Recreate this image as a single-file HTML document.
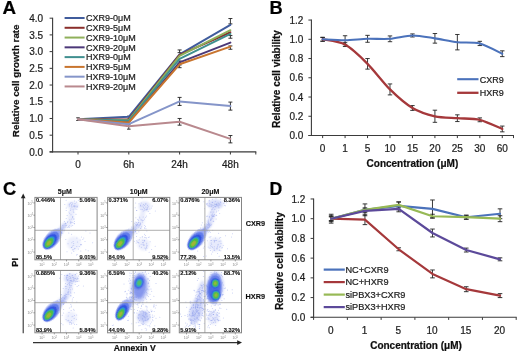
<!DOCTYPE html>
<html><head><meta charset="utf-8"><style>
html,body{margin:0;padding:0;background:#fff;}
svg{display:block;will-change:transform;font-family:"Liberation Sans", sans-serif;}
</style></head><body>
<svg width="520" height="354" viewBox="0 0 520 354">
<defs><filter id="gb" filterUnits="userSpaceOnUse" x="0" y="0" width="520" height="354"><feGaussianBlur stdDeviation="0.3"/></filter><filter id="bl" x="-50%" y="-50%" width="200%" height="200%"><feGaussianBlur stdDeviation="0.7"/></filter><filter id="bl2" x="-50%" y="-50%" width="200%" height="200%"><feGaussianBlur stdDeviation="1.3"/></filter><clipPath id="cp00"><rect x="34.9" y="197.4" width="62.2" height="62.4"/></clipPath><clipPath id="cp01"><rect x="107.6" y="197.4" width="62.2" height="62.4"/></clipPath><clipPath id="cp02"><rect x="179.3" y="197.4" width="62.2" height="62.4"/></clipPath><clipPath id="cp10"><rect x="34.9" y="270.4" width="62.2" height="62.4"/></clipPath><clipPath id="cp11"><rect x="107.6" y="270.4" width="62.2" height="62.4"/></clipPath><clipPath id="cp12"><rect x="179.3" y="270.4" width="62.2" height="62.4"/></clipPath></defs>
<rect width="520" height="354" fill="#fff"/>
<g filter="url(#gb)">
<text x="2.40" y="14.00" font-size="18.8" font-weight="bold" text-anchor="start" fill="#000" stroke="#000" stroke-width="0.22" >A</text>
<line x1="52.60" y1="17.68" x2="52.60" y2="152.40" stroke="#3a3a3a" stroke-width="1.1" />
<line x1="49.60" y1="151.90" x2="256.30" y2="151.90" stroke="#3a3a3a" stroke-width="1.1" />
<line x1="49.60" y1="151.90" x2="52.60" y2="151.90" stroke="#3a3a3a" stroke-width="1" />
<text x="43.20" y="155.50" font-size="10" font-weight="normal" text-anchor="end" fill="#1e1e1e" stroke="#1e1e1e" stroke-width="0.22" >0.0</text>
<line x1="49.60" y1="135.19" x2="52.60" y2="135.19" stroke="#3a3a3a" stroke-width="1" />
<text x="43.20" y="138.78" font-size="10" font-weight="normal" text-anchor="end" fill="#1e1e1e" stroke="#1e1e1e" stroke-width="0.22" >0.5</text>
<line x1="49.60" y1="118.47" x2="52.60" y2="118.47" stroke="#3a3a3a" stroke-width="1" />
<text x="43.20" y="122.07" font-size="10" font-weight="normal" text-anchor="end" fill="#1e1e1e" stroke="#1e1e1e" stroke-width="0.22" >1.0</text>
<line x1="49.60" y1="101.76" x2="52.60" y2="101.76" stroke="#3a3a3a" stroke-width="1" />
<text x="43.20" y="105.36" font-size="10" font-weight="normal" text-anchor="end" fill="#1e1e1e" stroke="#1e1e1e" stroke-width="0.22" >1.5</text>
<line x1="49.60" y1="85.04" x2="52.60" y2="85.04" stroke="#3a3a3a" stroke-width="1" />
<text x="43.20" y="88.64" font-size="10" font-weight="normal" text-anchor="end" fill="#1e1e1e" stroke="#1e1e1e" stroke-width="0.22" >2.0</text>
<line x1="49.60" y1="68.33" x2="52.60" y2="68.33" stroke="#3a3a3a" stroke-width="1" />
<text x="43.20" y="71.92" font-size="10" font-weight="normal" text-anchor="end" fill="#1e1e1e" stroke="#1e1e1e" stroke-width="0.22" >2.5</text>
<line x1="49.60" y1="51.61" x2="52.60" y2="51.61" stroke="#3a3a3a" stroke-width="1" />
<text x="43.20" y="55.21" font-size="10" font-weight="normal" text-anchor="end" fill="#1e1e1e" stroke="#1e1e1e" stroke-width="0.22" >3.0</text>
<line x1="49.60" y1="34.90" x2="52.60" y2="34.90" stroke="#3a3a3a" stroke-width="1" />
<text x="43.20" y="38.50" font-size="10" font-weight="normal" text-anchor="end" fill="#1e1e1e" stroke="#1e1e1e" stroke-width="0.22" >3.5</text>
<line x1="49.60" y1="18.18" x2="52.60" y2="18.18" stroke="#3a3a3a" stroke-width="1" />
<text x="43.20" y="21.78" font-size="10" font-weight="normal" text-anchor="end" fill="#1e1e1e" stroke="#1e1e1e" stroke-width="0.22" >4.0</text>
<line x1="78.00" y1="151.90" x2="78.00" y2="154.50" stroke="#3a3a3a" stroke-width="1" />
<line x1="128.80" y1="151.90" x2="128.80" y2="154.50" stroke="#3a3a3a" stroke-width="1" />
<line x1="179.60" y1="151.90" x2="179.60" y2="154.50" stroke="#3a3a3a" stroke-width="1" />
<line x1="230.40" y1="151.90" x2="230.40" y2="154.50" stroke="#3a3a3a" stroke-width="1" />
<line x1="255.80" y1="151.90" x2="255.80" y2="154.50" stroke="#3a3a3a" stroke-width="1" />
<text x="78.00" y="168.40" font-size="10" font-weight="normal" text-anchor="middle" fill="#1e1e1e" stroke="#1e1e1e" stroke-width="0.22" >0</text>
<text x="128.80" y="168.40" font-size="10" font-weight="normal" text-anchor="middle" fill="#1e1e1e" stroke="#1e1e1e" stroke-width="0.22" >6h</text>
<text x="179.60" y="168.40" font-size="10" font-weight="normal" text-anchor="middle" fill="#1e1e1e" stroke="#1e1e1e" stroke-width="0.22" >24h</text>
<text x="230.40" y="168.40" font-size="10" font-weight="normal" text-anchor="middle" fill="#1e1e1e" stroke="#1e1e1e" stroke-width="0.22" >48h</text>
<text x="19.30" y="80.80" font-size="9.8" font-weight="bold" text-anchor="middle" fill="#111" stroke="#111" stroke-width="0.22" transform="rotate(-90 19.3 80.8)">Relative cell growth rate</text>
<line x1="78.00" y1="117.80" x2="78.00" y2="120.48" stroke="#222" stroke-width="0.9" />
<line x1="76.20" y1="117.80" x2="79.80" y2="117.80" stroke="#222" stroke-width="0.9" />
<line x1="76.20" y1="120.48" x2="79.80" y2="120.48" stroke="#222" stroke-width="0.9" />
<line x1="128.80" y1="116.13" x2="128.80" y2="119.14" stroke="#222" stroke-width="0.9" />
<line x1="127.00" y1="116.13" x2="130.60" y2="116.13" stroke="#222" stroke-width="0.9" />
<line x1="127.00" y1="119.14" x2="130.60" y2="119.14" stroke="#222" stroke-width="0.9" />
<line x1="128.80" y1="124.15" x2="128.80" y2="129.17" stroke="#222" stroke-width="0.9" />
<line x1="127.00" y1="124.15" x2="130.60" y2="124.15" stroke="#222" stroke-width="0.9" />
<line x1="127.00" y1="129.17" x2="130.60" y2="129.17" stroke="#222" stroke-width="0.9" />
<line x1="179.60" y1="49.94" x2="179.60" y2="52.61" stroke="#222" stroke-width="0.9" />
<line x1="177.60" y1="49.94" x2="181.60" y2="49.94" stroke="#222" stroke-width="0.9" />
<line x1="177.60" y1="52.61" x2="181.60" y2="52.61" stroke="#222" stroke-width="0.9" />
<line x1="179.60" y1="60.97" x2="179.60" y2="63.31" stroke="#222" stroke-width="0.9" />
<line x1="177.60" y1="60.97" x2="181.60" y2="60.97" stroke="#222" stroke-width="0.9" />
<line x1="177.60" y1="63.31" x2="181.60" y2="63.31" stroke="#222" stroke-width="0.9" />
<line x1="179.60" y1="64.98" x2="179.60" y2="67.66" stroke="#222" stroke-width="0.9" />
<line x1="177.60" y1="64.98" x2="181.60" y2="64.98" stroke="#222" stroke-width="0.9" />
<line x1="177.60" y1="67.66" x2="181.60" y2="67.66" stroke="#222" stroke-width="0.9" />
<line x1="179.60" y1="97.41" x2="179.60" y2="105.43" stroke="#222" stroke-width="0.9" />
<line x1="177.60" y1="97.41" x2="181.60" y2="97.41" stroke="#222" stroke-width="0.9" />
<line x1="177.60" y1="105.43" x2="181.60" y2="105.43" stroke="#222" stroke-width="0.9" />
<line x1="179.60" y1="118.47" x2="179.60" y2="125.16" stroke="#222" stroke-width="0.9" />
<line x1="177.60" y1="118.47" x2="181.60" y2="118.47" stroke="#222" stroke-width="0.9" />
<line x1="177.60" y1="125.16" x2="181.60" y2="125.16" stroke="#222" stroke-width="0.9" />
<line x1="230.40" y1="18.51" x2="230.40" y2="23.86" stroke="#222" stroke-width="0.9" />
<line x1="228.40" y1="18.51" x2="232.40" y2="18.51" stroke="#222" stroke-width="0.9" />
<line x1="228.40" y1="23.86" x2="232.40" y2="23.86" stroke="#222" stroke-width="0.9" />
<line x1="230.40" y1="35.56" x2="230.40" y2="38.24" stroke="#222" stroke-width="0.9" />
<line x1="228.40" y1="35.56" x2="232.40" y2="35.56" stroke="#222" stroke-width="0.9" />
<line x1="228.40" y1="38.24" x2="232.40" y2="38.24" stroke="#222" stroke-width="0.9" />
<line x1="230.40" y1="45.93" x2="230.40" y2="49.27" stroke="#222" stroke-width="0.9" />
<line x1="228.40" y1="45.93" x2="232.40" y2="45.93" stroke="#222" stroke-width="0.9" />
<line x1="228.40" y1="49.27" x2="232.40" y2="49.27" stroke="#222" stroke-width="0.9" />
<line x1="230.40" y1="102.09" x2="230.40" y2="110.11" stroke="#222" stroke-width="0.9" />
<line x1="228.40" y1="102.09" x2="232.40" y2="102.09" stroke="#222" stroke-width="0.9" />
<line x1="228.40" y1="110.11" x2="232.40" y2="110.11" stroke="#222" stroke-width="0.9" />
<line x1="230.40" y1="135.52" x2="230.40" y2="142.87" stroke="#222" stroke-width="0.9" />
<line x1="228.40" y1="135.52" x2="232.40" y2="135.52" stroke="#222" stroke-width="0.9" />
<line x1="228.40" y1="142.87" x2="232.40" y2="142.87" stroke="#222" stroke-width="0.9" />
<polyline points="78.00,119.14 128.80,116.80 179.60,54.28 230.40,24.87" fill="none" stroke="#3f5b9c" stroke-width="2.0" stroke-linejoin="round" stroke-linecap="round"/>
<polyline points="78.00,119.14 128.80,119.47 179.60,54.95 230.40,32.22" fill="none" stroke="#8a2e2b" stroke-width="2.0" stroke-linejoin="round" stroke-linecap="round"/>
<polyline points="78.00,119.14 128.80,120.14 179.60,55.96 230.40,30.21" fill="none" stroke="#8fb05a" stroke-width="2.0" stroke-linejoin="round" stroke-linecap="round"/>
<polyline points="78.00,119.14 128.80,121.81 179.60,62.31 230.40,42.58" fill="none" stroke="#4b3878" stroke-width="2.0" stroke-linejoin="round" stroke-linecap="round"/>
<polyline points="78.00,119.14 128.80,120.81 179.60,58.96 230.40,33.89" fill="none" stroke="#3f8f8f" stroke-width="2.0" stroke-linejoin="round" stroke-linecap="round"/>
<polyline points="78.00,119.14 128.80,122.48 179.60,64.31 230.40,46.60" fill="none" stroke="#c8742f" stroke-width="2.0" stroke-linejoin="round" stroke-linecap="round"/>
<polyline points="78.00,119.14 128.80,124.15 179.60,101.42 230.40,106.10" fill="none" stroke="#8595c9" stroke-width="2.0" stroke-linejoin="round" stroke-linecap="round"/>
<polyline points="78.00,119.14 128.80,126.16 179.60,121.81 230.40,138.86" fill="none" stroke="#b9898e" stroke-width="2.0" stroke-linejoin="round" stroke-linecap="round"/>
<line x1="64.60" y1="18.00" x2="84.60" y2="18.00" stroke="#3f5b9c" stroke-width="2.0" />
<text x="86.00" y="21.30" font-size="9" font-weight="normal" text-anchor="start" fill="#1e1e1e" stroke="#1e1e1e" stroke-width="0.22" >CXR9-0μM</text>
<line x1="64.60" y1="27.78" x2="84.60" y2="27.78" stroke="#8a2e2b" stroke-width="2.0" />
<text x="86.00" y="31.08" font-size="9" font-weight="normal" text-anchor="start" fill="#1e1e1e" stroke="#1e1e1e" stroke-width="0.22" >CXR9-5μM</text>
<line x1="64.60" y1="37.56" x2="84.60" y2="37.56" stroke="#8fb05a" stroke-width="2.0" />
<text x="86.00" y="40.86" font-size="9" font-weight="normal" text-anchor="start" fill="#1e1e1e" stroke="#1e1e1e" stroke-width="0.22" >CXR9-10μM</text>
<line x1="64.60" y1="47.34" x2="84.60" y2="47.34" stroke="#4b3878" stroke-width="2.0" />
<text x="86.00" y="50.64" font-size="9" font-weight="normal" text-anchor="start" fill="#1e1e1e" stroke="#1e1e1e" stroke-width="0.22" >CXR9-20μM</text>
<line x1="64.60" y1="57.12" x2="84.60" y2="57.12" stroke="#3f8f8f" stroke-width="2.0" />
<text x="86.00" y="60.42" font-size="9" font-weight="normal" text-anchor="start" fill="#1e1e1e" stroke="#1e1e1e" stroke-width="0.22" >HXR9-0μM</text>
<line x1="64.60" y1="66.90" x2="84.60" y2="66.90" stroke="#c8742f" stroke-width="2.0" />
<text x="86.00" y="70.20" font-size="9" font-weight="normal" text-anchor="start" fill="#1e1e1e" stroke="#1e1e1e" stroke-width="0.22" >HXR9-5μM</text>
<line x1="64.60" y1="76.68" x2="84.60" y2="76.68" stroke="#8595c9" stroke-width="2.0" />
<text x="86.00" y="79.98" font-size="9" font-weight="normal" text-anchor="start" fill="#1e1e1e" stroke="#1e1e1e" stroke-width="0.22" >HXR9-10μM</text>
<line x1="64.60" y1="86.46" x2="84.60" y2="86.46" stroke="#b9898e" stroke-width="2.0" />
<text x="86.00" y="89.76" font-size="9" font-weight="normal" text-anchor="start" fill="#1e1e1e" stroke="#1e1e1e" stroke-width="0.22" >HXR9-20μM</text>
<text x="269.40" y="13.80" font-size="18.2" font-weight="bold" text-anchor="start" fill="#000" stroke="#000" stroke-width="0.22" >B</text>
<line x1="311.40" y1="19.56" x2="311.40" y2="136.00" stroke="#3a3a3a" stroke-width="1.1" />
<line x1="308.40" y1="135.50" x2="514.00" y2="135.50" stroke="#3a3a3a" stroke-width="1.1" />
<line x1="308.40" y1="135.50" x2="311.40" y2="135.50" stroke="#3a3a3a" stroke-width="1" />
<text x="303.40" y="139.10" font-size="10" font-weight="normal" text-anchor="end" fill="#1e1e1e" stroke="#1e1e1e" stroke-width="0.22" >0.0</text>
<line x1="308.40" y1="116.26" x2="311.40" y2="116.26" stroke="#3a3a3a" stroke-width="1" />
<text x="303.40" y="119.86" font-size="10" font-weight="normal" text-anchor="end" fill="#1e1e1e" stroke="#1e1e1e" stroke-width="0.22" >0.2</text>
<line x1="308.40" y1="97.02" x2="311.40" y2="97.02" stroke="#3a3a3a" stroke-width="1" />
<text x="303.40" y="100.62" font-size="10" font-weight="normal" text-anchor="end" fill="#1e1e1e" stroke="#1e1e1e" stroke-width="0.22" >0.4</text>
<line x1="308.40" y1="77.78" x2="311.40" y2="77.78" stroke="#3a3a3a" stroke-width="1" />
<text x="303.40" y="81.38" font-size="10" font-weight="normal" text-anchor="end" fill="#1e1e1e" stroke="#1e1e1e" stroke-width="0.22" >0.6</text>
<line x1="308.40" y1="58.54" x2="311.40" y2="58.54" stroke="#3a3a3a" stroke-width="1" />
<text x="303.40" y="62.14" font-size="10" font-weight="normal" text-anchor="end" fill="#1e1e1e" stroke="#1e1e1e" stroke-width="0.22" >0.8</text>
<line x1="308.40" y1="39.30" x2="311.40" y2="39.30" stroke="#3a3a3a" stroke-width="1" />
<text x="303.40" y="42.90" font-size="10" font-weight="normal" text-anchor="end" fill="#1e1e1e" stroke="#1e1e1e" stroke-width="0.22" >1.0</text>
<line x1="308.40" y1="20.06" x2="311.40" y2="20.06" stroke="#3a3a3a" stroke-width="1" />
<text x="303.40" y="23.66" font-size="10" font-weight="normal" text-anchor="end" fill="#1e1e1e" stroke="#1e1e1e" stroke-width="0.22" >1.2</text>
<line x1="322.63" y1="135.50" x2="322.63" y2="138.10" stroke="#3a3a3a" stroke-width="1" />
<line x1="345.08" y1="135.50" x2="345.08" y2="138.10" stroke="#3a3a3a" stroke-width="1" />
<line x1="367.54" y1="135.50" x2="367.54" y2="138.10" stroke="#3a3a3a" stroke-width="1" />
<line x1="389.99" y1="135.50" x2="389.99" y2="138.10" stroke="#3a3a3a" stroke-width="1" />
<line x1="412.45" y1="135.50" x2="412.45" y2="138.10" stroke="#3a3a3a" stroke-width="1" />
<line x1="434.91" y1="135.50" x2="434.91" y2="138.10" stroke="#3a3a3a" stroke-width="1" />
<line x1="457.36" y1="135.50" x2="457.36" y2="138.10" stroke="#3a3a3a" stroke-width="1" />
<line x1="479.82" y1="135.50" x2="479.82" y2="138.10" stroke="#3a3a3a" stroke-width="1" />
<line x1="502.27" y1="135.50" x2="502.27" y2="138.10" stroke="#3a3a3a" stroke-width="1" />
<line x1="513.50" y1="135.50" x2="513.50" y2="138.10" stroke="#3a3a3a" stroke-width="1" />
<text x="322.63" y="151.60" font-size="10" font-weight="normal" text-anchor="middle" fill="#1e1e1e" stroke="#1e1e1e" stroke-width="0.22" >0</text>
<text x="345.08" y="151.60" font-size="10" font-weight="normal" text-anchor="middle" fill="#1e1e1e" stroke="#1e1e1e" stroke-width="0.22" >1</text>
<text x="367.54" y="151.60" font-size="10" font-weight="normal" text-anchor="middle" fill="#1e1e1e" stroke="#1e1e1e" stroke-width="0.22" >5</text>
<text x="389.99" y="151.60" font-size="10" font-weight="normal" text-anchor="middle" fill="#1e1e1e" stroke="#1e1e1e" stroke-width="0.22" >10</text>
<text x="412.45" y="151.60" font-size="10" font-weight="normal" text-anchor="middle" fill="#1e1e1e" stroke="#1e1e1e" stroke-width="0.22" >15</text>
<text x="434.91" y="151.60" font-size="10" font-weight="normal" text-anchor="middle" fill="#1e1e1e" stroke="#1e1e1e" stroke-width="0.22" >20</text>
<text x="457.36" y="151.60" font-size="10" font-weight="normal" text-anchor="middle" fill="#1e1e1e" stroke="#1e1e1e" stroke-width="0.22" >25</text>
<text x="479.82" y="151.60" font-size="10" font-weight="normal" text-anchor="middle" fill="#1e1e1e" stroke="#1e1e1e" stroke-width="0.22" >30</text>
<text x="502.27" y="151.60" font-size="10" font-weight="normal" text-anchor="middle" fill="#1e1e1e" stroke="#1e1e1e" stroke-width="0.22" >60</text>
<text x="412.40" y="166.60" font-size="10" font-weight="bold" text-anchor="middle" fill="#111" stroke="#111" stroke-width="0.22" >Concentration (μM)</text>
<text x="279.60" y="79.00" font-size="10" font-weight="bold" text-anchor="middle" fill="#111" stroke="#111" stroke-width="0.22" transform="rotate(-90 279.6 79.0)">Relative cell viability</text>
<line x1="322.63" y1="37.38" x2="322.63" y2="41.22" stroke="#222" stroke-width="0.9" />
<line x1="320.43" y1="37.38" x2="324.83" y2="37.38" stroke="#222" stroke-width="0.9" />
<line x1="320.43" y1="41.22" x2="324.83" y2="41.22" stroke="#222" stroke-width="0.9" />
<line x1="345.08" y1="35.74" x2="345.08" y2="44.78" stroke="#222" stroke-width="0.9" />
<line x1="342.88" y1="35.74" x2="347.28" y2="35.74" stroke="#222" stroke-width="0.9" />
<line x1="342.88" y1="44.78" x2="347.28" y2="44.78" stroke="#222" stroke-width="0.9" />
<line x1="367.54" y1="35.36" x2="367.54" y2="42.28" stroke="#222" stroke-width="0.9" />
<line x1="365.34" y1="35.36" x2="369.74" y2="35.36" stroke="#222" stroke-width="0.9" />
<line x1="365.34" y1="42.28" x2="369.74" y2="42.28" stroke="#222" stroke-width="0.9" />
<line x1="389.99" y1="35.93" x2="389.99" y2="41.71" stroke="#222" stroke-width="0.9" />
<line x1="387.79" y1="35.93" x2="392.19" y2="35.93" stroke="#222" stroke-width="0.9" />
<line x1="387.79" y1="41.71" x2="392.19" y2="41.71" stroke="#222" stroke-width="0.9" />
<line x1="412.45" y1="33.91" x2="412.45" y2="36.99" stroke="#222" stroke-width="0.9" />
<line x1="410.25" y1="33.91" x2="414.65" y2="33.91" stroke="#222" stroke-width="0.9" />
<line x1="410.25" y1="36.99" x2="414.65" y2="36.99" stroke="#222" stroke-width="0.9" />
<line x1="434.91" y1="33.53" x2="434.91" y2="43.15" stroke="#222" stroke-width="0.9" />
<line x1="432.71" y1="33.53" x2="437.11" y2="33.53" stroke="#222" stroke-width="0.9" />
<line x1="432.71" y1="43.15" x2="437.11" y2="43.15" stroke="#222" stroke-width="0.9" />
<line x1="457.36" y1="34.49" x2="457.36" y2="49.88" stroke="#222" stroke-width="0.9" />
<line x1="455.16" y1="34.49" x2="459.56" y2="34.49" stroke="#222" stroke-width="0.9" />
<line x1="455.16" y1="49.88" x2="459.56" y2="49.88" stroke="#222" stroke-width="0.9" />
<line x1="479.82" y1="41.32" x2="479.82" y2="45.55" stroke="#222" stroke-width="0.9" />
<line x1="477.62" y1="41.32" x2="482.02" y2="41.32" stroke="#222" stroke-width="0.9" />
<line x1="477.62" y1="45.55" x2="482.02" y2="45.55" stroke="#222" stroke-width="0.9" />
<line x1="502.27" y1="50.84" x2="502.27" y2="56.62" stroke="#222" stroke-width="0.9" />
<line x1="500.07" y1="50.84" x2="504.47" y2="50.84" stroke="#222" stroke-width="0.9" />
<line x1="500.07" y1="56.62" x2="504.47" y2="56.62" stroke="#222" stroke-width="0.9" />
<line x1="322.63" y1="37.38" x2="322.63" y2="41.22" stroke="#222" stroke-width="0.9" />
<line x1="320.43" y1="37.38" x2="324.83" y2="37.38" stroke="#222" stroke-width="0.9" />
<line x1="320.43" y1="41.22" x2="324.83" y2="41.22" stroke="#222" stroke-width="0.9" />
<line x1="345.08" y1="42.67" x2="345.08" y2="46.52" stroke="#222" stroke-width="0.9" />
<line x1="342.88" y1="42.67" x2="347.28" y2="42.67" stroke="#222" stroke-width="0.9" />
<line x1="342.88" y1="46.52" x2="347.28" y2="46.52" stroke="#222" stroke-width="0.9" />
<line x1="367.54" y1="58.54" x2="367.54" y2="69.12" stroke="#222" stroke-width="0.9" />
<line x1="365.34" y1="58.54" x2="369.74" y2="58.54" stroke="#222" stroke-width="0.9" />
<line x1="365.34" y1="69.12" x2="369.74" y2="69.12" stroke="#222" stroke-width="0.9" />
<line x1="389.99" y1="83.94" x2="389.99" y2="94.90" stroke="#222" stroke-width="0.9" />
<line x1="387.79" y1="83.94" x2="392.19" y2="83.94" stroke="#222" stroke-width="0.9" />
<line x1="387.79" y1="94.90" x2="392.19" y2="94.90" stroke="#222" stroke-width="0.9" />
<line x1="412.45" y1="105.58" x2="412.45" y2="110.39" stroke="#222" stroke-width="0.9" />
<line x1="410.25" y1="105.58" x2="414.65" y2="105.58" stroke="#222" stroke-width="0.9" />
<line x1="410.25" y1="110.39" x2="414.65" y2="110.39" stroke="#222" stroke-width="0.9" />
<line x1="434.91" y1="110.20" x2="434.91" y2="122.32" stroke="#222" stroke-width="0.9" />
<line x1="432.71" y1="110.20" x2="437.11" y2="110.20" stroke="#222" stroke-width="0.9" />
<line x1="432.71" y1="122.32" x2="437.11" y2="122.32" stroke="#222" stroke-width="0.9" />
<line x1="457.36" y1="114.82" x2="457.36" y2="121.55" stroke="#222" stroke-width="0.9" />
<line x1="455.16" y1="114.82" x2="459.56" y2="114.82" stroke="#222" stroke-width="0.9" />
<line x1="455.16" y1="121.55" x2="459.56" y2="121.55" stroke="#222" stroke-width="0.9" />
<line x1="479.82" y1="117.90" x2="479.82" y2="121.74" stroke="#222" stroke-width="0.9" />
<line x1="477.62" y1="117.90" x2="482.02" y2="117.90" stroke="#222" stroke-width="0.9" />
<line x1="477.62" y1="121.74" x2="482.02" y2="121.74" stroke="#222" stroke-width="0.9" />
<line x1="502.27" y1="126.07" x2="502.27" y2="131.84" stroke="#222" stroke-width="0.9" />
<line x1="500.07" y1="126.07" x2="504.47" y2="126.07" stroke="#222" stroke-width="0.9" />
<line x1="500.07" y1="131.84" x2="504.47" y2="131.84" stroke="#222" stroke-width="0.9" />
<path d="M322.63,39.30 C325.62,40.01 339.10,41.32 345.08,44.59 C351.07,47.86 361.55,57.85 367.54,63.83 C373.53,69.81 384.01,83.53 389.99,89.42 C395.98,95.31 406.46,104.41 412.45,107.99 C418.44,111.57 428.92,114.90 434.91,116.26 C440.89,117.62 451.37,117.71 457.36,118.18 C463.35,118.66 473.83,118.38 479.82,119.82 C485.80,121.26 499.28,127.74 502.27,128.96" fill="none" stroke="#a5383a" stroke-width="2.3" stroke-linejoin="round" stroke-linecap="round"/>
<path d="M322.63,39.30 C325.62,39.43 339.10,40.33 345.08,40.26 C351.07,40.20 361.55,39.01 367.54,38.82 C373.53,38.63 384.01,39.27 389.99,38.82 C395.98,38.37 406.46,35.52 412.45,35.45 C418.44,35.39 428.92,37.44 434.91,38.34 C440.89,39.24 451.37,41.51 457.36,42.19 C463.35,42.87 473.83,41.90 479.82,43.44 C485.80,44.98 499.28,52.36 502.27,53.73" fill="none" stroke="#4b72bb" stroke-width="2.1" stroke-linejoin="round" stroke-linecap="round"/>
<line x1="457.20" y1="79.20" x2="478.50" y2="79.20" stroke="#4b72bb" stroke-width="2.1" />
<line x1="457.20" y1="92.80" x2="478.50" y2="92.80" stroke="#a5383a" stroke-width="2.3" />
<text x="479.80" y="82.50" font-size="9" font-weight="normal" text-anchor="start" fill="#1e1e1e" stroke="#1e1e1e" stroke-width="0.22" >CXR9</text>
<text x="479.80" y="96.10" font-size="9" font-weight="normal" text-anchor="start" fill="#1e1e1e" stroke="#1e1e1e" stroke-width="0.22" >HXR9</text>
<text x="269.60" y="194.60" font-size="17.6" font-weight="bold" text-anchor="start" fill="#000" stroke="#000" stroke-width="0.22" >D</text>
<line x1="313.60" y1="198.48" x2="313.60" y2="317.80" stroke="#3a3a3a" stroke-width="1.1" />
<line x1="310.60" y1="317.30" x2="516.70" y2="317.30" stroke="#3a3a3a" stroke-width="1.1" />
<line x1="310.60" y1="317.30" x2="313.60" y2="317.30" stroke="#3a3a3a" stroke-width="1" />
<text x="305.40" y="320.90" font-size="10" font-weight="normal" text-anchor="end" fill="#1e1e1e" stroke="#1e1e1e" stroke-width="0.22" >0.0</text>
<line x1="310.60" y1="297.58" x2="313.60" y2="297.58" stroke="#3a3a3a" stroke-width="1" />
<text x="305.40" y="301.18" font-size="10" font-weight="normal" text-anchor="end" fill="#1e1e1e" stroke="#1e1e1e" stroke-width="0.22" >0.2</text>
<line x1="310.60" y1="277.86" x2="313.60" y2="277.86" stroke="#3a3a3a" stroke-width="1" />
<text x="305.40" y="281.46" font-size="10" font-weight="normal" text-anchor="end" fill="#1e1e1e" stroke="#1e1e1e" stroke-width="0.22" >0.4</text>
<line x1="310.60" y1="258.14" x2="313.60" y2="258.14" stroke="#3a3a3a" stroke-width="1" />
<text x="305.40" y="261.74" font-size="10" font-weight="normal" text-anchor="end" fill="#1e1e1e" stroke="#1e1e1e" stroke-width="0.22" >0.6</text>
<line x1="310.60" y1="238.42" x2="313.60" y2="238.42" stroke="#3a3a3a" stroke-width="1" />
<text x="305.40" y="242.02" font-size="10" font-weight="normal" text-anchor="end" fill="#1e1e1e" stroke="#1e1e1e" stroke-width="0.22" >0.8</text>
<line x1="310.60" y1="218.70" x2="313.60" y2="218.70" stroke="#3a3a3a" stroke-width="1" />
<text x="305.40" y="222.30" font-size="10" font-weight="normal" text-anchor="end" fill="#1e1e1e" stroke="#1e1e1e" stroke-width="0.22" >1.0</text>
<line x1="310.60" y1="198.98" x2="313.60" y2="198.98" stroke="#3a3a3a" stroke-width="1" />
<text x="305.40" y="202.58" font-size="10" font-weight="normal" text-anchor="end" fill="#1e1e1e" stroke="#1e1e1e" stroke-width="0.22" >1.2</text>
<line x1="313.60" y1="317.30" x2="313.60" y2="319.90" stroke="#3a3a3a" stroke-width="1" />
<line x1="347.37" y1="317.30" x2="347.37" y2="319.90" stroke="#3a3a3a" stroke-width="1" />
<line x1="381.13" y1="317.30" x2="381.13" y2="319.90" stroke="#3a3a3a" stroke-width="1" />
<line x1="414.90" y1="317.30" x2="414.90" y2="319.90" stroke="#3a3a3a" stroke-width="1" />
<line x1="448.67" y1="317.30" x2="448.67" y2="319.90" stroke="#3a3a3a" stroke-width="1" />
<line x1="482.43" y1="317.30" x2="482.43" y2="319.90" stroke="#3a3a3a" stroke-width="1" />
<line x1="516.20" y1="317.30" x2="516.20" y2="319.90" stroke="#3a3a3a" stroke-width="1" />
<text x="330.68" y="334.00" font-size="10" font-weight="normal" text-anchor="middle" fill="#1e1e1e" stroke="#1e1e1e" stroke-width="0.22" >0</text>
<text x="364.45" y="334.00" font-size="10" font-weight="normal" text-anchor="middle" fill="#1e1e1e" stroke="#1e1e1e" stroke-width="0.22" >1</text>
<text x="398.22" y="334.00" font-size="10" font-weight="normal" text-anchor="middle" fill="#1e1e1e" stroke="#1e1e1e" stroke-width="0.22" >5</text>
<text x="431.98" y="334.00" font-size="10" font-weight="normal" text-anchor="middle" fill="#1e1e1e" stroke="#1e1e1e" stroke-width="0.22" >10</text>
<text x="465.75" y="334.00" font-size="10" font-weight="normal" text-anchor="middle" fill="#1e1e1e" stroke="#1e1e1e" stroke-width="0.22" >15</text>
<text x="499.52" y="334.00" font-size="10" font-weight="normal" text-anchor="middle" fill="#1e1e1e" stroke="#1e1e1e" stroke-width="0.22" >20</text>
<text x="416.00" y="349.00" font-size="10" font-weight="bold" text-anchor="middle" fill="#111" stroke="#111" stroke-width="0.22" >Concentration (μM)</text>
<text x="283.40" y="261.20" font-size="10" font-weight="bold" text-anchor="middle" fill="#111" stroke="#111" stroke-width="0.22" transform="rotate(-90 283.4 261.2)">Relative cell viability</text>
<line x1="331.18" y1="214.26" x2="331.18" y2="223.14" stroke="#222" stroke-width="0.9" />
<line x1="328.88" y1="214.26" x2="333.48" y2="214.26" stroke="#222" stroke-width="0.9" />
<line x1="328.88" y1="223.14" x2="333.48" y2="223.14" stroke="#222" stroke-width="0.9" />
<line x1="364.95" y1="203.91" x2="364.95" y2="215.74" stroke="#222" stroke-width="0.9" />
<line x1="362.65" y1="203.91" x2="367.25" y2="203.91" stroke="#222" stroke-width="0.9" />
<line x1="362.65" y1="215.74" x2="367.25" y2="215.74" stroke="#222" stroke-width="0.9" />
<line x1="398.72" y1="201.94" x2="398.72" y2="209.83" stroke="#222" stroke-width="0.9" />
<line x1="396.42" y1="201.94" x2="401.02" y2="201.94" stroke="#222" stroke-width="0.9" />
<line x1="396.42" y1="209.83" x2="401.02" y2="209.83" stroke="#222" stroke-width="0.9" />
<line x1="432.48" y1="199.97" x2="432.48" y2="217.71" stroke="#222" stroke-width="0.9" />
<line x1="430.18" y1="199.97" x2="434.78" y2="199.97" stroke="#222" stroke-width="0.9" />
<line x1="430.18" y1="217.71" x2="434.78" y2="217.71" stroke="#222" stroke-width="0.9" />
<line x1="466.25" y1="215.25" x2="466.25" y2="219.19" stroke="#222" stroke-width="0.9" />
<line x1="463.95" y1="215.25" x2="468.55" y2="215.25" stroke="#222" stroke-width="0.9" />
<line x1="463.95" y1="219.19" x2="468.55" y2="219.19" stroke="#222" stroke-width="0.9" />
<line x1="500.02" y1="208.84" x2="500.02" y2="218.70" stroke="#222" stroke-width="0.9" />
<line x1="497.72" y1="208.84" x2="502.32" y2="208.84" stroke="#222" stroke-width="0.9" />
<line x1="497.72" y1="218.70" x2="502.32" y2="218.70" stroke="#222" stroke-width="0.9" />
<line x1="331.18" y1="215.74" x2="331.18" y2="221.66" stroke="#222" stroke-width="0.9" />
<line x1="328.88" y1="215.74" x2="333.48" y2="215.74" stroke="#222" stroke-width="0.9" />
<line x1="328.88" y1="221.66" x2="333.48" y2="221.66" stroke="#222" stroke-width="0.9" />
<line x1="364.95" y1="214.76" x2="364.95" y2="224.62" stroke="#222" stroke-width="0.9" />
<line x1="362.65" y1="214.76" x2="367.25" y2="214.76" stroke="#222" stroke-width="0.9" />
<line x1="362.65" y1="224.62" x2="367.25" y2="224.62" stroke="#222" stroke-width="0.9" />
<line x1="398.72" y1="247.79" x2="398.72" y2="250.75" stroke="#222" stroke-width="0.9" />
<line x1="396.42" y1="247.79" x2="401.02" y2="247.79" stroke="#222" stroke-width="0.9" />
<line x1="396.42" y1="250.75" x2="401.02" y2="250.75" stroke="#222" stroke-width="0.9" />
<line x1="432.48" y1="269.97" x2="432.48" y2="277.86" stroke="#222" stroke-width="0.9" />
<line x1="430.18" y1="269.97" x2="434.78" y2="269.97" stroke="#222" stroke-width="0.9" />
<line x1="430.18" y1="277.86" x2="434.78" y2="277.86" stroke="#222" stroke-width="0.9" />
<line x1="466.25" y1="286.73" x2="466.25" y2="291.66" stroke="#222" stroke-width="0.9" />
<line x1="463.95" y1="286.73" x2="468.55" y2="286.73" stroke="#222" stroke-width="0.9" />
<line x1="463.95" y1="291.66" x2="468.55" y2="291.66" stroke="#222" stroke-width="0.9" />
<line x1="500.02" y1="293.64" x2="500.02" y2="297.58" stroke="#222" stroke-width="0.9" />
<line x1="497.72" y1="293.64" x2="502.32" y2="293.64" stroke="#222" stroke-width="0.9" />
<line x1="497.72" y1="297.58" x2="502.32" y2="297.58" stroke="#222" stroke-width="0.9" />
<line x1="331.18" y1="216.73" x2="331.18" y2="220.67" stroke="#222" stroke-width="0.9" />
<line x1="328.88" y1="216.73" x2="333.48" y2="216.73" stroke="#222" stroke-width="0.9" />
<line x1="328.88" y1="220.67" x2="333.48" y2="220.67" stroke="#222" stroke-width="0.9" />
<line x1="364.95" y1="207.85" x2="364.95" y2="211.80" stroke="#222" stroke-width="0.9" />
<line x1="362.65" y1="207.85" x2="367.25" y2="207.85" stroke="#222" stroke-width="0.9" />
<line x1="362.65" y1="211.80" x2="367.25" y2="211.80" stroke="#222" stroke-width="0.9" />
<line x1="398.72" y1="201.94" x2="398.72" y2="207.85" stroke="#222" stroke-width="0.9" />
<line x1="396.42" y1="201.94" x2="401.02" y2="201.94" stroke="#222" stroke-width="0.9" />
<line x1="396.42" y1="207.85" x2="401.02" y2="207.85" stroke="#222" stroke-width="0.9" />
<line x1="432.48" y1="214.26" x2="432.48" y2="218.21" stroke="#222" stroke-width="0.9" />
<line x1="430.18" y1="214.26" x2="434.78" y2="214.26" stroke="#222" stroke-width="0.9" />
<line x1="430.18" y1="218.21" x2="434.78" y2="218.21" stroke="#222" stroke-width="0.9" />
<line x1="466.25" y1="215.25" x2="466.25" y2="219.19" stroke="#222" stroke-width="0.9" />
<line x1="463.95" y1="215.25" x2="468.55" y2="215.25" stroke="#222" stroke-width="0.9" />
<line x1="463.95" y1="219.19" x2="468.55" y2="219.19" stroke="#222" stroke-width="0.9" />
<line x1="500.02" y1="215.74" x2="500.02" y2="221.66" stroke="#222" stroke-width="0.9" />
<line x1="497.72" y1="215.74" x2="502.32" y2="215.74" stroke="#222" stroke-width="0.9" />
<line x1="497.72" y1="221.66" x2="502.32" y2="221.66" stroke="#222" stroke-width="0.9" />
<line x1="331.18" y1="216.73" x2="331.18" y2="220.67" stroke="#222" stroke-width="0.9" />
<line x1="328.88" y1="216.73" x2="333.48" y2="216.73" stroke="#222" stroke-width="0.9" />
<line x1="328.88" y1="220.67" x2="333.48" y2="220.67" stroke="#222" stroke-width="0.9" />
<line x1="364.95" y1="208.84" x2="364.95" y2="212.78" stroke="#222" stroke-width="0.9" />
<line x1="362.65" y1="208.84" x2="367.25" y2="208.84" stroke="#222" stroke-width="0.9" />
<line x1="362.65" y1="212.78" x2="367.25" y2="212.78" stroke="#222" stroke-width="0.9" />
<line x1="398.72" y1="205.88" x2="398.72" y2="211.80" stroke="#222" stroke-width="0.9" />
<line x1="396.42" y1="205.88" x2="401.02" y2="205.88" stroke="#222" stroke-width="0.9" />
<line x1="396.42" y1="211.80" x2="401.02" y2="211.80" stroke="#222" stroke-width="0.9" />
<line x1="432.48" y1="229.05" x2="432.48" y2="236.94" stroke="#222" stroke-width="0.9" />
<line x1="430.18" y1="229.05" x2="434.78" y2="229.05" stroke="#222" stroke-width="0.9" />
<line x1="430.18" y1="236.94" x2="434.78" y2="236.94" stroke="#222" stroke-width="0.9" />
<line x1="466.25" y1="248.08" x2="466.25" y2="252.03" stroke="#222" stroke-width="0.9" />
<line x1="463.95" y1="248.08" x2="468.55" y2="248.08" stroke="#222" stroke-width="0.9" />
<line x1="463.95" y1="252.03" x2="468.55" y2="252.03" stroke="#222" stroke-width="0.9" />
<line x1="500.02" y1="257.84" x2="500.02" y2="260.80" stroke="#222" stroke-width="0.9" />
<line x1="497.72" y1="257.84" x2="502.32" y2="257.84" stroke="#222" stroke-width="0.9" />
<line x1="497.72" y1="260.80" x2="502.32" y2="260.80" stroke="#222" stroke-width="0.9" />
<polyline points="331.18,218.70 364.95,209.83 398.72,205.88 432.48,208.84 466.25,217.22 500.02,213.77" fill="none" stroke="#4b72bb" stroke-width="2.2" stroke-linejoin="round" stroke-linecap="round"/>
<polyline points="331.18,218.70 364.95,219.69 398.72,249.27 432.48,273.92 466.25,289.20 500.02,295.61" fill="none" stroke="#a5383a" stroke-width="2.2" stroke-linejoin="round" stroke-linecap="round"/>
<polyline points="331.18,218.70 364.95,209.83 398.72,204.90 432.48,216.24 466.25,217.22 500.02,218.70" fill="none" stroke="#97b955" stroke-width="2.2" stroke-linejoin="round" stroke-linecap="round"/>
<polyline points="331.18,218.70 364.95,210.81 398.72,208.84 432.48,233.00 466.25,250.05 500.02,259.32" fill="none" stroke="#5b4a9a" stroke-width="2.2" stroke-linejoin="round" stroke-linecap="round"/>
<line x1="323.70" y1="269.60" x2="344.80" y2="269.60" stroke="#4b72bb" stroke-width="2.2" />
<text x="345.40" y="272.90" font-size="9.2" font-weight="normal" text-anchor="start" fill="#1e1e1e" stroke="#1e1e1e" stroke-width="0.22" >NC+CXR9</text>
<line x1="323.70" y1="282.10" x2="344.80" y2="282.10" stroke="#a5383a" stroke-width="2.2" />
<text x="345.40" y="285.40" font-size="9.2" font-weight="normal" text-anchor="start" fill="#1e1e1e" stroke="#1e1e1e" stroke-width="0.22" >NC+HXR9</text>
<line x1="323.70" y1="294.60" x2="344.80" y2="294.60" stroke="#97b955" stroke-width="2.2" />
<text x="345.40" y="297.90" font-size="9.2" font-weight="normal" text-anchor="start" fill="#1e1e1e" stroke="#1e1e1e" stroke-width="0.22" >siPBX3+CXR9</text>
<line x1="323.70" y1="307.10" x2="344.80" y2="307.10" stroke="#5b4a9a" stroke-width="2.2" />
<text x="345.40" y="310.40" font-size="9.2" font-weight="normal" text-anchor="start" fill="#1e1e1e" stroke="#1e1e1e" stroke-width="0.22" >siPBX3+HXR9</text>
<text x="2.90" y="194.80" font-size="18.2" font-weight="bold" text-anchor="start" fill="#000" stroke="#000" stroke-width="0.22" >C</text>
<line x1="23.20" y1="333.20" x2="23.20" y2="196.50" stroke="#333" stroke-width="1.1" />
<path d="M23.2,193.6 L25.5,198.2 L20.9,198.2 Z" fill="#222"/>
<line x1="33.00" y1="342.60" x2="238.50" y2="342.60" stroke="#333" stroke-width="1.1" />
<path d="M242.0,342.6 L237.2,340.3 L237.2,344.9 Z" fill="#222"/>
<text x="17.80" y="262.40" font-size="9.2" font-weight="bold" text-anchor="middle" fill="#111" stroke="#111" stroke-width="0.22" transform="rotate(-90 17.8 262.4)">PI</text>
<text x="134.70" y="350.80" font-size="8.6" font-weight="bold" text-anchor="middle" fill="#111" stroke="#111" stroke-width="0.22" >Annexin V</text>
<text x="64.80" y="193.60" font-size="7" font-weight="bold" text-anchor="middle" fill="#111" stroke="#111" stroke-width="0.12" >5μM</text>
<text x="138.70" y="193.60" font-size="7" font-weight="bold" text-anchor="middle" fill="#111" stroke="#111" stroke-width="0.12" >10μM</text>
<text x="210.40" y="193.60" font-size="7" font-weight="bold" text-anchor="middle" fill="#111" stroke="#111" stroke-width="0.12" >20μM</text>
<text x="245.70" y="226.40" font-size="7.3" font-weight="bold" text-anchor="start" fill="#111" stroke="#111" stroke-width="0.12" >CXR9</text>
<text x="245.60" y="298.60" font-size="7.3" font-weight="bold" text-anchor="start" fill="#111" stroke="#111" stroke-width="0.12" >HXR9</text>
<g clip-path="url(#cp00)">
<ellipse cx="72.9" cy="205.4" rx="6.00" ry="4.00" fill="#b9c3f5" opacity="0.35" filter="url(#bl2)" transform="rotate(0.0 72.9 205.4)"/>
<ellipse cx="70.9" cy="217.4" rx="3.00" ry="10.00" fill="#b9c3f5" opacity="0.3" filter="url(#bl2)" transform="rotate(10.0 70.9 217.4)"/>
<ellipse cx="73.9" cy="243.4" rx="7.00" ry="7.00" fill="#b9c3f5" opacity="0.25" filter="url(#bl2)" transform="rotate(0.0 73.9 243.4)"/>
<circle cx="71.9" cy="206.9" r="0.5" fill="#8797ea" opacity="0.5"/>
<circle cx="72.0" cy="204.5" r="0.5" fill="#8797ea" opacity="0.5"/>
<circle cx="69.2" cy="204.8" r="0.5" fill="#8797ea" opacity="0.5"/>
<circle cx="77.3" cy="206.7" r="0.5" fill="#8797ea" opacity="0.5"/>
<circle cx="77.0" cy="206.1" r="0.5" fill="#8797ea" opacity="0.5"/>
<circle cx="74.5" cy="206.0" r="0.5" fill="#8797ea" opacity="0.5"/>
<circle cx="66.2" cy="208.0" r="0.5" fill="#8797ea" opacity="0.5"/>
<circle cx="74.9" cy="206.9" r="0.5" fill="#8797ea" opacity="0.5"/>
<circle cx="66.1" cy="200.2" r="0.5" fill="#8797ea" opacity="0.5"/>
<circle cx="69.3" cy="204.0" r="0.5" fill="#8797ea" opacity="0.5"/>
<circle cx="74.1" cy="205.3" r="0.5" fill="#8797ea" opacity="0.5"/>
<circle cx="75.0" cy="203.5" r="0.5" fill="#8797ea" opacity="0.5"/>
<circle cx="74.1" cy="206.6" r="0.5" fill="#8797ea" opacity="0.5"/>
<circle cx="70.3" cy="210.6" r="0.5" fill="#8797ea" opacity="0.5"/>
<circle cx="75.1" cy="209.0" r="0.5" fill="#8797ea" opacity="0.5"/>
<circle cx="70.4" cy="203.2" r="0.5" fill="#8797ea" opacity="0.5"/>
<circle cx="71.5" cy="205.1" r="0.5" fill="#8797ea" opacity="0.5"/>
<circle cx="75.4" cy="206.1" r="0.5" fill="#8797ea" opacity="0.5"/>
<circle cx="71.1" cy="202.5" r="0.5" fill="#8797ea" opacity="0.5"/>
<circle cx="70.8" cy="209.1" r="0.5" fill="#8797ea" opacity="0.5"/>
<circle cx="69.7" cy="206.1" r="0.5" fill="#8797ea" opacity="0.5"/>
<circle cx="74.6" cy="200.9" r="0.5" fill="#8797ea" opacity="0.5"/>
<circle cx="73.1" cy="209.3" r="0.5" fill="#8797ea" opacity="0.5"/>
<circle cx="64.8" cy="204.4" r="0.5" fill="#8797ea" opacity="0.5"/>
<circle cx="72.5" cy="202.9" r="0.5" fill="#8797ea" opacity="0.5"/>
<circle cx="72.5" cy="217.1" r="0.5" fill="#8797ea" opacity="0.5"/>
<circle cx="65.1" cy="223.8" r="0.5" fill="#8797ea" opacity="0.5"/>
<circle cx="71.2" cy="226.1" r="0.5" fill="#8797ea" opacity="0.5"/>
<circle cx="74.5" cy="221.5" r="0.5" fill="#8797ea" opacity="0.5"/>
<circle cx="73.6" cy="206.0" r="0.5" fill="#8797ea" opacity="0.5"/>
<circle cx="73.8" cy="212.4" r="0.5" fill="#8797ea" opacity="0.5"/>
<circle cx="71.8" cy="206.0" r="0.5" fill="#8797ea" opacity="0.5"/>
<circle cx="69.0" cy="212.1" r="0.5" fill="#8797ea" opacity="0.5"/>
<circle cx="78.3" cy="200.2" r="0.5" fill="#8797ea" opacity="0.5"/>
<circle cx="66.2" cy="218.6" r="0.5" fill="#8797ea" opacity="0.5"/>
<circle cx="74.1" cy="223.4" r="0.5" fill="#8797ea" opacity="0.5"/>
<circle cx="73.3" cy="211.1" r="0.5" fill="#8797ea" opacity="0.5"/>
<circle cx="65.9" cy="225.4" r="0.5" fill="#8797ea" opacity="0.5"/>
<circle cx="73.9" cy="219.4" r="0.5" fill="#8797ea" opacity="0.5"/>
<circle cx="70.8" cy="221.4" r="0.5" fill="#8797ea" opacity="0.5"/>
<circle cx="74.5" cy="223.8" r="0.5" fill="#8797ea" opacity="0.5"/>
<circle cx="71.4" cy="222.5" r="0.5" fill="#8797ea" opacity="0.5"/>
<circle cx="64.0" cy="227.8" r="0.5" fill="#8797ea" opacity="0.5"/>
<circle cx="72.8" cy="222.6" r="0.5" fill="#8797ea" opacity="0.5"/>
<circle cx="66.2" cy="210.6" r="0.5" fill="#8797ea" opacity="0.5"/>
<circle cx="76.6" cy="201.9" r="0.5" fill="#8797ea" opacity="0.5"/>
<circle cx="68.5" cy="226.3" r="0.5" fill="#8797ea" opacity="0.5"/>
<circle cx="64.2" cy="230.8" r="0.5" fill="#8797ea" opacity="0.5"/>
<circle cx="72.8" cy="216.4" r="0.5" fill="#8797ea" opacity="0.5"/>
<circle cx="70.7" cy="223.3" r="0.5" fill="#8797ea" opacity="0.5"/>
<circle cx="69.2" cy="227.6" r="0.5" fill="#8797ea" opacity="0.5"/>
<circle cx="69.7" cy="213.3" r="0.5" fill="#8797ea" opacity="0.5"/>
<circle cx="73.9" cy="218.3" r="0.5" fill="#8797ea" opacity="0.5"/>
<circle cx="66.6" cy="225.2" r="0.5" fill="#8797ea" opacity="0.5"/>
<circle cx="76.0" cy="214.3" r="0.5" fill="#8797ea" opacity="0.5"/>
<circle cx="67.1" cy="215.4" r="0.5" fill="#8797ea" opacity="0.5"/>
<circle cx="71.0" cy="214.7" r="0.5" fill="#8797ea" opacity="0.5"/>
<circle cx="76.9" cy="209.2" r="0.5" fill="#8797ea" opacity="0.5"/>
<circle cx="76.9" cy="207.0" r="0.5" fill="#8797ea" opacity="0.5"/>
<circle cx="67.5" cy="222.5" r="0.5" fill="#8797ea" opacity="0.5"/>
<circle cx="72.7" cy="225.6" r="0.5" fill="#8797ea" opacity="0.5"/>
<circle cx="71.7" cy="218.9" r="0.5" fill="#8797ea" opacity="0.5"/>
<circle cx="70.3" cy="222.6" r="0.5" fill="#8797ea" opacity="0.5"/>
<circle cx="69.9" cy="219.7" r="0.5" fill="#8797ea" opacity="0.5"/>
<circle cx="72.6" cy="217.7" r="0.5" fill="#8797ea" opacity="0.5"/>
<circle cx="78.3" cy="249.0" r="0.5" fill="#8797ea" opacity="0.5"/>
<circle cx="85.8" cy="249.8" r="0.5" fill="#8797ea" opacity="0.5"/>
<circle cx="73.1" cy="241.5" r="0.5" fill="#8797ea" opacity="0.5"/>
<circle cx="73.2" cy="249.7" r="0.5" fill="#8797ea" opacity="0.5"/>
<circle cx="72.3" cy="246.0" r="0.5" fill="#8797ea" opacity="0.5"/>
<circle cx="90.0" cy="233.0" r="0.5" fill="#8797ea" opacity="0.5"/>
<circle cx="68.0" cy="243.8" r="0.5" fill="#8797ea" opacity="0.5"/>
<circle cx="76.8" cy="246.5" r="0.5" fill="#8797ea" opacity="0.5"/>
<circle cx="71.3" cy="247.4" r="0.5" fill="#8797ea" opacity="0.5"/>
<circle cx="77.4" cy="241.9" r="0.5" fill="#8797ea" opacity="0.5"/>
<circle cx="88.2" cy="250.7" r="0.5" fill="#8797ea" opacity="0.5"/>
<circle cx="71.9" cy="242.8" r="0.5" fill="#8797ea" opacity="0.5"/>
<circle cx="73.7" cy="243.6" r="0.5" fill="#8797ea" opacity="0.5"/>
<circle cx="60.1" cy="236.8" r="0.5" fill="#8797ea" opacity="0.5"/>
<circle cx="82.8" cy="239.5" r="0.5" fill="#8797ea" opacity="0.5"/>
<circle cx="72.8" cy="249.7" r="0.5" fill="#8797ea" opacity="0.5"/>
<circle cx="77.2" cy="254.5" r="0.5" fill="#8797ea" opacity="0.5"/>
<circle cx="65.8" cy="239.4" r="0.5" fill="#8797ea" opacity="0.5"/>
<circle cx="71.8" cy="247.4" r="0.5" fill="#8797ea" opacity="0.5"/>
<circle cx="85.9" cy="231.0" r="0.5" fill="#8797ea" opacity="0.5"/>
<circle cx="83.7" cy="238.0" r="0.5" fill="#8797ea" opacity="0.5"/>
<circle cx="81.5" cy="237.1" r="0.5" fill="#8797ea" opacity="0.5"/>
<circle cx="73.8" cy="251.6" r="0.5" fill="#8797ea" opacity="0.5"/>
<circle cx="73.7" cy="245.2" r="0.5" fill="#8797ea" opacity="0.5"/>
<circle cx="79.2" cy="246.6" r="0.5" fill="#8797ea" opacity="0.5"/>
<circle cx="71.7" cy="253.0" r="0.5" fill="#8797ea" opacity="0.5"/>
<circle cx="81.4" cy="244.6" r="0.5" fill="#8797ea" opacity="0.5"/>
<circle cx="92.7" cy="242.7" r="0.5" fill="#8797ea" opacity="0.5"/>
<circle cx="80.6" cy="244.5" r="0.5" fill="#8797ea" opacity="0.5"/>
<circle cx="74.4" cy="248.7" r="0.5" fill="#8797ea" opacity="0.5"/>
<circle cx="75.0" cy="248.5" r="0.5" fill="#8797ea" opacity="0.5"/>
<circle cx="68.8" cy="233.0" r="0.5" fill="#8797ea" opacity="0.5"/>
<circle cx="80.1" cy="240.0" r="0.5" fill="#8797ea" opacity="0.5"/>
<circle cx="71.6" cy="234.2" r="0.5" fill="#8797ea" opacity="0.5"/>
<circle cx="80.8" cy="250.9" r="0.5" fill="#8797ea" opacity="0.5"/>
<circle cx="85.0" cy="241.6" r="0.5" fill="#8797ea" opacity="0.5"/>
<circle cx="76.9" cy="237.9" r="0.5" fill="#8797ea" opacity="0.5"/>
<circle cx="76.5" cy="254.9" r="0.5" fill="#8797ea" opacity="0.5"/>
<circle cx="67.0" cy="251.8" r="0.5" fill="#8797ea" opacity="0.5"/>
<circle cx="80.9" cy="245.1" r="0.5" fill="#8797ea" opacity="0.5"/>
<circle cx="54.1" cy="244.4" r="0.5" fill="#8797ea" opacity="0.5"/>
<circle cx="58.3" cy="231.0" r="0.5" fill="#8797ea" opacity="0.5"/>
<circle cx="62.4" cy="229.8" r="0.5" fill="#8797ea" opacity="0.5"/>
<circle cx="64.4" cy="221.6" r="0.5" fill="#8797ea" opacity="0.5"/>
<circle cx="67.8" cy="227.5" r="0.5" fill="#8797ea" opacity="0.5"/>
<circle cx="65.9" cy="223.2" r="0.5" fill="#8797ea" opacity="0.5"/>
<circle cx="58.7" cy="237.1" r="0.5" fill="#8797ea" opacity="0.5"/>
<circle cx="60.6" cy="231.0" r="0.5" fill="#8797ea" opacity="0.5"/>
<circle cx="65.6" cy="223.2" r="0.5" fill="#8797ea" opacity="0.5"/>
<circle cx="49.1" cy="243.4" r="0.5" fill="#8797ea" opacity="0.5"/>
<circle cx="53.4" cy="242.8" r="0.5" fill="#8797ea" opacity="0.5"/>
<circle cx="60.1" cy="228.7" r="0.5" fill="#8797ea" opacity="0.5"/>
<circle cx="61.5" cy="232.7" r="0.5" fill="#8797ea" opacity="0.5"/>
<circle cx="62.8" cy="233.0" r="0.5" fill="#8797ea" opacity="0.5"/>
<circle cx="61.7" cy="233.4" r="0.5" fill="#8797ea" opacity="0.5"/>
<circle cx="69.5" cy="225.7" r="0.5" fill="#8797ea" opacity="0.5"/>
<circle cx="58.7" cy="236.5" r="0.5" fill="#8797ea" opacity="0.5"/>
<circle cx="49.6" cy="240.0" r="0.5" fill="#8797ea" opacity="0.5"/>
<circle cx="53.5" cy="243.8" r="0.5" fill="#8797ea" opacity="0.5"/>
<circle cx="54.5" cy="238.1" r="0.5" fill="#8797ea" opacity="0.5"/>
<circle cx="59.0" cy="232.4" r="0.5" fill="#8797ea" opacity="0.5"/>
<circle cx="57.8" cy="235.0" r="0.5" fill="#8797ea" opacity="0.5"/>
<circle cx="67.8" cy="221.6" r="0.5" fill="#8797ea" opacity="0.5"/>
<circle cx="64.2" cy="230.0" r="0.5" fill="#8797ea" opacity="0.5"/>
<circle cx="56.6" cy="230.5" r="0.5" fill="#8797ea" opacity="0.5"/>
<circle cx="59.6" cy="236.1" r="0.5" fill="#8797ea" opacity="0.5"/>
<circle cx="51.6" cy="239.5" r="0.5" fill="#8797ea" opacity="0.5"/>
<circle cx="65.8" cy="227.1" r="0.5" fill="#8797ea" opacity="0.5"/>
<circle cx="61.5" cy="232.6" r="0.5" fill="#8797ea" opacity="0.5"/>
<circle cx="58.3" cy="228.7" r="0.5" fill="#8797ea" opacity="0.5"/>
<circle cx="51.8" cy="239.0" r="0.5" fill="#8797ea" opacity="0.5"/>
<circle cx="62.8" cy="225.5" r="0.5" fill="#8797ea" opacity="0.5"/>
<circle cx="54.5" cy="235.1" r="0.5" fill="#8797ea" opacity="0.5"/>
<circle cx="53.0" cy="239.6" r="0.5" fill="#8797ea" opacity="0.5"/>
<circle cx="55.5" cy="238.4" r="0.5" fill="#8797ea" opacity="0.5"/>
<ellipse cx="56.1" cy="235.2" rx="9.50" ry="3.20" fill="#7d90ee" opacity="0.65" filter="url(#bl2)" transform="rotate(-47.3 56.1 235.2)"/>
<ellipse cx="63.5" cy="226.3" rx="4.00" ry="2.20" fill="#9aa8f0" opacity="0.55" filter="url(#bl2)" transform="rotate(-47.3 63.5 226.3)"/>
<g filter="url(#bl)" transform="rotate(-50.0 49.7 242.0)">
<ellipse cx="53.2" cy="242.0" rx="12.20" ry="7.00" fill="#9aa8f0" opacity="0.8"/>
<ellipse cx="51.7" cy="242.0" rx="10.49" ry="6.02" fill="#5c78ea" opacity="0.9"/>
<ellipse cx="50.5" cy="242.0" rx="8.54" ry="4.90" fill="#2f50e0" opacity="0.95"/>
<ellipse cx="49.4" cy="242.0" rx="6.83" ry="3.92" fill="#2a98d2" opacity="1"/>
<ellipse cx="48.8" cy="242.0" rx="5.61" ry="3.22" fill="#4cbd46" opacity="1"/>
<ellipse cx="48.4" cy="242.0" rx="3.05" ry="1.75" fill="#a0b634" opacity="1"/>
</g>
</g>
<line x1="60.50" y1="197.40" x2="60.50" y2="259.80" stroke="#9a9a9a" stroke-width="0.8" />
<line x1="34.90" y1="230.30" x2="97.10" y2="230.30" stroke="#9a9a9a" stroke-width="0.8" />
<rect x="34.9" y="197.4" width="62.2" height="62.4" fill="none" stroke="#858585" stroke-width="1"/>
<line x1="33.30" y1="202.90" x2="34.90" y2="202.90" stroke="#666" stroke-width="0.6" />
<text x="27.5" y="204.5" font-size="3.6" fill="#888">10<tspan dy="-1.4" font-size="2.6">5</tspan></text>
<line x1="42.10" y1="259.80" x2="42.10" y2="261.40" stroke="#666" stroke-width="0.6" />
<text x="39.3" y="266.2" font-size="3.6" fill="#888">10<tspan dy="-1.4" font-size="2.6">1</tspan></text>
<line x1="33.30" y1="215.20" x2="34.90" y2="215.20" stroke="#666" stroke-width="0.6" />
<text x="27.5" y="216.8" font-size="3.6" fill="#888">10<tspan dy="-1.4" font-size="2.6">4</tspan></text>
<line x1="54.30" y1="259.80" x2="54.30" y2="261.40" stroke="#666" stroke-width="0.6" />
<text x="51.5" y="266.2" font-size="3.6" fill="#888">10<tspan dy="-1.4" font-size="2.6">2</tspan></text>
<line x1="33.30" y1="227.50" x2="34.90" y2="227.50" stroke="#666" stroke-width="0.6" />
<text x="27.5" y="229.1" font-size="3.6" fill="#888">10<tspan dy="-1.4" font-size="2.6">3</tspan></text>
<line x1="66.50" y1="259.80" x2="66.50" y2="261.40" stroke="#666" stroke-width="0.6" />
<text x="63.7" y="266.2" font-size="3.6" fill="#888">10<tspan dy="-1.4" font-size="2.6">3</tspan></text>
<line x1="33.30" y1="239.80" x2="34.90" y2="239.80" stroke="#666" stroke-width="0.6" />
<text x="27.5" y="241.4" font-size="3.6" fill="#888">10<tspan dy="-1.4" font-size="2.6">2</tspan></text>
<line x1="78.70" y1="259.80" x2="78.70" y2="261.40" stroke="#666" stroke-width="0.6" />
<text x="75.9" y="266.2" font-size="3.6" fill="#888">10<tspan dy="-1.4" font-size="2.6">4</tspan></text>
<line x1="33.30" y1="252.10" x2="34.90" y2="252.10" stroke="#666" stroke-width="0.6" />
<text x="27.5" y="253.7" font-size="3.6" fill="#888">10<tspan dy="-1.4" font-size="2.6">1</tspan></text>
<line x1="90.90" y1="259.80" x2="90.90" y2="261.40" stroke="#666" stroke-width="0.6" />
<text x="88.1" y="266.2" font-size="3.6" fill="#888">10<tspan dy="-1.4" font-size="2.6">5</tspan></text>
<text x="35.90" y="202.00" font-size="5.7" font-weight="bold" text-anchor="start" fill="#111" stroke="#111" stroke-width="0.12" >0.446%</text>
<text x="95.60" y="202.00" font-size="5.7" font-weight="bold" text-anchor="end" fill="#111" stroke="#111" stroke-width="0.12" >5.06%</text>
<text x="35.90" y="258.60" font-size="5.7" font-weight="bold" text-anchor="start" fill="#111" stroke="#111" stroke-width="0.12" >85.5%</text>
<text x="95.60" y="258.60" font-size="5.7" font-weight="bold" text-anchor="end" fill="#111" stroke="#111" stroke-width="0.12" >9.01%</text>
<g clip-path="url(#cp01)">
<ellipse cx="144.6" cy="206.4" rx="6.00" ry="5.00" fill="#b9c3f5" opacity="0.4" filter="url(#bl2)" transform="rotate(0.0 144.6 206.4)"/>
<ellipse cx="141.6" cy="219.4" rx="3.00" ry="10.00" fill="#b9c3f5" opacity="0.3" filter="url(#bl2)" transform="rotate(10.0 141.6 219.4)"/>
<ellipse cx="143.6" cy="244.4" rx="6.00" ry="6.00" fill="#b9c3f5" opacity="0.3" filter="url(#bl2)" transform="rotate(0.0 143.6 244.4)"/>
<circle cx="135.2" cy="207.7" r="0.5" fill="#8797ea" opacity="0.5"/>
<circle cx="142.0" cy="198.6" r="0.5" fill="#8797ea" opacity="0.5"/>
<circle cx="147.5" cy="205.3" r="0.5" fill="#8797ea" opacity="0.5"/>
<circle cx="135.7" cy="202.9" r="0.5" fill="#8797ea" opacity="0.5"/>
<circle cx="145.8" cy="204.6" r="0.5" fill="#8797ea" opacity="0.5"/>
<circle cx="147.7" cy="209.4" r="0.5" fill="#8797ea" opacity="0.5"/>
<circle cx="147.3" cy="207.7" r="0.5" fill="#8797ea" opacity="0.5"/>
<circle cx="149.9" cy="209.0" r="0.5" fill="#8797ea" opacity="0.5"/>
<circle cx="148.2" cy="211.6" r="0.5" fill="#8797ea" opacity="0.5"/>
<circle cx="143.4" cy="204.5" r="0.5" fill="#8797ea" opacity="0.5"/>
<circle cx="152.4" cy="199.4" r="0.5" fill="#8797ea" opacity="0.5"/>
<circle cx="146.5" cy="216.1" r="0.5" fill="#8797ea" opacity="0.5"/>
<circle cx="140.9" cy="209.2" r="0.5" fill="#8797ea" opacity="0.5"/>
<circle cx="152.1" cy="205.9" r="0.5" fill="#8797ea" opacity="0.5"/>
<circle cx="146.8" cy="210.0" r="0.5" fill="#8797ea" opacity="0.5"/>
<circle cx="141.0" cy="206.0" r="0.5" fill="#8797ea" opacity="0.5"/>
<circle cx="145.8" cy="209.7" r="0.5" fill="#8797ea" opacity="0.5"/>
<circle cx="144.5" cy="205.6" r="0.5" fill="#8797ea" opacity="0.5"/>
<circle cx="140.5" cy="205.0" r="0.5" fill="#8797ea" opacity="0.5"/>
<circle cx="148.2" cy="206.8" r="0.5" fill="#8797ea" opacity="0.5"/>
<circle cx="141.2" cy="203.0" r="0.5" fill="#8797ea" opacity="0.5"/>
<circle cx="155.3" cy="211.0" r="0.5" fill="#8797ea" opacity="0.5"/>
<circle cx="147.1" cy="208.3" r="0.5" fill="#8797ea" opacity="0.5"/>
<circle cx="151.3" cy="208.1" r="0.5" fill="#8797ea" opacity="0.5"/>
<circle cx="144.3" cy="208.5" r="0.5" fill="#8797ea" opacity="0.5"/>
<circle cx="136.8" cy="210.5" r="0.5" fill="#8797ea" opacity="0.5"/>
<circle cx="145.9" cy="203.6" r="0.5" fill="#8797ea" opacity="0.5"/>
<circle cx="149.9" cy="213.6" r="0.5" fill="#8797ea" opacity="0.5"/>
<circle cx="139.0" cy="203.7" r="0.5" fill="#8797ea" opacity="0.5"/>
<circle cx="145.8" cy="207.1" r="0.5" fill="#8797ea" opacity="0.5"/>
<circle cx="142.2" cy="209.6" r="0.5" fill="#8797ea" opacity="0.5"/>
<circle cx="146.0" cy="228.8" r="0.5" fill="#8797ea" opacity="0.5"/>
<circle cx="140.5" cy="205.8" r="0.5" fill="#8797ea" opacity="0.5"/>
<circle cx="144.8" cy="228.1" r="0.5" fill="#8797ea" opacity="0.5"/>
<circle cx="145.5" cy="226.6" r="0.5" fill="#8797ea" opacity="0.5"/>
<circle cx="138.6" cy="220.2" r="0.5" fill="#8797ea" opacity="0.5"/>
<circle cx="136.6" cy="210.5" r="0.5" fill="#8797ea" opacity="0.5"/>
<circle cx="140.5" cy="223.0" r="0.5" fill="#8797ea" opacity="0.5"/>
<circle cx="139.7" cy="216.9" r="0.5" fill="#8797ea" opacity="0.5"/>
<circle cx="142.3" cy="222.0" r="0.5" fill="#8797ea" opacity="0.5"/>
<circle cx="143.1" cy="220.6" r="0.5" fill="#8797ea" opacity="0.5"/>
<circle cx="139.2" cy="225.2" r="0.5" fill="#8797ea" opacity="0.5"/>
<circle cx="143.2" cy="211.1" r="0.5" fill="#8797ea" opacity="0.5"/>
<circle cx="139.8" cy="218.0" r="0.5" fill="#8797ea" opacity="0.5"/>
<circle cx="141.0" cy="219.7" r="0.5" fill="#8797ea" opacity="0.5"/>
<circle cx="141.3" cy="220.0" r="0.5" fill="#8797ea" opacity="0.5"/>
<circle cx="143.5" cy="207.2" r="0.5" fill="#8797ea" opacity="0.5"/>
<circle cx="141.0" cy="227.9" r="0.5" fill="#8797ea" opacity="0.5"/>
<circle cx="143.2" cy="217.0" r="0.5" fill="#8797ea" opacity="0.5"/>
<circle cx="144.6" cy="210.1" r="0.5" fill="#8797ea" opacity="0.5"/>
<circle cx="135.9" cy="217.8" r="0.5" fill="#8797ea" opacity="0.5"/>
<circle cx="137.5" cy="224.4" r="0.5" fill="#8797ea" opacity="0.5"/>
<circle cx="135.7" cy="231.7" r="0.5" fill="#8797ea" opacity="0.5"/>
<circle cx="142.9" cy="206.1" r="0.5" fill="#8797ea" opacity="0.5"/>
<circle cx="138.4" cy="222.5" r="0.5" fill="#8797ea" opacity="0.5"/>
<circle cx="142.7" cy="220.3" r="0.5" fill="#8797ea" opacity="0.5"/>
<circle cx="144.7" cy="225.5" r="0.5" fill="#8797ea" opacity="0.5"/>
<circle cx="140.5" cy="223.7" r="0.5" fill="#8797ea" opacity="0.5"/>
<circle cx="144.7" cy="228.0" r="0.5" fill="#8797ea" opacity="0.5"/>
<circle cx="146.5" cy="209.5" r="0.5" fill="#8797ea" opacity="0.5"/>
<circle cx="139.9" cy="224.7" r="0.5" fill="#8797ea" opacity="0.5"/>
<circle cx="138.8" cy="227.7" r="0.5" fill="#8797ea" opacity="0.5"/>
<circle cx="141.7" cy="226.8" r="0.5" fill="#8797ea" opacity="0.5"/>
<circle cx="136.4" cy="240.7" r="0.5" fill="#8797ea" opacity="0.5"/>
<circle cx="145.6" cy="217.2" r="0.5" fill="#8797ea" opacity="0.5"/>
<circle cx="137.2" cy="241.3" r="0.5" fill="#8797ea" opacity="0.5"/>
<circle cx="139.0" cy="225.9" r="0.5" fill="#8797ea" opacity="0.5"/>
<circle cx="144.5" cy="219.0" r="0.5" fill="#8797ea" opacity="0.5"/>
<circle cx="137.8" cy="219.4" r="0.5" fill="#8797ea" opacity="0.5"/>
<circle cx="140.6" cy="228.6" r="0.5" fill="#8797ea" opacity="0.5"/>
<circle cx="147.3" cy="245.7" r="0.5" fill="#8797ea" opacity="0.5"/>
<circle cx="146.9" cy="248.2" r="0.5" fill="#8797ea" opacity="0.5"/>
<circle cx="144.5" cy="245.0" r="0.5" fill="#8797ea" opacity="0.5"/>
<circle cx="141.4" cy="247.3" r="0.5" fill="#8797ea" opacity="0.5"/>
<circle cx="139.5" cy="239.8" r="0.5" fill="#8797ea" opacity="0.5"/>
<circle cx="145.8" cy="237.4" r="0.5" fill="#8797ea" opacity="0.5"/>
<circle cx="144.5" cy="234.2" r="0.5" fill="#8797ea" opacity="0.5"/>
<circle cx="139.5" cy="246.1" r="0.5" fill="#8797ea" opacity="0.5"/>
<circle cx="146.4" cy="245.0" r="0.5" fill="#8797ea" opacity="0.5"/>
<circle cx="144.6" cy="237.3" r="0.5" fill="#8797ea" opacity="0.5"/>
<circle cx="151.6" cy="249.6" r="0.5" fill="#8797ea" opacity="0.5"/>
<circle cx="150.1" cy="241.8" r="0.5" fill="#8797ea" opacity="0.5"/>
<circle cx="145.4" cy="235.4" r="0.5" fill="#8797ea" opacity="0.5"/>
<circle cx="145.9" cy="250.0" r="0.5" fill="#8797ea" opacity="0.5"/>
<circle cx="134.6" cy="241.3" r="0.5" fill="#8797ea" opacity="0.5"/>
<circle cx="149.2" cy="236.9" r="0.5" fill="#8797ea" opacity="0.5"/>
<circle cx="136.5" cy="236.6" r="0.5" fill="#8797ea" opacity="0.5"/>
<circle cx="142.7" cy="236.8" r="0.5" fill="#8797ea" opacity="0.5"/>
<circle cx="143.4" cy="245.6" r="0.5" fill="#8797ea" opacity="0.5"/>
<circle cx="145.6" cy="248.7" r="0.5" fill="#8797ea" opacity="0.5"/>
<circle cx="149.1" cy="252.2" r="0.5" fill="#8797ea" opacity="0.5"/>
<circle cx="138.1" cy="240.0" r="0.5" fill="#8797ea" opacity="0.5"/>
<circle cx="140.1" cy="237.7" r="0.5" fill="#8797ea" opacity="0.5"/>
<circle cx="143.2" cy="244.3" r="0.5" fill="#8797ea" opacity="0.5"/>
<circle cx="148.3" cy="237.5" r="0.5" fill="#8797ea" opacity="0.5"/>
<circle cx="137.7" cy="242.5" r="0.5" fill="#8797ea" opacity="0.5"/>
<circle cx="143.1" cy="242.6" r="0.5" fill="#8797ea" opacity="0.5"/>
<circle cx="144.4" cy="240.7" r="0.5" fill="#8797ea" opacity="0.5"/>
<circle cx="146.4" cy="247.1" r="0.5" fill="#8797ea" opacity="0.5"/>
<circle cx="144.2" cy="241.1" r="0.5" fill="#8797ea" opacity="0.5"/>
<circle cx="146.8" cy="231.1" r="0.5" fill="#8797ea" opacity="0.5"/>
<circle cx="138.9" cy="243.1" r="0.5" fill="#8797ea" opacity="0.5"/>
<circle cx="136.1" cy="243.1" r="0.5" fill="#8797ea" opacity="0.5"/>
<circle cx="146.3" cy="238.0" r="0.5" fill="#8797ea" opacity="0.5"/>
<circle cx="142.9" cy="242.5" r="0.5" fill="#8797ea" opacity="0.5"/>
<circle cx="144.9" cy="248.0" r="0.5" fill="#8797ea" opacity="0.5"/>
<circle cx="144.7" cy="240.3" r="0.5" fill="#8797ea" opacity="0.5"/>
<circle cx="143.0" cy="243.9" r="0.5" fill="#8797ea" opacity="0.5"/>
<circle cx="146.7" cy="246.9" r="0.5" fill="#8797ea" opacity="0.5"/>
<circle cx="142.1" cy="236.9" r="0.5" fill="#8797ea" opacity="0.5"/>
<circle cx="142.9" cy="240.3" r="0.5" fill="#8797ea" opacity="0.5"/>
<circle cx="138.5" cy="242.2" r="0.5" fill="#8797ea" opacity="0.5"/>
<circle cx="141.1" cy="244.2" r="0.5" fill="#8797ea" opacity="0.5"/>
<circle cx="146.7" cy="243.2" r="0.5" fill="#8797ea" opacity="0.5"/>
<circle cx="155.2" cy="246.3" r="0.5" fill="#8797ea" opacity="0.5"/>
<circle cx="136.6" cy="225.5" r="0.5" fill="#8797ea" opacity="0.5"/>
<circle cx="131.8" cy="221.6" r="0.5" fill="#8797ea" opacity="0.5"/>
<circle cx="128.8" cy="235.9" r="0.5" fill="#8797ea" opacity="0.5"/>
<circle cx="138.8" cy="231.7" r="0.5" fill="#8797ea" opacity="0.5"/>
<circle cx="135.5" cy="231.6" r="0.5" fill="#8797ea" opacity="0.5"/>
<circle cx="136.8" cy="228.7" r="0.5" fill="#8797ea" opacity="0.5"/>
<circle cx="133.5" cy="228.4" r="0.5" fill="#8797ea" opacity="0.5"/>
<circle cx="131.7" cy="226.9" r="0.5" fill="#8797ea" opacity="0.5"/>
<circle cx="134.7" cy="223.3" r="0.5" fill="#8797ea" opacity="0.5"/>
<circle cx="136.8" cy="233.3" r="0.5" fill="#8797ea" opacity="0.5"/>
<circle cx="130.7" cy="232.7" r="0.5" fill="#8797ea" opacity="0.5"/>
<circle cx="136.7" cy="225.1" r="0.5" fill="#8797ea" opacity="0.5"/>
<circle cx="128.6" cy="236.2" r="0.5" fill="#8797ea" opacity="0.5"/>
<circle cx="135.5" cy="229.3" r="0.5" fill="#8797ea" opacity="0.5"/>
<circle cx="131.7" cy="238.4" r="0.5" fill="#8797ea" opacity="0.5"/>
<circle cx="138.9" cy="222.3" r="0.5" fill="#8797ea" opacity="0.5"/>
<circle cx="131.9" cy="229.3" r="0.5" fill="#8797ea" opacity="0.5"/>
<circle cx="136.4" cy="222.6" r="0.5" fill="#8797ea" opacity="0.5"/>
<circle cx="133.6" cy="227.0" r="0.5" fill="#8797ea" opacity="0.5"/>
<circle cx="130.0" cy="236.3" r="0.5" fill="#8797ea" opacity="0.5"/>
<circle cx="137.4" cy="224.1" r="0.5" fill="#8797ea" opacity="0.5"/>
<circle cx="130.2" cy="236.4" r="0.5" fill="#8797ea" opacity="0.5"/>
<circle cx="132.0" cy="232.2" r="0.5" fill="#8797ea" opacity="0.5"/>
<circle cx="140.4" cy="224.8" r="0.5" fill="#8797ea" opacity="0.5"/>
<circle cx="133.8" cy="237.8" r="0.5" fill="#8797ea" opacity="0.5"/>
<circle cx="133.2" cy="232.6" r="0.5" fill="#8797ea" opacity="0.5"/>
<circle cx="128.7" cy="234.9" r="0.5" fill="#8797ea" opacity="0.5"/>
<circle cx="127.5" cy="243.8" r="0.5" fill="#8797ea" opacity="0.5"/>
<circle cx="135.2" cy="222.0" r="0.5" fill="#8797ea" opacity="0.5"/>
<circle cx="121.9" cy="237.1" r="0.5" fill="#8797ea" opacity="0.5"/>
<circle cx="135.8" cy="224.2" r="0.5" fill="#8797ea" opacity="0.5"/>
<circle cx="130.7" cy="231.2" r="0.5" fill="#8797ea" opacity="0.5"/>
<circle cx="128.9" cy="230.4" r="0.5" fill="#8797ea" opacity="0.5"/>
<circle cx="128.9" cy="229.0" r="0.5" fill="#8797ea" opacity="0.5"/>
<circle cx="131.9" cy="232.3" r="0.5" fill="#8797ea" opacity="0.5"/>
<ellipse cx="128.1" cy="235.4" rx="9.50" ry="3.20" fill="#7d90ee" opacity="0.65" filter="url(#bl2)" transform="rotate(-45.0 128.1 235.4)"/>
<ellipse cx="136.2" cy="226.3" rx="4.00" ry="2.20" fill="#9aa8f0" opacity="0.55" filter="url(#bl2)" transform="rotate(-45.0 136.2 226.3)"/>
<g filter="url(#bl)" transform="rotate(-50.0 120.9 242.6)">
<ellipse cx="124.4" cy="242.6" rx="12.20" ry="7.00" fill="#9aa8f0" opacity="0.8"/>
<ellipse cx="122.9" cy="242.6" rx="10.49" ry="6.02" fill="#5c78ea" opacity="0.9"/>
<ellipse cx="121.7" cy="242.6" rx="8.54" ry="4.90" fill="#2f50e0" opacity="0.95"/>
<ellipse cx="120.6" cy="242.6" rx="6.83" ry="3.92" fill="#2a98d2" opacity="1"/>
<ellipse cx="120.0" cy="242.6" rx="5.61" ry="3.22" fill="#4cbd46" opacity="1"/>
<ellipse cx="119.6" cy="242.6" rx="3.05" ry="1.75" fill="#a0b634" opacity="1"/>
</g>
</g>
<line x1="133.20" y1="197.40" x2="133.20" y2="259.80" stroke="#9a9a9a" stroke-width="0.8" />
<line x1="107.60" y1="230.30" x2="169.80" y2="230.30" stroke="#9a9a9a" stroke-width="0.8" />
<rect x="107.6" y="197.4" width="62.2" height="62.4" fill="none" stroke="#858585" stroke-width="1"/>
<line x1="106.00" y1="202.90" x2="107.60" y2="202.90" stroke="#666" stroke-width="0.6" />
<text x="100.2" y="204.5" font-size="3.6" fill="#888">10<tspan dy="-1.4" font-size="2.6">5</tspan></text>
<line x1="114.80" y1="259.80" x2="114.80" y2="261.40" stroke="#666" stroke-width="0.6" />
<text x="112.0" y="266.2" font-size="3.6" fill="#888">10<tspan dy="-1.4" font-size="2.6">1</tspan></text>
<line x1="106.00" y1="215.20" x2="107.60" y2="215.20" stroke="#666" stroke-width="0.6" />
<text x="100.2" y="216.8" font-size="3.6" fill="#888">10<tspan dy="-1.4" font-size="2.6">4</tspan></text>
<line x1="127.00" y1="259.80" x2="127.00" y2="261.40" stroke="#666" stroke-width="0.6" />
<text x="124.2" y="266.2" font-size="3.6" fill="#888">10<tspan dy="-1.4" font-size="2.6">2</tspan></text>
<line x1="106.00" y1="227.50" x2="107.60" y2="227.50" stroke="#666" stroke-width="0.6" />
<text x="100.2" y="229.1" font-size="3.6" fill="#888">10<tspan dy="-1.4" font-size="2.6">3</tspan></text>
<line x1="139.20" y1="259.80" x2="139.20" y2="261.40" stroke="#666" stroke-width="0.6" />
<text x="136.4" y="266.2" font-size="3.6" fill="#888">10<tspan dy="-1.4" font-size="2.6">3</tspan></text>
<line x1="106.00" y1="239.80" x2="107.60" y2="239.80" stroke="#666" stroke-width="0.6" />
<text x="100.2" y="241.4" font-size="3.6" fill="#888">10<tspan dy="-1.4" font-size="2.6">2</tspan></text>
<line x1="151.40" y1="259.80" x2="151.40" y2="261.40" stroke="#666" stroke-width="0.6" />
<text x="148.6" y="266.2" font-size="3.6" fill="#888">10<tspan dy="-1.4" font-size="2.6">4</tspan></text>
<line x1="106.00" y1="252.10" x2="107.60" y2="252.10" stroke="#666" stroke-width="0.6" />
<text x="100.2" y="253.7" font-size="3.6" fill="#888">10<tspan dy="-1.4" font-size="2.6">1</tspan></text>
<line x1="163.60" y1="259.80" x2="163.60" y2="261.40" stroke="#666" stroke-width="0.6" />
<text x="160.8" y="266.2" font-size="3.6" fill="#888">10<tspan dy="-1.4" font-size="2.6">5</tspan></text>
<text x="108.60" y="202.00" font-size="5.7" font-weight="bold" text-anchor="start" fill="#111" stroke="#111" stroke-width="0.12" >0.371%</text>
<text x="168.30" y="202.00" font-size="5.7" font-weight="bold" text-anchor="end" fill="#111" stroke="#111" stroke-width="0.12" >6.07%</text>
<text x="108.60" y="258.60" font-size="5.7" font-weight="bold" text-anchor="start" fill="#111" stroke="#111" stroke-width="0.12" >84.0%</text>
<text x="168.30" y="258.60" font-size="5.7" font-weight="bold" text-anchor="end" fill="#111" stroke="#111" stroke-width="0.12" >9.52%</text>
<g clip-path="url(#cp02)">
<ellipse cx="215.3" cy="204.4" rx="8.00" ry="5.00" fill="#b9c3f5" opacity="0.55" filter="url(#bl2)" transform="rotate(0.0 215.3 204.4)"/>
<ellipse cx="211.3" cy="217.4" rx="3.50" ry="10.00" fill="#b9c3f5" opacity="0.45" filter="url(#bl2)" transform="rotate(15.0 211.3 217.4)"/>
<ellipse cx="215.3" cy="244.4" rx="7.00" ry="7.00" fill="#b9c3f5" opacity="0.35" filter="url(#bl2)" transform="rotate(0.0 215.3 244.4)"/>
<ellipse cx="203.3" cy="230.4" rx="6.00" ry="3.00" fill="#b9c3f5" opacity="0.4" filter="url(#bl2)" transform="rotate(-40.0 203.3 230.4)"/>
<circle cx="218.1" cy="203.7" r="0.5" fill="#8797ea" opacity="0.5"/>
<circle cx="209.9" cy="204.9" r="0.5" fill="#8797ea" opacity="0.5"/>
<circle cx="212.4" cy="209.1" r="0.5" fill="#8797ea" opacity="0.5"/>
<circle cx="219.9" cy="204.1" r="0.5" fill="#8797ea" opacity="0.5"/>
<circle cx="212.5" cy="202.3" r="0.5" fill="#8797ea" opacity="0.5"/>
<circle cx="209.7" cy="203.3" r="0.5" fill="#8797ea" opacity="0.5"/>
<circle cx="217.1" cy="205.9" r="0.5" fill="#8797ea" opacity="0.5"/>
<circle cx="218.7" cy="210.7" r="0.5" fill="#8797ea" opacity="0.5"/>
<circle cx="211.1" cy="204.4" r="0.5" fill="#8797ea" opacity="0.5"/>
<circle cx="232.1" cy="198.8" r="0.5" fill="#8797ea" opacity="0.5"/>
<circle cx="212.2" cy="204.9" r="0.5" fill="#8797ea" opacity="0.5"/>
<circle cx="216.2" cy="205.6" r="0.5" fill="#8797ea" opacity="0.5"/>
<circle cx="213.9" cy="205.5" r="0.5" fill="#8797ea" opacity="0.5"/>
<circle cx="215.6" cy="206.7" r="0.5" fill="#8797ea" opacity="0.5"/>
<circle cx="203.9" cy="201.7" r="0.5" fill="#8797ea" opacity="0.5"/>
<circle cx="215.3" cy="201.3" r="0.5" fill="#8797ea" opacity="0.5"/>
<circle cx="209.0" cy="206.3" r="0.5" fill="#8797ea" opacity="0.5"/>
<circle cx="211.4" cy="206.3" r="0.5" fill="#8797ea" opacity="0.5"/>
<circle cx="219.8" cy="205.3" r="0.5" fill="#8797ea" opacity="0.5"/>
<circle cx="218.3" cy="204.1" r="0.5" fill="#8797ea" opacity="0.5"/>
<circle cx="206.8" cy="204.3" r="0.5" fill="#8797ea" opacity="0.5"/>
<circle cx="218.0" cy="202.8" r="0.5" fill="#8797ea" opacity="0.5"/>
<circle cx="214.7" cy="206.6" r="0.5" fill="#8797ea" opacity="0.5"/>
<circle cx="210.0" cy="206.3" r="0.5" fill="#8797ea" opacity="0.5"/>
<circle cx="226.5" cy="202.7" r="0.5" fill="#8797ea" opacity="0.5"/>
<circle cx="216.2" cy="203.9" r="0.5" fill="#8797ea" opacity="0.5"/>
<circle cx="224.5" cy="205.3" r="0.5" fill="#8797ea" opacity="0.5"/>
<circle cx="220.7" cy="202.3" r="0.5" fill="#8797ea" opacity="0.5"/>
<circle cx="215.2" cy="204.4" r="0.5" fill="#8797ea" opacity="0.5"/>
<circle cx="204.6" cy="208.7" r="0.5" fill="#8797ea" opacity="0.5"/>
<circle cx="220.7" cy="199.2" r="0.5" fill="#8797ea" opacity="0.5"/>
<circle cx="219.8" cy="204.0" r="0.5" fill="#8797ea" opacity="0.5"/>
<circle cx="218.0" cy="205.5" r="0.5" fill="#8797ea" opacity="0.5"/>
<circle cx="206.3" cy="203.8" r="0.5" fill="#8797ea" opacity="0.5"/>
<circle cx="224.3" cy="202.7" r="0.5" fill="#8797ea" opacity="0.5"/>
<circle cx="209.2" cy="200.3" r="0.5" fill="#8797ea" opacity="0.5"/>
<circle cx="208.0" cy="205.4" r="0.5" fill="#8797ea" opacity="0.5"/>
<circle cx="225.5" cy="205.7" r="0.5" fill="#8797ea" opacity="0.5"/>
<circle cx="216.8" cy="211.1" r="0.5" fill="#8797ea" opacity="0.5"/>
<circle cx="212.2" cy="202.4" r="0.5" fill="#8797ea" opacity="0.5"/>
<circle cx="218.5" cy="206.0" r="0.5" fill="#8797ea" opacity="0.5"/>
<circle cx="209.2" cy="200.9" r="0.5" fill="#8797ea" opacity="0.5"/>
<circle cx="217.0" cy="205.1" r="0.5" fill="#8797ea" opacity="0.5"/>
<circle cx="207.5" cy="203.8" r="0.5" fill="#8797ea" opacity="0.5"/>
<circle cx="212.0" cy="205.8" r="0.5" fill="#8797ea" opacity="0.5"/>
<circle cx="214.6" cy="204.1" r="0.5" fill="#8797ea" opacity="0.5"/>
<circle cx="213.2" cy="207.6" r="0.5" fill="#8797ea" opacity="0.5"/>
<circle cx="223.6" cy="203.3" r="0.5" fill="#8797ea" opacity="0.5"/>
<circle cx="220.4" cy="202.1" r="0.5" fill="#8797ea" opacity="0.5"/>
<circle cx="215.7" cy="206.6" r="0.5" fill="#8797ea" opacity="0.5"/>
<circle cx="216.6" cy="215.2" r="0.5" fill="#8797ea" opacity="0.5"/>
<circle cx="210.6" cy="219.1" r="0.5" fill="#8797ea" opacity="0.5"/>
<circle cx="206.9" cy="216.4" r="0.5" fill="#8797ea" opacity="0.5"/>
<circle cx="208.5" cy="220.1" r="0.5" fill="#8797ea" opacity="0.5"/>
<circle cx="212.4" cy="199.3" r="0.5" fill="#8797ea" opacity="0.5"/>
<circle cx="210.8" cy="219.7" r="0.5" fill="#8797ea" opacity="0.5"/>
<circle cx="207.7" cy="224.7" r="0.5" fill="#8797ea" opacity="0.5"/>
<circle cx="211.9" cy="211.9" r="0.5" fill="#8797ea" opacity="0.5"/>
<circle cx="216.2" cy="204.1" r="0.5" fill="#8797ea" opacity="0.5"/>
<circle cx="209.4" cy="216.7" r="0.5" fill="#8797ea" opacity="0.5"/>
<circle cx="214.1" cy="216.6" r="0.5" fill="#8797ea" opacity="0.5"/>
<circle cx="213.7" cy="211.9" r="0.5" fill="#8797ea" opacity="0.5"/>
<circle cx="208.5" cy="232.1" r="0.5" fill="#8797ea" opacity="0.5"/>
<circle cx="204.0" cy="237.5" r="0.5" fill="#8797ea" opacity="0.5"/>
<circle cx="209.4" cy="217.1" r="0.5" fill="#8797ea" opacity="0.5"/>
<circle cx="209.5" cy="226.5" r="0.5" fill="#8797ea" opacity="0.5"/>
<circle cx="211.3" cy="224.8" r="0.5" fill="#8797ea" opacity="0.5"/>
<circle cx="207.3" cy="240.8" r="0.5" fill="#8797ea" opacity="0.5"/>
<circle cx="211.3" cy="219.8" r="0.5" fill="#8797ea" opacity="0.5"/>
<circle cx="213.2" cy="221.3" r="0.5" fill="#8797ea" opacity="0.5"/>
<circle cx="218.9" cy="207.8" r="0.5" fill="#8797ea" opacity="0.5"/>
<circle cx="214.5" cy="214.8" r="0.5" fill="#8797ea" opacity="0.5"/>
<circle cx="209.2" cy="236.9" r="0.5" fill="#8797ea" opacity="0.5"/>
<circle cx="211.8" cy="215.2" r="0.5" fill="#8797ea" opacity="0.5"/>
<circle cx="211.7" cy="209.7" r="0.5" fill="#8797ea" opacity="0.5"/>
<circle cx="208.0" cy="222.5" r="0.5" fill="#8797ea" opacity="0.5"/>
<circle cx="211.3" cy="218.0" r="0.5" fill="#8797ea" opacity="0.5"/>
<circle cx="208.8" cy="225.2" r="0.5" fill="#8797ea" opacity="0.5"/>
<circle cx="213.1" cy="216.5" r="0.5" fill="#8797ea" opacity="0.5"/>
<circle cx="213.6" cy="216.6" r="0.5" fill="#8797ea" opacity="0.5"/>
<circle cx="204.7" cy="229.2" r="0.5" fill="#8797ea" opacity="0.5"/>
<circle cx="214.8" cy="209.4" r="0.5" fill="#8797ea" opacity="0.5"/>
<circle cx="213.7" cy="221.2" r="0.5" fill="#8797ea" opacity="0.5"/>
<circle cx="203.2" cy="230.3" r="0.5" fill="#8797ea" opacity="0.5"/>
<circle cx="210.3" cy="225.4" r="0.5" fill="#8797ea" opacity="0.5"/>
<circle cx="212.2" cy="216.2" r="0.5" fill="#8797ea" opacity="0.5"/>
<circle cx="204.6" cy="224.7" r="0.5" fill="#8797ea" opacity="0.5"/>
<circle cx="212.0" cy="214.9" r="0.5" fill="#8797ea" opacity="0.5"/>
<circle cx="212.1" cy="218.3" r="0.5" fill="#8797ea" opacity="0.5"/>
<circle cx="214.1" cy="214.7" r="0.5" fill="#8797ea" opacity="0.5"/>
<circle cx="216.0" cy="198.7" r="0.5" fill="#8797ea" opacity="0.5"/>
<circle cx="208.6" cy="223.0" r="0.5" fill="#8797ea" opacity="0.5"/>
<circle cx="216.0" cy="215.2" r="0.5" fill="#8797ea" opacity="0.5"/>
<circle cx="207.4" cy="231.1" r="0.5" fill="#8797ea" opacity="0.5"/>
<circle cx="208.7" cy="223.6" r="0.5" fill="#8797ea" opacity="0.5"/>
<circle cx="216.1" cy="219.0" r="0.5" fill="#8797ea" opacity="0.5"/>
<circle cx="216.4" cy="212.1" r="0.5" fill="#8797ea" opacity="0.5"/>
<circle cx="212.1" cy="216.9" r="0.5" fill="#8797ea" opacity="0.5"/>
<circle cx="209.1" cy="227.3" r="0.5" fill="#8797ea" opacity="0.5"/>
<circle cx="219.7" cy="213.4" r="0.5" fill="#8797ea" opacity="0.5"/>
<circle cx="208.5" cy="221.3" r="0.5" fill="#8797ea" opacity="0.5"/>
<circle cx="207.1" cy="221.0" r="0.5" fill="#8797ea" opacity="0.5"/>
<circle cx="213.6" cy="215.4" r="0.5" fill="#8797ea" opacity="0.5"/>
<circle cx="216.3" cy="204.3" r="0.5" fill="#8797ea" opacity="0.5"/>
<circle cx="216.9" cy="204.5" r="0.5" fill="#8797ea" opacity="0.5"/>
<circle cx="210.5" cy="212.0" r="0.5" fill="#8797ea" opacity="0.5"/>
<circle cx="208.2" cy="224.6" r="0.5" fill="#8797ea" opacity="0.5"/>
<circle cx="212.4" cy="214.0" r="0.5" fill="#8797ea" opacity="0.5"/>
<circle cx="209.4" cy="231.6" r="0.5" fill="#8797ea" opacity="0.5"/>
<circle cx="210.5" cy="220.6" r="0.5" fill="#8797ea" opacity="0.5"/>
<circle cx="221.9" cy="248.1" r="0.5" fill="#8797ea" opacity="0.5"/>
<circle cx="203.5" cy="256.4" r="0.5" fill="#8797ea" opacity="0.5"/>
<circle cx="231.5" cy="236.9" r="0.5" fill="#8797ea" opacity="0.5"/>
<circle cx="214.3" cy="246.7" r="0.5" fill="#8797ea" opacity="0.5"/>
<circle cx="219.6" cy="249.9" r="0.5" fill="#8797ea" opacity="0.5"/>
<circle cx="215.6" cy="237.9" r="0.5" fill="#8797ea" opacity="0.5"/>
<circle cx="214.1" cy="250.5" r="0.5" fill="#8797ea" opacity="0.5"/>
<circle cx="210.9" cy="236.6" r="0.5" fill="#8797ea" opacity="0.5"/>
<circle cx="218.6" cy="233.3" r="0.5" fill="#8797ea" opacity="0.5"/>
<circle cx="214.6" cy="241.4" r="0.5" fill="#8797ea" opacity="0.5"/>
<circle cx="219.1" cy="241.2" r="0.5" fill="#8797ea" opacity="0.5"/>
<circle cx="210.9" cy="240.6" r="0.5" fill="#8797ea" opacity="0.5"/>
<circle cx="216.2" cy="240.5" r="0.5" fill="#8797ea" opacity="0.5"/>
<circle cx="214.0" cy="248.7" r="0.5" fill="#8797ea" opacity="0.5"/>
<circle cx="219.1" cy="256.3" r="0.5" fill="#8797ea" opacity="0.5"/>
<circle cx="211.6" cy="240.6" r="0.5" fill="#8797ea" opacity="0.5"/>
<circle cx="197.7" cy="250.9" r="0.5" fill="#8797ea" opacity="0.5"/>
<circle cx="211.2" cy="242.9" r="0.5" fill="#8797ea" opacity="0.5"/>
<circle cx="220.7" cy="237.5" r="0.5" fill="#8797ea" opacity="0.5"/>
<circle cx="218.0" cy="245.1" r="0.5" fill="#8797ea" opacity="0.5"/>
<circle cx="204.3" cy="242.8" r="0.5" fill="#8797ea" opacity="0.5"/>
<circle cx="225.5" cy="235.8" r="0.5" fill="#8797ea" opacity="0.5"/>
<circle cx="219.6" cy="247.0" r="0.5" fill="#8797ea" opacity="0.5"/>
<circle cx="217.2" cy="247.8" r="0.5" fill="#8797ea" opacity="0.5"/>
<circle cx="223.2" cy="245.4" r="0.5" fill="#8797ea" opacity="0.5"/>
<circle cx="221.0" cy="243.6" r="0.5" fill="#8797ea" opacity="0.5"/>
<circle cx="220.9" cy="241.0" r="0.5" fill="#8797ea" opacity="0.5"/>
<circle cx="211.6" cy="254.1" r="0.5" fill="#8797ea" opacity="0.5"/>
<circle cx="218.1" cy="244.3" r="0.5" fill="#8797ea" opacity="0.5"/>
<circle cx="210.1" cy="237.8" r="0.5" fill="#8797ea" opacity="0.5"/>
<circle cx="214.7" cy="250.1" r="0.5" fill="#8797ea" opacity="0.5"/>
<circle cx="216.8" cy="248.2" r="0.5" fill="#8797ea" opacity="0.5"/>
<circle cx="212.7" cy="252.1" r="0.5" fill="#8797ea" opacity="0.5"/>
<circle cx="214.0" cy="240.6" r="0.5" fill="#8797ea" opacity="0.5"/>
<circle cx="220.3" cy="246.3" r="0.5" fill="#8797ea" opacity="0.5"/>
<circle cx="214.7" cy="240.6" r="0.5" fill="#8797ea" opacity="0.5"/>
<circle cx="212.7" cy="247.5" r="0.5" fill="#8797ea" opacity="0.5"/>
<circle cx="219.5" cy="238.1" r="0.5" fill="#8797ea" opacity="0.5"/>
<circle cx="217.4" cy="246.2" r="0.5" fill="#8797ea" opacity="0.5"/>
<circle cx="208.2" cy="247.1" r="0.5" fill="#8797ea" opacity="0.5"/>
<circle cx="214.3" cy="242.0" r="0.5" fill="#8797ea" opacity="0.5"/>
<circle cx="217.5" cy="253.4" r="0.5" fill="#8797ea" opacity="0.5"/>
<circle cx="210.6" cy="245.7" r="0.5" fill="#8797ea" opacity="0.5"/>
<circle cx="206.2" cy="256.1" r="0.5" fill="#8797ea" opacity="0.5"/>
<circle cx="210.4" cy="250.4" r="0.5" fill="#8797ea" opacity="0.5"/>
<circle cx="210.2" cy="247.9" r="0.5" fill="#8797ea" opacity="0.5"/>
<circle cx="232.5" cy="233.8" r="0.5" fill="#8797ea" opacity="0.5"/>
<circle cx="211.9" cy="246.5" r="0.5" fill="#8797ea" opacity="0.5"/>
<circle cx="216.0" cy="240.4" r="0.5" fill="#8797ea" opacity="0.5"/>
<circle cx="227.5" cy="248.7" r="0.5" fill="#8797ea" opacity="0.5"/>
<circle cx="204.4" cy="246.4" r="0.5" fill="#8797ea" opacity="0.5"/>
<circle cx="203.4" cy="247.9" r="0.5" fill="#8797ea" opacity="0.5"/>
<circle cx="211.7" cy="244.2" r="0.5" fill="#8797ea" opacity="0.5"/>
<circle cx="222.3" cy="247.3" r="0.5" fill="#8797ea" opacity="0.5"/>
<circle cx="210.3" cy="232.2" r="0.5" fill="#8797ea" opacity="0.5"/>
<circle cx="220.8" cy="250.7" r="0.5" fill="#8797ea" opacity="0.5"/>
<circle cx="209.1" cy="247.9" r="0.5" fill="#8797ea" opacity="0.5"/>
<circle cx="217.0" cy="249.0" r="0.5" fill="#8797ea" opacity="0.5"/>
<circle cx="202.9" cy="238.7" r="0.5" fill="#8797ea" opacity="0.5"/>
<circle cx="219.2" cy="250.2" r="0.5" fill="#8797ea" opacity="0.5"/>
<circle cx="202.3" cy="222.7" r="0.5" fill="#8797ea" opacity="0.5"/>
<circle cx="205.0" cy="231.2" r="0.5" fill="#8797ea" opacity="0.5"/>
<circle cx="212.5" cy="215.9" r="0.5" fill="#8797ea" opacity="0.5"/>
<circle cx="201.9" cy="233.3" r="0.5" fill="#8797ea" opacity="0.5"/>
<circle cx="206.3" cy="225.9" r="0.5" fill="#8797ea" opacity="0.5"/>
<circle cx="206.7" cy="223.9" r="0.5" fill="#8797ea" opacity="0.5"/>
<circle cx="203.4" cy="229.1" r="0.5" fill="#8797ea" opacity="0.5"/>
<circle cx="202.6" cy="229.5" r="0.5" fill="#8797ea" opacity="0.5"/>
<circle cx="198.5" cy="241.9" r="0.5" fill="#8797ea" opacity="0.5"/>
<circle cx="203.5" cy="228.9" r="0.5" fill="#8797ea" opacity="0.5"/>
<circle cx="206.1" cy="231.8" r="0.5" fill="#8797ea" opacity="0.5"/>
<circle cx="198.8" cy="236.6" r="0.5" fill="#8797ea" opacity="0.5"/>
<circle cx="206.7" cy="229.3" r="0.5" fill="#8797ea" opacity="0.5"/>
<circle cx="197.7" cy="230.0" r="0.5" fill="#8797ea" opacity="0.5"/>
<circle cx="209.4" cy="225.1" r="0.5" fill="#8797ea" opacity="0.5"/>
<circle cx="202.8" cy="230.9" r="0.5" fill="#8797ea" opacity="0.5"/>
<circle cx="203.6" cy="229.3" r="0.5" fill="#8797ea" opacity="0.5"/>
<circle cx="197.4" cy="235.9" r="0.5" fill="#8797ea" opacity="0.5"/>
<circle cx="199.5" cy="233.7" r="0.5" fill="#8797ea" opacity="0.5"/>
<circle cx="199.5" cy="238.7" r="0.5" fill="#8797ea" opacity="0.5"/>
<circle cx="198.9" cy="239.6" r="0.5" fill="#8797ea" opacity="0.5"/>
<circle cx="199.6" cy="237.5" r="0.5" fill="#8797ea" opacity="0.5"/>
<circle cx="209.7" cy="224.2" r="0.5" fill="#8797ea" opacity="0.5"/>
<circle cx="200.2" cy="235.5" r="0.5" fill="#8797ea" opacity="0.5"/>
<circle cx="200.5" cy="227.9" r="0.5" fill="#8797ea" opacity="0.5"/>
<circle cx="201.0" cy="235.0" r="0.5" fill="#8797ea" opacity="0.5"/>
<circle cx="201.4" cy="234.1" r="0.5" fill="#8797ea" opacity="0.5"/>
<circle cx="208.0" cy="228.6" r="0.5" fill="#8797ea" opacity="0.5"/>
<circle cx="208.4" cy="227.3" r="0.5" fill="#8797ea" opacity="0.5"/>
<circle cx="202.0" cy="233.0" r="0.5" fill="#8797ea" opacity="0.5"/>
<circle cx="201.5" cy="232.4" r="0.5" fill="#8797ea" opacity="0.5"/>
<circle cx="199.1" cy="229.7" r="0.5" fill="#8797ea" opacity="0.5"/>
<circle cx="201.8" cy="233.2" r="0.5" fill="#8797ea" opacity="0.5"/>
<circle cx="199.0" cy="236.7" r="0.5" fill="#8797ea" opacity="0.5"/>
<circle cx="205.2" cy="228.3" r="0.5" fill="#8797ea" opacity="0.5"/>
<circle cx="207.2" cy="216.0" r="0.5" fill="#8797ea" opacity="0.5"/>
<circle cx="198.8" cy="229.7" r="0.5" fill="#8797ea" opacity="0.5"/>
<circle cx="212.8" cy="230.2" r="0.5" fill="#8797ea" opacity="0.5"/>
<circle cx="192.7" cy="245.3" r="0.5" fill="#8797ea" opacity="0.5"/>
<circle cx="205.0" cy="228.1" r="0.5" fill="#8797ea" opacity="0.5"/>
<circle cx="201.3" cy="224.9" r="0.5" fill="#8797ea" opacity="0.5"/>
<circle cx="207.7" cy="227.3" r="0.5" fill="#8797ea" opacity="0.5"/>
<circle cx="202.2" cy="230.4" r="0.5" fill="#8797ea" opacity="0.5"/>
<circle cx="205.1" cy="227.1" r="0.5" fill="#8797ea" opacity="0.5"/>
<circle cx="203.3" cy="229.4" r="0.5" fill="#8797ea" opacity="0.5"/>
<ellipse cx="200.6" cy="235.4" rx="9.50" ry="3.20" fill="#7d90ee" opacity="0.65" filter="url(#bl2)" transform="rotate(-48.8 200.6 235.4)"/>
<ellipse cx="207.9" cy="226.3" rx="4.00" ry="2.20" fill="#9aa8f0" opacity="0.55" filter="url(#bl2)" transform="rotate(-48.8 207.9 226.3)"/>
<g filter="url(#bl)" transform="rotate(-50.0 194.3 242.4)">
<ellipse cx="197.8" cy="242.4" rx="12.20" ry="7.00" fill="#9aa8f0" opacity="0.8"/>
<ellipse cx="196.3" cy="242.4" rx="10.49" ry="6.02" fill="#5c78ea" opacity="0.9"/>
<ellipse cx="195.1" cy="242.4" rx="8.54" ry="4.90" fill="#2f50e0" opacity="0.95"/>
<ellipse cx="194.0" cy="242.4" rx="6.83" ry="3.92" fill="#2a98d2" opacity="1"/>
<ellipse cx="193.4" cy="242.4" rx="5.61" ry="3.22" fill="#4cbd46" opacity="1"/>
<ellipse cx="193.0" cy="242.4" rx="3.05" ry="1.75" fill="#a0b634" opacity="1"/>
</g>
</g>
<line x1="204.90" y1="197.40" x2="204.90" y2="259.80" stroke="#9a9a9a" stroke-width="0.8" />
<line x1="179.30" y1="230.30" x2="241.50" y2="230.30" stroke="#9a9a9a" stroke-width="0.8" />
<rect x="179.3" y="197.4" width="62.2" height="62.4" fill="none" stroke="#858585" stroke-width="1"/>
<line x1="177.70" y1="202.90" x2="179.30" y2="202.90" stroke="#666" stroke-width="0.6" />
<text x="171.9" y="204.5" font-size="3.6" fill="#888">10<tspan dy="-1.4" font-size="2.6">5</tspan></text>
<line x1="186.50" y1="259.80" x2="186.50" y2="261.40" stroke="#666" stroke-width="0.6" />
<text x="183.7" y="266.2" font-size="3.6" fill="#888">10<tspan dy="-1.4" font-size="2.6">1</tspan></text>
<line x1="177.70" y1="215.20" x2="179.30" y2="215.20" stroke="#666" stroke-width="0.6" />
<text x="171.9" y="216.8" font-size="3.6" fill="#888">10<tspan dy="-1.4" font-size="2.6">4</tspan></text>
<line x1="198.70" y1="259.80" x2="198.70" y2="261.40" stroke="#666" stroke-width="0.6" />
<text x="195.9" y="266.2" font-size="3.6" fill="#888">10<tspan dy="-1.4" font-size="2.6">2</tspan></text>
<line x1="177.70" y1="227.50" x2="179.30" y2="227.50" stroke="#666" stroke-width="0.6" />
<text x="171.9" y="229.1" font-size="3.6" fill="#888">10<tspan dy="-1.4" font-size="2.6">3</tspan></text>
<line x1="210.90" y1="259.80" x2="210.90" y2="261.40" stroke="#666" stroke-width="0.6" />
<text x="208.1" y="266.2" font-size="3.6" fill="#888">10<tspan dy="-1.4" font-size="2.6">3</tspan></text>
<line x1="177.70" y1="239.80" x2="179.30" y2="239.80" stroke="#666" stroke-width="0.6" />
<text x="171.9" y="241.4" font-size="3.6" fill="#888">10<tspan dy="-1.4" font-size="2.6">2</tspan></text>
<line x1="223.10" y1="259.80" x2="223.10" y2="261.40" stroke="#666" stroke-width="0.6" />
<text x="220.3" y="266.2" font-size="3.6" fill="#888">10<tspan dy="-1.4" font-size="2.6">4</tspan></text>
<line x1="177.70" y1="252.10" x2="179.30" y2="252.10" stroke="#666" stroke-width="0.6" />
<text x="171.9" y="253.7" font-size="3.6" fill="#888">10<tspan dy="-1.4" font-size="2.6">1</tspan></text>
<line x1="235.30" y1="259.80" x2="235.30" y2="261.40" stroke="#666" stroke-width="0.6" />
<text x="232.5" y="266.2" font-size="3.6" fill="#888">10<tspan dy="-1.4" font-size="2.6">5</tspan></text>
<text x="180.30" y="202.00" font-size="5.7" font-weight="bold" text-anchor="start" fill="#111" stroke="#111" stroke-width="0.12" >0.876%</text>
<text x="240.00" y="202.00" font-size="5.7" font-weight="bold" text-anchor="end" fill="#111" stroke="#111" stroke-width="0.12" >8.36%</text>
<text x="180.30" y="258.60" font-size="5.7" font-weight="bold" text-anchor="start" fill="#111" stroke="#111" stroke-width="0.12" >77.2%</text>
<text x="240.00" y="258.60" font-size="5.7" font-weight="bold" text-anchor="end" fill="#111" stroke="#111" stroke-width="0.12" >13.5%</text>
<g clip-path="url(#cp10)">
<ellipse cx="70.9" cy="278.4" rx="7.00" ry="5.00" fill="#b9c3f5" opacity="0.5" filter="url(#bl2)" transform="rotate(0.0 70.9 278.4)"/>
<ellipse cx="67.9" cy="290.4" rx="4.00" ry="11.00" fill="#b9c3f5" opacity="0.45" filter="url(#bl2)" transform="rotate(15.0 67.9 290.4)"/>
<ellipse cx="70.9" cy="317.4" rx="6.00" ry="6.00" fill="#b9c3f5" opacity="0.25" filter="url(#bl2)" transform="rotate(0.0 70.9 317.4)"/>
<ellipse cx="60.9" cy="301.4" rx="4.00" ry="3.00" fill="#b9c3f5" opacity="0.4" filter="url(#bl2)" transform="rotate(-40.0 60.9 301.4)"/>
<circle cx="59.7" cy="278.3" r="0.5" fill="#8797ea" opacity="0.5"/>
<circle cx="71.9" cy="281.4" r="0.5" fill="#8797ea" opacity="0.5"/>
<circle cx="66.5" cy="278.3" r="0.5" fill="#8797ea" opacity="0.5"/>
<circle cx="74.0" cy="279.0" r="0.5" fill="#8797ea" opacity="0.5"/>
<circle cx="77.1" cy="286.4" r="0.5" fill="#8797ea" opacity="0.5"/>
<circle cx="75.2" cy="284.5" r="0.5" fill="#8797ea" opacity="0.5"/>
<circle cx="75.5" cy="281.7" r="0.5" fill="#8797ea" opacity="0.5"/>
<circle cx="67.8" cy="275.5" r="0.5" fill="#8797ea" opacity="0.5"/>
<circle cx="75.3" cy="274.8" r="0.5" fill="#8797ea" opacity="0.5"/>
<circle cx="61.8" cy="274.4" r="0.5" fill="#8797ea" opacity="0.5"/>
<circle cx="83.4" cy="286.1" r="0.5" fill="#8797ea" opacity="0.5"/>
<circle cx="67.5" cy="275.5" r="0.5" fill="#8797ea" opacity="0.5"/>
<circle cx="72.1" cy="275.4" r="0.5" fill="#8797ea" opacity="0.5"/>
<circle cx="77.5" cy="278.1" r="0.5" fill="#8797ea" opacity="0.5"/>
<circle cx="65.5" cy="283.6" r="0.5" fill="#8797ea" opacity="0.5"/>
<circle cx="68.0" cy="279.3" r="0.5" fill="#8797ea" opacity="0.5"/>
<circle cx="70.8" cy="277.1" r="0.5" fill="#8797ea" opacity="0.5"/>
<circle cx="72.5" cy="275.6" r="0.5" fill="#8797ea" opacity="0.5"/>
<circle cx="64.6" cy="275.4" r="0.5" fill="#8797ea" opacity="0.5"/>
<circle cx="70.8" cy="278.6" r="0.5" fill="#8797ea" opacity="0.5"/>
<circle cx="73.7" cy="278.9" r="0.5" fill="#8797ea" opacity="0.5"/>
<circle cx="66.9" cy="275.6" r="0.5" fill="#8797ea" opacity="0.5"/>
<circle cx="60.3" cy="277.7" r="0.5" fill="#8797ea" opacity="0.5"/>
<circle cx="73.3" cy="280.5" r="0.5" fill="#8797ea" opacity="0.5"/>
<circle cx="70.3" cy="277.7" r="0.5" fill="#8797ea" opacity="0.5"/>
<circle cx="75.6" cy="278.5" r="0.5" fill="#8797ea" opacity="0.5"/>
<circle cx="74.6" cy="280.7" r="0.5" fill="#8797ea" opacity="0.5"/>
<circle cx="72.0" cy="283.6" r="0.5" fill="#8797ea" opacity="0.5"/>
<circle cx="68.0" cy="277.0" r="0.5" fill="#8797ea" opacity="0.5"/>
<circle cx="66.9" cy="275.2" r="0.5" fill="#8797ea" opacity="0.5"/>
<circle cx="78.7" cy="285.4" r="0.5" fill="#8797ea" opacity="0.5"/>
<circle cx="71.0" cy="280.7" r="0.5" fill="#8797ea" opacity="0.5"/>
<circle cx="76.8" cy="281.6" r="0.5" fill="#8797ea" opacity="0.5"/>
<circle cx="76.9" cy="273.3" r="0.5" fill="#8797ea" opacity="0.5"/>
<circle cx="67.7" cy="280.2" r="0.5" fill="#8797ea" opacity="0.5"/>
<circle cx="78.1" cy="278.8" r="0.5" fill="#8797ea" opacity="0.5"/>
<circle cx="66.6" cy="277.0" r="0.5" fill="#8797ea" opacity="0.5"/>
<circle cx="67.6" cy="275.0" r="0.5" fill="#8797ea" opacity="0.5"/>
<circle cx="78.4" cy="275.9" r="0.5" fill="#8797ea" opacity="0.5"/>
<circle cx="71.0" cy="287.0" r="0.5" fill="#8797ea" opacity="0.5"/>
<circle cx="76.8" cy="279.7" r="0.5" fill="#8797ea" opacity="0.5"/>
<circle cx="67.8" cy="280.0" r="0.5" fill="#8797ea" opacity="0.5"/>
<circle cx="79.0" cy="280.9" r="0.5" fill="#8797ea" opacity="0.5"/>
<circle cx="77.2" cy="278.8" r="0.5" fill="#8797ea" opacity="0.5"/>
<circle cx="73.5" cy="277.6" r="0.5" fill="#8797ea" opacity="0.5"/>
<circle cx="66.5" cy="302.1" r="0.5" fill="#8797ea" opacity="0.5"/>
<circle cx="63.2" cy="288.6" r="0.5" fill="#8797ea" opacity="0.5"/>
<circle cx="70.0" cy="285.6" r="0.5" fill="#8797ea" opacity="0.5"/>
<circle cx="65.1" cy="297.0" r="0.5" fill="#8797ea" opacity="0.5"/>
<circle cx="73.3" cy="297.6" r="0.5" fill="#8797ea" opacity="0.5"/>
<circle cx="72.5" cy="277.2" r="0.5" fill="#8797ea" opacity="0.5"/>
<circle cx="74.3" cy="292.7" r="0.5" fill="#8797ea" opacity="0.5"/>
<circle cx="70.3" cy="280.6" r="0.5" fill="#8797ea" opacity="0.5"/>
<circle cx="70.1" cy="280.8" r="0.5" fill="#8797ea" opacity="0.5"/>
<circle cx="67.1" cy="294.5" r="0.5" fill="#8797ea" opacity="0.5"/>
<circle cx="67.4" cy="292.9" r="0.5" fill="#8797ea" opacity="0.5"/>
<circle cx="61.8" cy="302.1" r="0.5" fill="#8797ea" opacity="0.5"/>
<circle cx="69.7" cy="274.0" r="0.5" fill="#8797ea" opacity="0.5"/>
<circle cx="69.0" cy="283.6" r="0.5" fill="#8797ea" opacity="0.5"/>
<circle cx="65.3" cy="286.4" r="0.5" fill="#8797ea" opacity="0.5"/>
<circle cx="71.5" cy="280.3" r="0.5" fill="#8797ea" opacity="0.5"/>
<circle cx="64.3" cy="302.7" r="0.5" fill="#8797ea" opacity="0.5"/>
<circle cx="70.6" cy="289.7" r="0.5" fill="#8797ea" opacity="0.5"/>
<circle cx="68.6" cy="289.5" r="0.5" fill="#8797ea" opacity="0.5"/>
<circle cx="66.1" cy="296.7" r="0.5" fill="#8797ea" opacity="0.5"/>
<circle cx="69.8" cy="282.6" r="0.5" fill="#8797ea" opacity="0.5"/>
<circle cx="71.5" cy="285.6" r="0.5" fill="#8797ea" opacity="0.5"/>
<circle cx="63.6" cy="309.5" r="0.5" fill="#8797ea" opacity="0.5"/>
<circle cx="66.9" cy="279.7" r="0.5" fill="#8797ea" opacity="0.5"/>
<circle cx="60.7" cy="292.0" r="0.5" fill="#8797ea" opacity="0.5"/>
<circle cx="69.9" cy="273.6" r="0.5" fill="#8797ea" opacity="0.5"/>
<circle cx="61.5" cy="294.5" r="0.5" fill="#8797ea" opacity="0.5"/>
<circle cx="66.1" cy="286.5" r="0.5" fill="#8797ea" opacity="0.5"/>
<circle cx="66.0" cy="302.5" r="0.5" fill="#8797ea" opacity="0.5"/>
<circle cx="72.2" cy="301.1" r="0.5" fill="#8797ea" opacity="0.5"/>
<circle cx="68.0" cy="292.1" r="0.5" fill="#8797ea" opacity="0.5"/>
<circle cx="70.8" cy="304.4" r="0.5" fill="#8797ea" opacity="0.5"/>
<circle cx="65.8" cy="294.1" r="0.5" fill="#8797ea" opacity="0.5"/>
<circle cx="68.8" cy="291.1" r="0.5" fill="#8797ea" opacity="0.5"/>
<circle cx="69.2" cy="278.4" r="0.5" fill="#8797ea" opacity="0.5"/>
<circle cx="69.5" cy="276.5" r="0.5" fill="#8797ea" opacity="0.5"/>
<circle cx="70.9" cy="296.1" r="0.5" fill="#8797ea" opacity="0.5"/>
<circle cx="60.7" cy="301.5" r="0.5" fill="#8797ea" opacity="0.5"/>
<circle cx="75.2" cy="274.5" r="0.5" fill="#8797ea" opacity="0.5"/>
<circle cx="72.3" cy="299.1" r="0.5" fill="#8797ea" opacity="0.5"/>
<circle cx="77.6" cy="281.5" r="0.5" fill="#8797ea" opacity="0.5"/>
<circle cx="68.8" cy="294.5" r="0.5" fill="#8797ea" opacity="0.5"/>
<circle cx="68.2" cy="292.1" r="0.5" fill="#8797ea" opacity="0.5"/>
<circle cx="74.8" cy="278.3" r="0.5" fill="#8797ea" opacity="0.5"/>
<circle cx="66.8" cy="277.2" r="0.5" fill="#8797ea" opacity="0.5"/>
<circle cx="67.4" cy="284.6" r="0.5" fill="#8797ea" opacity="0.5"/>
<circle cx="68.6" cy="293.0" r="0.5" fill="#8797ea" opacity="0.5"/>
<circle cx="69.5" cy="284.5" r="0.5" fill="#8797ea" opacity="0.5"/>
<circle cx="64.3" cy="298.3" r="0.5" fill="#8797ea" opacity="0.5"/>
<circle cx="70.3" cy="291.9" r="0.5" fill="#8797ea" opacity="0.5"/>
<circle cx="63.3" cy="303.7" r="0.5" fill="#8797ea" opacity="0.5"/>
<circle cx="64.4" cy="295.5" r="0.5" fill="#8797ea" opacity="0.5"/>
<circle cx="72.4" cy="289.1" r="0.5" fill="#8797ea" opacity="0.5"/>
<circle cx="73.2" cy="281.4" r="0.5" fill="#8797ea" opacity="0.5"/>
<circle cx="70.9" cy="293.0" r="0.5" fill="#8797ea" opacity="0.5"/>
<circle cx="61.0" cy="294.9" r="0.5" fill="#8797ea" opacity="0.5"/>
<circle cx="62.0" cy="300.8" r="0.5" fill="#8797ea" opacity="0.5"/>
<circle cx="66.0" cy="288.4" r="0.5" fill="#8797ea" opacity="0.5"/>
<circle cx="69.6" cy="287.7" r="0.5" fill="#8797ea" opacity="0.5"/>
<circle cx="70.0" cy="285.8" r="0.5" fill="#8797ea" opacity="0.5"/>
<circle cx="74.1" cy="318.4" r="0.5" fill="#8797ea" opacity="0.5"/>
<circle cx="76.8" cy="301.9" r="0.5" fill="#8797ea" opacity="0.5"/>
<circle cx="76.4" cy="319.3" r="0.5" fill="#8797ea" opacity="0.5"/>
<circle cx="62.2" cy="315.3" r="0.5" fill="#8797ea" opacity="0.5"/>
<circle cx="71.2" cy="324.2" r="0.5" fill="#8797ea" opacity="0.5"/>
<circle cx="63.0" cy="324.7" r="0.5" fill="#8797ea" opacity="0.5"/>
<circle cx="65.9" cy="330.9" r="0.5" fill="#8797ea" opacity="0.5"/>
<circle cx="69.0" cy="321.1" r="0.5" fill="#8797ea" opacity="0.5"/>
<circle cx="71.1" cy="310.5" r="0.5" fill="#8797ea" opacity="0.5"/>
<circle cx="74.5" cy="324.2" r="0.5" fill="#8797ea" opacity="0.5"/>
<circle cx="76.7" cy="324.6" r="0.5" fill="#8797ea" opacity="0.5"/>
<circle cx="71.1" cy="307.0" r="0.5" fill="#8797ea" opacity="0.5"/>
<circle cx="69.0" cy="312.6" r="0.5" fill="#8797ea" opacity="0.5"/>
<circle cx="66.0" cy="319.5" r="0.5" fill="#8797ea" opacity="0.5"/>
<circle cx="72.9" cy="316.3" r="0.5" fill="#8797ea" opacity="0.5"/>
<circle cx="72.0" cy="316.8" r="0.5" fill="#8797ea" opacity="0.5"/>
<circle cx="70.6" cy="322.0" r="0.5" fill="#8797ea" opacity="0.5"/>
<circle cx="76.7" cy="314.9" r="0.5" fill="#8797ea" opacity="0.5"/>
<circle cx="61.2" cy="323.4" r="0.5" fill="#8797ea" opacity="0.5"/>
<circle cx="69.5" cy="323.9" r="0.5" fill="#8797ea" opacity="0.5"/>
<circle cx="63.6" cy="313.1" r="0.5" fill="#8797ea" opacity="0.5"/>
<circle cx="73.6" cy="309.2" r="0.5" fill="#8797ea" opacity="0.5"/>
<circle cx="67.2" cy="320.8" r="0.5" fill="#8797ea" opacity="0.5"/>
<circle cx="73.2" cy="328.1" r="0.5" fill="#8797ea" opacity="0.5"/>
<circle cx="69.3" cy="308.1" r="0.5" fill="#8797ea" opacity="0.5"/>
<circle cx="71.7" cy="323.6" r="0.5" fill="#8797ea" opacity="0.5"/>
<circle cx="74.1" cy="310.2" r="0.5" fill="#8797ea" opacity="0.5"/>
<circle cx="73.2" cy="323.1" r="0.5" fill="#8797ea" opacity="0.5"/>
<circle cx="74.4" cy="315.4" r="0.5" fill="#8797ea" opacity="0.5"/>
<circle cx="71.0" cy="322.4" r="0.5" fill="#8797ea" opacity="0.5"/>
<circle cx="71.5" cy="306.0" r="0.5" fill="#8797ea" opacity="0.5"/>
<circle cx="71.6" cy="320.6" r="0.5" fill="#8797ea" opacity="0.5"/>
<circle cx="69.4" cy="322.5" r="0.5" fill="#8797ea" opacity="0.5"/>
<circle cx="68.2" cy="316.1" r="0.5" fill="#8797ea" opacity="0.5"/>
<circle cx="68.4" cy="320.2" r="0.5" fill="#8797ea" opacity="0.5"/>
<circle cx="65.4" cy="295.3" r="0.5" fill="#8797ea" opacity="0.5"/>
<circle cx="70.8" cy="295.5" r="0.5" fill="#8797ea" opacity="0.5"/>
<circle cx="63.5" cy="301.0" r="0.5" fill="#8797ea" opacity="0.5"/>
<circle cx="66.3" cy="294.4" r="0.5" fill="#8797ea" opacity="0.5"/>
<circle cx="56.3" cy="303.4" r="0.5" fill="#8797ea" opacity="0.5"/>
<circle cx="63.6" cy="303.9" r="0.5" fill="#8797ea" opacity="0.5"/>
<circle cx="62.0" cy="302.1" r="0.5" fill="#8797ea" opacity="0.5"/>
<circle cx="58.4" cy="305.8" r="0.5" fill="#8797ea" opacity="0.5"/>
<circle cx="54.8" cy="313.8" r="0.5" fill="#8797ea" opacity="0.5"/>
<circle cx="55.0" cy="304.9" r="0.5" fill="#8797ea" opacity="0.5"/>
<circle cx="54.0" cy="307.2" r="0.5" fill="#8797ea" opacity="0.5"/>
<circle cx="64.7" cy="301.4" r="0.5" fill="#8797ea" opacity="0.5"/>
<circle cx="54.8" cy="313.3" r="0.5" fill="#8797ea" opacity="0.5"/>
<circle cx="61.6" cy="298.6" r="0.5" fill="#8797ea" opacity="0.5"/>
<circle cx="51.0" cy="311.4" r="0.5" fill="#8797ea" opacity="0.5"/>
<circle cx="56.8" cy="308.4" r="0.5" fill="#8797ea" opacity="0.5"/>
<circle cx="53.4" cy="303.2" r="0.5" fill="#8797ea" opacity="0.5"/>
<circle cx="56.9" cy="300.7" r="0.5" fill="#8797ea" opacity="0.5"/>
<circle cx="60.5" cy="297.6" r="0.5" fill="#8797ea" opacity="0.5"/>
<circle cx="54.2" cy="306.9" r="0.5" fill="#8797ea" opacity="0.5"/>
<circle cx="59.1" cy="309.4" r="0.5" fill="#8797ea" opacity="0.5"/>
<circle cx="63.8" cy="300.7" r="0.5" fill="#8797ea" opacity="0.5"/>
<circle cx="57.3" cy="300.2" r="0.5" fill="#8797ea" opacity="0.5"/>
<circle cx="55.6" cy="306.4" r="0.5" fill="#8797ea" opacity="0.5"/>
<circle cx="55.6" cy="310.6" r="0.5" fill="#8797ea" opacity="0.5"/>
<circle cx="54.3" cy="307.4" r="0.5" fill="#8797ea" opacity="0.5"/>
<circle cx="50.3" cy="306.9" r="0.5" fill="#8797ea" opacity="0.5"/>
<circle cx="64.1" cy="303.2" r="0.5" fill="#8797ea" opacity="0.5"/>
<circle cx="57.7" cy="301.9" r="0.5" fill="#8797ea" opacity="0.5"/>
<circle cx="47.5" cy="319.5" r="0.5" fill="#8797ea" opacity="0.5"/>
<circle cx="64.8" cy="298.2" r="0.5" fill="#8797ea" opacity="0.5"/>
<circle cx="65.8" cy="301.6" r="0.5" fill="#8797ea" opacity="0.5"/>
<circle cx="62.9" cy="297.5" r="0.5" fill="#8797ea" opacity="0.5"/>
<circle cx="65.0" cy="299.8" r="0.5" fill="#8797ea" opacity="0.5"/>
<circle cx="51.4" cy="312.2" r="0.5" fill="#8797ea" opacity="0.5"/>
<circle cx="52.5" cy="312.0" r="0.5" fill="#8797ea" opacity="0.5"/>
<circle cx="59.3" cy="299.6" r="0.5" fill="#8797ea" opacity="0.5"/>
<circle cx="52.5" cy="317.7" r="0.5" fill="#8797ea" opacity="0.5"/>
<circle cx="63.4" cy="304.6" r="0.5" fill="#8797ea" opacity="0.5"/>
<circle cx="55.2" cy="313.3" r="0.5" fill="#8797ea" opacity="0.5"/>
<ellipse cx="56.0" cy="307.4" rx="9.50" ry="3.20" fill="#7d90ee" opacity="0.65" filter="url(#bl2)" transform="rotate(-46.3 56.0 307.4)"/>
<ellipse cx="63.5" cy="298.7" rx="4.00" ry="2.20" fill="#9aa8f0" opacity="0.55" filter="url(#bl2)" transform="rotate(-46.3 63.5 298.7)"/>
<g filter="url(#bl)" transform="rotate(-50.0 49.5 314.2)">
<ellipse cx="53.0" cy="314.2" rx="12.20" ry="7.00" fill="#9aa8f0" opacity="0.8"/>
<ellipse cx="51.5" cy="314.2" rx="10.49" ry="6.02" fill="#5c78ea" opacity="0.9"/>
<ellipse cx="50.3" cy="314.2" rx="8.54" ry="4.90" fill="#2f50e0" opacity="0.95"/>
<ellipse cx="49.2" cy="314.2" rx="6.83" ry="3.92" fill="#2a98d2" opacity="1"/>
<ellipse cx="48.6" cy="314.2" rx="5.61" ry="3.22" fill="#4cbd46" opacity="1"/>
<ellipse cx="48.2" cy="314.2" rx="3.05" ry="1.75" fill="#a0b634" opacity="1"/>
</g>
</g>
<line x1="60.50" y1="270.40" x2="60.50" y2="332.80" stroke="#9a9a9a" stroke-width="0.8" />
<line x1="34.90" y1="302.70" x2="97.10" y2="302.70" stroke="#9a9a9a" stroke-width="0.8" />
<rect x="34.9" y="270.4" width="62.2" height="62.4" fill="none" stroke="#858585" stroke-width="1"/>
<line x1="33.30" y1="275.90" x2="34.90" y2="275.90" stroke="#666" stroke-width="0.6" />
<text x="27.5" y="277.5" font-size="3.6" fill="#888">10<tspan dy="-1.4" font-size="2.6">5</tspan></text>
<line x1="42.10" y1="332.80" x2="42.10" y2="334.40" stroke="#666" stroke-width="0.6" />
<text x="39.3" y="339.2" font-size="3.6" fill="#888">10<tspan dy="-1.4" font-size="2.6">1</tspan></text>
<line x1="33.30" y1="288.20" x2="34.90" y2="288.20" stroke="#666" stroke-width="0.6" />
<text x="27.5" y="289.8" font-size="3.6" fill="#888">10<tspan dy="-1.4" font-size="2.6">4</tspan></text>
<line x1="54.30" y1="332.80" x2="54.30" y2="334.40" stroke="#666" stroke-width="0.6" />
<text x="51.5" y="339.2" font-size="3.6" fill="#888">10<tspan dy="-1.4" font-size="2.6">2</tspan></text>
<line x1="33.30" y1="300.50" x2="34.90" y2="300.50" stroke="#666" stroke-width="0.6" />
<text x="27.5" y="302.1" font-size="3.6" fill="#888">10<tspan dy="-1.4" font-size="2.6">3</tspan></text>
<line x1="66.50" y1="332.80" x2="66.50" y2="334.40" stroke="#666" stroke-width="0.6" />
<text x="63.7" y="339.2" font-size="3.6" fill="#888">10<tspan dy="-1.4" font-size="2.6">3</tspan></text>
<line x1="33.30" y1="312.80" x2="34.90" y2="312.80" stroke="#666" stroke-width="0.6" />
<text x="27.5" y="314.4" font-size="3.6" fill="#888">10<tspan dy="-1.4" font-size="2.6">2</tspan></text>
<line x1="78.70" y1="332.80" x2="78.70" y2="334.40" stroke="#666" stroke-width="0.6" />
<text x="75.9" y="339.2" font-size="3.6" fill="#888">10<tspan dy="-1.4" font-size="2.6">4</tspan></text>
<line x1="33.30" y1="325.10" x2="34.90" y2="325.10" stroke="#666" stroke-width="0.6" />
<text x="27.5" y="326.7" font-size="3.6" fill="#888">10<tspan dy="-1.4" font-size="2.6">1</tspan></text>
<line x1="90.90" y1="332.80" x2="90.90" y2="334.40" stroke="#666" stroke-width="0.6" />
<text x="88.1" y="339.2" font-size="3.6" fill="#888">10<tspan dy="-1.4" font-size="2.6">5</tspan></text>
<text x="35.90" y="275.00" font-size="5.7" font-weight="bold" text-anchor="start" fill="#111" stroke="#111" stroke-width="0.12" >0.885%</text>
<text x="95.60" y="275.00" font-size="5.7" font-weight="bold" text-anchor="end" fill="#111" stroke="#111" stroke-width="0.12" >9.36%</text>
<text x="35.90" y="331.60" font-size="5.7" font-weight="bold" text-anchor="start" fill="#111" stroke="#111" stroke-width="0.12" >83.9%</text>
<text x="95.60" y="331.60" font-size="5.7" font-weight="bold" text-anchor="end" fill="#111" stroke="#111" stroke-width="0.12" >5.84%</text>
<g clip-path="url(#cp11)">
<ellipse cx="139.6" cy="287.4" rx="9.00" ry="15.00" fill="#b9c3f5" opacity="0.8" filter="url(#bl2)" transform="rotate(5.0 139.6 287.4)"/>
<ellipse cx="139.6" cy="286.4" rx="6.50" ry="12.00" fill="#6f84ea" opacity="0.75" filter="url(#bl2)" transform="rotate(5.0 139.6 286.4)"/>
<ellipse cx="128.6" cy="304.4" rx="7.00" ry="3.20" fill="#7d90ee" opacity="0.65" filter="url(#bl2)" transform="rotate(-50.0 128.6 304.4)"/>
<ellipse cx="143.6" cy="316.4" rx="5.00" ry="5.00" fill="#8c9cee" opacity="0.5" filter="url(#bl2)" transform="rotate(0.0 143.6 316.4)"/>
<ellipse cx="143.6" cy="317.4" rx="7.00" ry="7.00" fill="#b9c3f5" opacity="0.4" filter="url(#bl2)" transform="rotate(0.0 143.6 317.4)"/>
<ellipse cx="129.6" cy="303.4" rx="7.00" ry="3.50" fill="#b9c3f5" opacity="0.5" filter="url(#bl2)" transform="rotate(-50.0 129.6 303.4)"/>
<circle cx="146.9" cy="309.0" r="0.5" fill="#8797ea" opacity="0.55"/>
<circle cx="137.1" cy="289.9" r="0.5" fill="#8797ea" opacity="0.55"/>
<circle cx="136.3" cy="297.1" r="0.5" fill="#8797ea" opacity="0.55"/>
<circle cx="144.1" cy="289.1" r="0.5" fill="#8797ea" opacity="0.55"/>
<circle cx="130.1" cy="293.6" r="0.5" fill="#8797ea" opacity="0.55"/>
<circle cx="135.1" cy="293.2" r="0.5" fill="#8797ea" opacity="0.55"/>
<circle cx="137.6" cy="303.7" r="0.5" fill="#8797ea" opacity="0.55"/>
<circle cx="145.5" cy="283.9" r="0.5" fill="#8797ea" opacity="0.55"/>
<circle cx="137.9" cy="305.1" r="0.5" fill="#8797ea" opacity="0.55"/>
<circle cx="135.0" cy="291.2" r="0.5" fill="#8797ea" opacity="0.55"/>
<circle cx="143.2" cy="300.8" r="0.5" fill="#8797ea" opacity="0.55"/>
<circle cx="143.4" cy="274.8" r="0.5" fill="#8797ea" opacity="0.55"/>
<circle cx="131.4" cy="288.8" r="0.5" fill="#8797ea" opacity="0.55"/>
<circle cx="136.9" cy="312.9" r="0.5" fill="#8797ea" opacity="0.55"/>
<circle cx="132.2" cy="297.9" r="0.5" fill="#8797ea" opacity="0.55"/>
<circle cx="145.3" cy="271.5" r="0.5" fill="#8797ea" opacity="0.55"/>
<circle cx="133.9" cy="288.4" r="0.5" fill="#8797ea" opacity="0.55"/>
<circle cx="136.1" cy="285.5" r="0.5" fill="#8797ea" opacity="0.55"/>
<circle cx="142.4" cy="279.8" r="0.5" fill="#8797ea" opacity="0.55"/>
<circle cx="142.1" cy="281.5" r="0.5" fill="#8797ea" opacity="0.55"/>
<circle cx="134.8" cy="292.3" r="0.5" fill="#8797ea" opacity="0.55"/>
<circle cx="135.1" cy="289.8" r="0.5" fill="#8797ea" opacity="0.55"/>
<circle cx="147.3" cy="289.0" r="0.5" fill="#8797ea" opacity="0.55"/>
<circle cx="136.7" cy="294.6" r="0.5" fill="#8797ea" opacity="0.55"/>
<circle cx="135.0" cy="297.8" r="0.5" fill="#8797ea" opacity="0.55"/>
<circle cx="130.7" cy="292.5" r="0.5" fill="#8797ea" opacity="0.55"/>
<circle cx="137.0" cy="279.1" r="0.5" fill="#8797ea" opacity="0.55"/>
<circle cx="149.5" cy="280.4" r="0.5" fill="#8797ea" opacity="0.55"/>
<circle cx="147.2" cy="295.4" r="0.5" fill="#8797ea" opacity="0.55"/>
<circle cx="148.0" cy="278.9" r="0.5" fill="#8797ea" opacity="0.55"/>
<circle cx="142.9" cy="302.8" r="0.5" fill="#8797ea" opacity="0.55"/>
<circle cx="138.2" cy="286.0" r="0.5" fill="#8797ea" opacity="0.55"/>
<circle cx="151.7" cy="291.2" r="0.5" fill="#8797ea" opacity="0.55"/>
<circle cx="137.2" cy="280.8" r="0.5" fill="#8797ea" opacity="0.55"/>
<circle cx="140.5" cy="291.0" r="0.5" fill="#8797ea" opacity="0.55"/>
<circle cx="137.0" cy="304.6" r="0.5" fill="#8797ea" opacity="0.55"/>
<circle cx="136.1" cy="291.8" r="0.5" fill="#8797ea" opacity="0.55"/>
<circle cx="148.0" cy="278.7" r="0.5" fill="#8797ea" opacity="0.55"/>
<circle cx="141.5" cy="306.4" r="0.5" fill="#8797ea" opacity="0.55"/>
<circle cx="132.9" cy="275.4" r="0.5" fill="#8797ea" opacity="0.55"/>
<circle cx="139.1" cy="302.2" r="0.5" fill="#8797ea" opacity="0.55"/>
<circle cx="130.3" cy="282.9" r="0.5" fill="#8797ea" opacity="0.55"/>
<circle cx="127.0" cy="293.5" r="0.5" fill="#8797ea" opacity="0.55"/>
<circle cx="135.0" cy="284.2" r="0.5" fill="#8797ea" opacity="0.55"/>
<circle cx="138.1" cy="292.8" r="0.5" fill="#8797ea" opacity="0.55"/>
<circle cx="136.7" cy="287.3" r="0.5" fill="#8797ea" opacity="0.55"/>
<circle cx="135.5" cy="288.1" r="0.5" fill="#8797ea" opacity="0.55"/>
<circle cx="132.1" cy="287.1" r="0.5" fill="#8797ea" opacity="0.55"/>
<circle cx="128.8" cy="281.0" r="0.5" fill="#8797ea" opacity="0.55"/>
<circle cx="148.9" cy="289.8" r="0.5" fill="#8797ea" opacity="0.55"/>
<circle cx="131.4" cy="288.9" r="0.5" fill="#8797ea" opacity="0.55"/>
<circle cx="133.5" cy="294.1" r="0.5" fill="#8797ea" opacity="0.55"/>
<circle cx="140.8" cy="286.8" r="0.5" fill="#8797ea" opacity="0.55"/>
<circle cx="135.2" cy="276.0" r="0.5" fill="#8797ea" opacity="0.55"/>
<circle cx="145.6" cy="290.9" r="0.5" fill="#8797ea" opacity="0.55"/>
<circle cx="127.5" cy="310.7" r="0.5" fill="#8797ea" opacity="0.55"/>
<circle cx="132.5" cy="285.7" r="0.5" fill="#8797ea" opacity="0.55"/>
<circle cx="140.0" cy="286.0" r="0.5" fill="#8797ea" opacity="0.55"/>
<circle cx="139.1" cy="273.6" r="0.5" fill="#8797ea" opacity="0.55"/>
<circle cx="130.4" cy="303.2" r="0.5" fill="#8797ea" opacity="0.55"/>
<circle cx="133.2" cy="295.1" r="0.5" fill="#8797ea" opacity="0.55"/>
<circle cx="129.8" cy="283.3" r="0.5" fill="#8797ea" opacity="0.55"/>
<circle cx="138.5" cy="297.9" r="0.5" fill="#8797ea" opacity="0.55"/>
<circle cx="131.6" cy="292.4" r="0.5" fill="#8797ea" opacity="0.55"/>
<circle cx="141.8" cy="280.4" r="0.5" fill="#8797ea" opacity="0.55"/>
<circle cx="142.5" cy="278.9" r="0.5" fill="#8797ea" opacity="0.55"/>
<circle cx="134.3" cy="286.6" r="0.5" fill="#8797ea" opacity="0.55"/>
<circle cx="124.0" cy="284.1" r="0.5" fill="#8797ea" opacity="0.55"/>
<circle cx="135.3" cy="272.1" r="0.5" fill="#8797ea" opacity="0.55"/>
<circle cx="135.1" cy="294.6" r="0.5" fill="#8797ea" opacity="0.55"/>
<circle cx="134.5" cy="299.6" r="0.5" fill="#8797ea" opacity="0.55"/>
<circle cx="134.3" cy="273.5" r="0.5" fill="#8797ea" opacity="0.55"/>
<circle cx="146.4" cy="292.6" r="0.5" fill="#8797ea" opacity="0.55"/>
<circle cx="145.0" cy="280.0" r="0.5" fill="#8797ea" opacity="0.55"/>
<circle cx="142.6" cy="290.6" r="0.5" fill="#8797ea" opacity="0.55"/>
<circle cx="142.1" cy="288.2" r="0.5" fill="#8797ea" opacity="0.55"/>
<circle cx="146.1" cy="282.0" r="0.5" fill="#8797ea" opacity="0.55"/>
<circle cx="135.6" cy="272.0" r="0.5" fill="#8797ea" opacity="0.55"/>
<circle cx="146.0" cy="281.1" r="0.5" fill="#8797ea" opacity="0.55"/>
<circle cx="134.3" cy="277.3" r="0.5" fill="#8797ea" opacity="0.55"/>
<circle cx="138.1" cy="274.5" r="0.5" fill="#8797ea" opacity="0.55"/>
<circle cx="138.0" cy="281.0" r="0.5" fill="#8797ea" opacity="0.55"/>
<circle cx="137.0" cy="277.5" r="0.5" fill="#8797ea" opacity="0.55"/>
<circle cx="139.5" cy="282.9" r="0.5" fill="#8797ea" opacity="0.55"/>
<circle cx="138.9" cy="290.0" r="0.5" fill="#8797ea" opacity="0.55"/>
<circle cx="136.9" cy="279.1" r="0.5" fill="#8797ea" opacity="0.55"/>
<circle cx="145.2" cy="272.4" r="0.5" fill="#8797ea" opacity="0.55"/>
<circle cx="135.2" cy="283.9" r="0.5" fill="#8797ea" opacity="0.55"/>
<circle cx="135.3" cy="296.9" r="0.5" fill="#8797ea" opacity="0.55"/>
<circle cx="134.8" cy="296.6" r="0.5" fill="#8797ea" opacity="0.55"/>
<circle cx="144.6" cy="292.7" r="0.5" fill="#8797ea" opacity="0.55"/>
<circle cx="141.1" cy="289.0" r="0.5" fill="#8797ea" opacity="0.55"/>
<circle cx="143.1" cy="275.8" r="0.5" fill="#8797ea" opacity="0.55"/>
<circle cx="144.6" cy="282.9" r="0.5" fill="#8797ea" opacity="0.55"/>
<circle cx="143.8" cy="289.1" r="0.5" fill="#8797ea" opacity="0.55"/>
<circle cx="129.8" cy="273.1" r="0.5" fill="#8797ea" opacity="0.55"/>
<circle cx="144.9" cy="287.0" r="0.5" fill="#8797ea" opacity="0.55"/>
<circle cx="136.1" cy="289.5" r="0.5" fill="#8797ea" opacity="0.55"/>
<circle cx="137.1" cy="281.7" r="0.5" fill="#8797ea" opacity="0.55"/>
<circle cx="138.9" cy="288.9" r="0.5" fill="#8797ea" opacity="0.55"/>
<circle cx="146.8" cy="289.1" r="0.5" fill="#8797ea" opacity="0.55"/>
<circle cx="146.1" cy="306.8" r="0.5" fill="#8797ea" opacity="0.55"/>
<circle cx="146.3" cy="299.3" r="0.5" fill="#8797ea" opacity="0.55"/>
<circle cx="139.1" cy="288.9" r="0.5" fill="#8797ea" opacity="0.55"/>
<circle cx="138.9" cy="280.1" r="0.5" fill="#8797ea" opacity="0.55"/>
<circle cx="139.2" cy="281.0" r="0.5" fill="#8797ea" opacity="0.55"/>
<circle cx="146.7" cy="294.0" r="0.5" fill="#8797ea" opacity="0.55"/>
<circle cx="138.9" cy="283.2" r="0.5" fill="#8797ea" opacity="0.55"/>
<circle cx="134.4" cy="275.3" r="0.5" fill="#8797ea" opacity="0.55"/>
<circle cx="125.5" cy="291.2" r="0.5" fill="#8797ea" opacity="0.55"/>
<circle cx="134.4" cy="312.9" r="0.5" fill="#8797ea" opacity="0.55"/>
<circle cx="138.7" cy="285.9" r="0.5" fill="#8797ea" opacity="0.55"/>
<circle cx="146.3" cy="289.9" r="0.5" fill="#8797ea" opacity="0.55"/>
<circle cx="140.1" cy="283.9" r="0.5" fill="#8797ea" opacity="0.55"/>
<circle cx="133.1" cy="301.7" r="0.5" fill="#8797ea" opacity="0.55"/>
<circle cx="141.5" cy="305.2" r="0.5" fill="#8797ea" opacity="0.55"/>
<circle cx="136.7" cy="287.4" r="0.5" fill="#8797ea" opacity="0.55"/>
<circle cx="132.4" cy="296.2" r="0.5" fill="#8797ea" opacity="0.55"/>
<circle cx="130.2" cy="291.8" r="0.5" fill="#8797ea" opacity="0.55"/>
<circle cx="142.5" cy="302.3" r="0.5" fill="#8797ea" opacity="0.55"/>
<circle cx="131.9" cy="297.4" r="0.5" fill="#8797ea" opacity="0.55"/>
<circle cx="135.9" cy="279.3" r="0.5" fill="#8797ea" opacity="0.55"/>
<circle cx="129.7" cy="297.7" r="0.5" fill="#8797ea" opacity="0.55"/>
<circle cx="148.5" cy="282.9" r="0.5" fill="#8797ea" opacity="0.55"/>
<circle cx="135.0" cy="283.4" r="0.5" fill="#8797ea" opacity="0.55"/>
<circle cx="150.7" cy="299.4" r="0.5" fill="#8797ea" opacity="0.55"/>
<circle cx="133.2" cy="298.6" r="0.5" fill="#8797ea" opacity="0.55"/>
<circle cx="149.2" cy="286.3" r="0.5" fill="#8797ea" opacity="0.55"/>
<circle cx="135.6" cy="281.8" r="0.5" fill="#8797ea" opacity="0.55"/>
<circle cx="127.0" cy="294.8" r="0.5" fill="#8797ea" opacity="0.55"/>
<circle cx="131.1" cy="297.0" r="0.5" fill="#8797ea" opacity="0.55"/>
<circle cx="131.2" cy="273.4" r="0.5" fill="#8797ea" opacity="0.55"/>
<circle cx="141.3" cy="280.1" r="0.5" fill="#8797ea" opacity="0.55"/>
<circle cx="142.8" cy="288.1" r="0.5" fill="#8797ea" opacity="0.55"/>
<circle cx="131.3" cy="292.6" r="0.5" fill="#8797ea" opacity="0.55"/>
<circle cx="147.8" cy="293.8" r="0.5" fill="#8797ea" opacity="0.55"/>
<circle cx="135.2" cy="283.4" r="0.5" fill="#8797ea" opacity="0.55"/>
<circle cx="146.6" cy="273.9" r="0.5" fill="#8797ea" opacity="0.55"/>
<circle cx="136.8" cy="290.6" r="0.5" fill="#8797ea" opacity="0.55"/>
<circle cx="130.3" cy="280.2" r="0.5" fill="#8797ea" opacity="0.55"/>
<circle cx="139.0" cy="303.5" r="0.5" fill="#8797ea" opacity="0.55"/>
<circle cx="142.7" cy="284.9" r="0.5" fill="#8797ea" opacity="0.55"/>
<circle cx="133.6" cy="277.2" r="0.5" fill="#8797ea" opacity="0.55"/>
<circle cx="134.8" cy="288.3" r="0.5" fill="#8797ea" opacity="0.55"/>
<circle cx="135.8" cy="303.8" r="0.5" fill="#8797ea" opacity="0.55"/>
<circle cx="141.8" cy="277.0" r="0.5" fill="#8797ea" opacity="0.55"/>
<circle cx="145.6" cy="298.1" r="0.5" fill="#8797ea" opacity="0.55"/>
<circle cx="140.2" cy="280.4" r="0.5" fill="#8797ea" opacity="0.55"/>
<circle cx="130.0" cy="275.8" r="0.5" fill="#8797ea" opacity="0.55"/>
<circle cx="144.8" cy="280.2" r="0.5" fill="#8797ea" opacity="0.55"/>
<circle cx="131.1" cy="288.2" r="0.5" fill="#8797ea" opacity="0.55"/>
<circle cx="139.0" cy="293.6" r="0.5" fill="#8797ea" opacity="0.55"/>
<circle cx="140.1" cy="301.9" r="0.5" fill="#8797ea" opacity="0.55"/>
<circle cx="132.6" cy="296.4" r="0.5" fill="#8797ea" opacity="0.55"/>
<circle cx="132.2" cy="293.5" r="0.5" fill="#8797ea" opacity="0.55"/>
<circle cx="139.2" cy="290.0" r="0.5" fill="#8797ea" opacity="0.55"/>
<circle cx="143.9" cy="288.0" r="0.5" fill="#8797ea" opacity="0.55"/>
<circle cx="143.3" cy="297.0" r="0.5" fill="#8797ea" opacity="0.55"/>
<circle cx="140.2" cy="281.9" r="0.5" fill="#8797ea" opacity="0.55"/>
<circle cx="135.3" cy="281.6" r="0.5" fill="#8797ea" opacity="0.55"/>
<circle cx="137.5" cy="287.0" r="0.5" fill="#8797ea" opacity="0.55"/>
<circle cx="153.9" cy="296.2" r="0.5" fill="#8797ea" opacity="0.55"/>
<circle cx="144.1" cy="279.5" r="0.5" fill="#8797ea" opacity="0.55"/>
<circle cx="135.2" cy="283.7" r="0.5" fill="#8797ea" opacity="0.55"/>
<circle cx="141.2" cy="277.3" r="0.5" fill="#8797ea" opacity="0.55"/>
<circle cx="148.2" cy="283.2" r="0.5" fill="#8797ea" opacity="0.55"/>
<circle cx="138.1" cy="290.1" r="0.5" fill="#8797ea" opacity="0.55"/>
<circle cx="138.7" cy="293.5" r="0.5" fill="#8797ea" opacity="0.55"/>
<circle cx="139.9" cy="289.2" r="0.5" fill="#8797ea" opacity="0.55"/>
<circle cx="129.4" cy="278.8" r="0.5" fill="#8797ea" opacity="0.55"/>
<circle cx="124.9" cy="291.7" r="0.5" fill="#8797ea" opacity="0.55"/>
<circle cx="140.6" cy="285.7" r="0.5" fill="#8797ea" opacity="0.55"/>
<circle cx="135.0" cy="281.0" r="0.5" fill="#8797ea" opacity="0.55"/>
<circle cx="146.0" cy="306.0" r="0.5" fill="#8797ea" opacity="0.55"/>
<circle cx="136.4" cy="300.1" r="0.5" fill="#8797ea" opacity="0.55"/>
<circle cx="137.3" cy="278.4" r="0.5" fill="#8797ea" opacity="0.55"/>
<circle cx="135.3" cy="288.8" r="0.5" fill="#8797ea" opacity="0.55"/>
<circle cx="156.0" cy="283.4" r="0.5" fill="#8797ea" opacity="0.55"/>
<circle cx="138.5" cy="290.2" r="0.5" fill="#8797ea" opacity="0.55"/>
<circle cx="137.0" cy="296.6" r="0.5" fill="#8797ea" opacity="0.55"/>
<circle cx="150.1" cy="276.6" r="0.5" fill="#8797ea" opacity="0.55"/>
<circle cx="139.9" cy="284.9" r="0.5" fill="#8797ea" opacity="0.55"/>
<circle cx="142.8" cy="272.5" r="0.5" fill="#8797ea" opacity="0.55"/>
<circle cx="141.2" cy="289.7" r="0.5" fill="#8797ea" opacity="0.55"/>
<circle cx="137.7" cy="279.6" r="0.5" fill="#8797ea" opacity="0.55"/>
<circle cx="132.3" cy="277.2" r="0.5" fill="#8797ea" opacity="0.55"/>
<circle cx="141.6" cy="293.4" r="0.5" fill="#8797ea" opacity="0.55"/>
<circle cx="137.7" cy="292.5" r="0.5" fill="#8797ea" opacity="0.55"/>
<circle cx="135.2" cy="287.6" r="0.5" fill="#8797ea" opacity="0.55"/>
<circle cx="138.0" cy="292.9" r="0.5" fill="#8797ea" opacity="0.55"/>
<circle cx="138.4" cy="285.9" r="0.5" fill="#8797ea" opacity="0.55"/>
<circle cx="138.8" cy="280.9" r="0.5" fill="#8797ea" opacity="0.55"/>
<circle cx="150.0" cy="294.3" r="0.5" fill="#8797ea" opacity="0.55"/>
<circle cx="137.5" cy="310.4" r="0.5" fill="#8797ea" opacity="0.55"/>
<circle cx="148.6" cy="273.2" r="0.5" fill="#8797ea" opacity="0.55"/>
<circle cx="141.1" cy="296.3" r="0.5" fill="#8797ea" opacity="0.55"/>
<circle cx="146.9" cy="302.0" r="0.5" fill="#8797ea" opacity="0.55"/>
<circle cx="144.6" cy="276.4" r="0.5" fill="#8797ea" opacity="0.55"/>
<circle cx="133.5" cy="289.3" r="0.5" fill="#8797ea" opacity="0.55"/>
<circle cx="142.9" cy="277.7" r="0.5" fill="#8797ea" opacity="0.55"/>
<circle cx="137.1" cy="283.1" r="0.5" fill="#8797ea" opacity="0.55"/>
<circle cx="138.4" cy="290.8" r="0.5" fill="#8797ea" opacity="0.55"/>
<circle cx="138.9" cy="274.9" r="0.5" fill="#8797ea" opacity="0.55"/>
<circle cx="143.0" cy="304.2" r="0.5" fill="#8797ea" opacity="0.55"/>
<circle cx="136.5" cy="297.4" r="0.5" fill="#8797ea" opacity="0.55"/>
<circle cx="140.0" cy="294.3" r="0.5" fill="#8797ea" opacity="0.55"/>
<circle cx="142.4" cy="280.2" r="0.5" fill="#8797ea" opacity="0.55"/>
<circle cx="140.2" cy="297.9" r="0.5" fill="#8797ea" opacity="0.55"/>
<circle cx="130.8" cy="306.1" r="0.5" fill="#8797ea" opacity="0.55"/>
<circle cx="147.2" cy="307.1" r="0.5" fill="#8797ea" opacity="0.55"/>
<circle cx="148.3" cy="296.4" r="0.5" fill="#8797ea" opacity="0.55"/>
<circle cx="137.7" cy="281.2" r="0.5" fill="#8797ea" opacity="0.55"/>
<circle cx="134.0" cy="287.9" r="0.5" fill="#8797ea" opacity="0.55"/>
<circle cx="137.4" cy="294.0" r="0.5" fill="#8797ea" opacity="0.55"/>
<circle cx="124.2" cy="308.6" r="0.5" fill="#8797ea" opacity="0.55"/>
<circle cx="151.0" cy="289.0" r="0.5" fill="#8797ea" opacity="0.55"/>
<circle cx="141.6" cy="292.7" r="0.5" fill="#8797ea" opacity="0.55"/>
<circle cx="140.4" cy="285.6" r="0.5" fill="#8797ea" opacity="0.55"/>
<circle cx="139.2" cy="279.1" r="0.5" fill="#8797ea" opacity="0.55"/>
<circle cx="139.6" cy="287.3" r="0.5" fill="#8797ea" opacity="0.55"/>
<circle cx="149.2" cy="312.2" r="0.5" fill="#8797ea" opacity="0.5"/>
<circle cx="145.7" cy="317.8" r="0.5" fill="#8797ea" opacity="0.5"/>
<circle cx="151.3" cy="311.4" r="0.5" fill="#8797ea" opacity="0.5"/>
<circle cx="146.0" cy="324.7" r="0.5" fill="#8797ea" opacity="0.5"/>
<circle cx="149.8" cy="316.0" r="0.5" fill="#8797ea" opacity="0.5"/>
<circle cx="143.3" cy="314.9" r="0.5" fill="#8797ea" opacity="0.5"/>
<circle cx="146.6" cy="329.1" r="0.5" fill="#8797ea" opacity="0.5"/>
<circle cx="146.0" cy="312.8" r="0.5" fill="#8797ea" opacity="0.5"/>
<circle cx="147.3" cy="319.4" r="0.5" fill="#8797ea" opacity="0.5"/>
<circle cx="141.9" cy="310.9" r="0.5" fill="#8797ea" opacity="0.5"/>
<circle cx="143.6" cy="321.7" r="0.5" fill="#8797ea" opacity="0.5"/>
<circle cx="140.9" cy="308.5" r="0.5" fill="#8797ea" opacity="0.5"/>
<circle cx="151.0" cy="310.1" r="0.5" fill="#8797ea" opacity="0.5"/>
<circle cx="145.5" cy="319.9" r="0.5" fill="#8797ea" opacity="0.5"/>
<circle cx="147.1" cy="310.4" r="0.5" fill="#8797ea" opacity="0.5"/>
<circle cx="145.9" cy="315.1" r="0.5" fill="#8797ea" opacity="0.5"/>
<circle cx="149.3" cy="312.4" r="0.5" fill="#8797ea" opacity="0.5"/>
<circle cx="155.3" cy="308.1" r="0.5" fill="#8797ea" opacity="0.5"/>
<circle cx="144.6" cy="317.1" r="0.5" fill="#8797ea" opacity="0.5"/>
<circle cx="152.4" cy="315.0" r="0.5" fill="#8797ea" opacity="0.5"/>
<circle cx="149.9" cy="314.6" r="0.5" fill="#8797ea" opacity="0.5"/>
<circle cx="146.2" cy="330.3" r="0.5" fill="#8797ea" opacity="0.5"/>
<circle cx="142.4" cy="319.7" r="0.5" fill="#8797ea" opacity="0.5"/>
<circle cx="138.3" cy="322.3" r="0.5" fill="#8797ea" opacity="0.5"/>
<circle cx="152.5" cy="319.8" r="0.5" fill="#8797ea" opacity="0.5"/>
<circle cx="138.3" cy="318.1" r="0.5" fill="#8797ea" opacity="0.5"/>
<circle cx="149.9" cy="326.7" r="0.5" fill="#8797ea" opacity="0.5"/>
<circle cx="154.0" cy="306.6" r="0.5" fill="#8797ea" opacity="0.5"/>
<circle cx="138.8" cy="325.7" r="0.5" fill="#8797ea" opacity="0.5"/>
<circle cx="136.2" cy="322.8" r="0.5" fill="#8797ea" opacity="0.5"/>
<circle cx="154.8" cy="325.8" r="0.5" fill="#8797ea" opacity="0.5"/>
<circle cx="152.7" cy="317.2" r="0.5" fill="#8797ea" opacity="0.5"/>
<circle cx="138.8" cy="314.5" r="0.5" fill="#8797ea" opacity="0.5"/>
<circle cx="144.6" cy="316.7" r="0.5" fill="#8797ea" opacity="0.5"/>
<circle cx="149.9" cy="317.7" r="0.5" fill="#8797ea" opacity="0.5"/>
<circle cx="145.8" cy="320.6" r="0.5" fill="#8797ea" opacity="0.5"/>
<circle cx="141.8" cy="329.7" r="0.5" fill="#8797ea" opacity="0.5"/>
<circle cx="148.0" cy="318.8" r="0.5" fill="#8797ea" opacity="0.5"/>
<circle cx="145.7" cy="312.9" r="0.5" fill="#8797ea" opacity="0.5"/>
<circle cx="153.0" cy="320.8" r="0.5" fill="#8797ea" opacity="0.5"/>
<circle cx="140.6" cy="311.7" r="0.5" fill="#8797ea" opacity="0.5"/>
<circle cx="145.7" cy="314.2" r="0.5" fill="#8797ea" opacity="0.5"/>
<circle cx="154.2" cy="311.6" r="0.5" fill="#8797ea" opacity="0.5"/>
<circle cx="148.1" cy="319.2" r="0.5" fill="#8797ea" opacity="0.5"/>
<circle cx="138.8" cy="315.6" r="0.5" fill="#8797ea" opacity="0.5"/>
<circle cx="144.0" cy="320.6" r="0.5" fill="#8797ea" opacity="0.5"/>
<circle cx="142.4" cy="318.6" r="0.5" fill="#8797ea" opacity="0.5"/>
<circle cx="138.3" cy="307.2" r="0.5" fill="#8797ea" opacity="0.5"/>
<circle cx="147.9" cy="325.8" r="0.5" fill="#8797ea" opacity="0.5"/>
<circle cx="146.8" cy="313.4" r="0.5" fill="#8797ea" opacity="0.5"/>
<circle cx="156.1" cy="305.3" r="0.5" fill="#8797ea" opacity="0.5"/>
<circle cx="139.6" cy="320.5" r="0.5" fill="#8797ea" opacity="0.5"/>
<circle cx="151.5" cy="311.7" r="0.5" fill="#8797ea" opacity="0.5"/>
<circle cx="131.8" cy="323.8" r="0.5" fill="#8797ea" opacity="0.5"/>
<circle cx="148.3" cy="311.7" r="0.5" fill="#8797ea" opacity="0.5"/>
<circle cx="144.0" cy="323.5" r="0.5" fill="#8797ea" opacity="0.5"/>
<circle cx="128.4" cy="320.2" r="0.5" fill="#8797ea" opacity="0.5"/>
<circle cx="154.1" cy="304.8" r="0.5" fill="#8797ea" opacity="0.5"/>
<circle cx="153.7" cy="306.9" r="0.5" fill="#8797ea" opacity="0.5"/>
<circle cx="151.3" cy="322.1" r="0.5" fill="#8797ea" opacity="0.5"/>
<circle cx="159.8" cy="317.3" r="0.5" fill="#8797ea" opacity="0.5"/>
<circle cx="143.5" cy="324.4" r="0.5" fill="#8797ea" opacity="0.5"/>
<circle cx="143.4" cy="311.6" r="0.5" fill="#8797ea" opacity="0.5"/>
<circle cx="143.6" cy="316.3" r="0.5" fill="#8797ea" opacity="0.5"/>
<circle cx="138.4" cy="318.7" r="0.5" fill="#8797ea" opacity="0.5"/>
<circle cx="148.6" cy="318.8" r="0.5" fill="#8797ea" opacity="0.5"/>
<circle cx="156.0" cy="318.2" r="0.5" fill="#8797ea" opacity="0.5"/>
<circle cx="154.2" cy="316.1" r="0.5" fill="#8797ea" opacity="0.5"/>
<circle cx="153.9" cy="305.8" r="0.5" fill="#8797ea" opacity="0.5"/>
<circle cx="147.1" cy="316.6" r="0.5" fill="#8797ea" opacity="0.5"/>
<circle cx="144.0" cy="312.4" r="0.5" fill="#8797ea" opacity="0.5"/>
<circle cx="145.1" cy="312.0" r="0.5" fill="#8797ea" opacity="0.5"/>
<circle cx="134.3" cy="309.5" r="0.5" fill="#8797ea" opacity="0.5"/>
<circle cx="143.5" cy="312.9" r="0.5" fill="#8797ea" opacity="0.5"/>
<circle cx="139.8" cy="314.6" r="0.5" fill="#8797ea" opacity="0.5"/>
<circle cx="150.6" cy="317.1" r="0.5" fill="#8797ea" opacity="0.5"/>
<circle cx="140.0" cy="325.6" r="0.5" fill="#8797ea" opacity="0.5"/>
<circle cx="149.3" cy="325.3" r="0.5" fill="#8797ea" opacity="0.5"/>
<circle cx="152.9" cy="317.3" r="0.5" fill="#8797ea" opacity="0.5"/>
<circle cx="142.6" cy="324.6" r="0.5" fill="#8797ea" opacity="0.5"/>
<circle cx="142.7" cy="315.6" r="0.5" fill="#8797ea" opacity="0.5"/>
<circle cx="147.0" cy="320.6" r="0.5" fill="#8797ea" opacity="0.5"/>
<circle cx="142.0" cy="323.5" r="0.5" fill="#8797ea" opacity="0.5"/>
<circle cx="143.1" cy="321.9" r="0.5" fill="#8797ea" opacity="0.5"/>
<circle cx="150.4" cy="323.7" r="0.5" fill="#8797ea" opacity="0.5"/>
<circle cx="152.2" cy="310.9" r="0.5" fill="#8797ea" opacity="0.5"/>
<circle cx="139.4" cy="310.9" r="0.5" fill="#8797ea" opacity="0.5"/>
<circle cx="145.2" cy="328.3" r="0.5" fill="#8797ea" opacity="0.5"/>
<circle cx="138.0" cy="317.3" r="0.5" fill="#8797ea" opacity="0.5"/>
<circle cx="142.2" cy="311.0" r="0.5" fill="#8797ea" opacity="0.5"/>
<circle cx="130.2" cy="306.4" r="0.5" fill="#8797ea" opacity="0.5"/>
<circle cx="133.5" cy="303.9" r="0.5" fill="#8797ea" opacity="0.5"/>
<circle cx="127.6" cy="311.5" r="0.5" fill="#8797ea" opacity="0.5"/>
<circle cx="133.8" cy="297.3" r="0.5" fill="#8797ea" opacity="0.5"/>
<circle cx="130.2" cy="299.3" r="0.5" fill="#8797ea" opacity="0.5"/>
<circle cx="123.9" cy="310.1" r="0.5" fill="#8797ea" opacity="0.5"/>
<circle cx="134.1" cy="312.4" r="0.5" fill="#8797ea" opacity="0.5"/>
<circle cx="131.7" cy="309.3" r="0.5" fill="#8797ea" opacity="0.5"/>
<circle cx="131.3" cy="302.5" r="0.5" fill="#8797ea" opacity="0.5"/>
<circle cx="130.8" cy="297.1" r="0.5" fill="#8797ea" opacity="0.5"/>
<circle cx="134.5" cy="297.8" r="0.5" fill="#8797ea" opacity="0.5"/>
<circle cx="124.6" cy="314.6" r="0.5" fill="#8797ea" opacity="0.5"/>
<circle cx="133.1" cy="300.4" r="0.5" fill="#8797ea" opacity="0.5"/>
<circle cx="135.4" cy="292.1" r="0.5" fill="#8797ea" opacity="0.5"/>
<circle cx="133.7" cy="301.2" r="0.5" fill="#8797ea" opacity="0.5"/>
<circle cx="128.7" cy="311.4" r="0.5" fill="#8797ea" opacity="0.5"/>
<circle cx="120.0" cy="311.1" r="0.5" fill="#8797ea" opacity="0.5"/>
<circle cx="129.1" cy="298.1" r="0.5" fill="#8797ea" opacity="0.5"/>
<circle cx="124.9" cy="301.5" r="0.5" fill="#8797ea" opacity="0.5"/>
<circle cx="127.0" cy="301.1" r="0.5" fill="#8797ea" opacity="0.5"/>
<circle cx="127.2" cy="298.6" r="0.5" fill="#8797ea" opacity="0.5"/>
<circle cx="130.9" cy="299.9" r="0.5" fill="#8797ea" opacity="0.5"/>
<circle cx="129.7" cy="302.9" r="0.5" fill="#8797ea" opacity="0.5"/>
<circle cx="126.8" cy="300.4" r="0.5" fill="#8797ea" opacity="0.5"/>
<circle cx="118.6" cy="320.7" r="0.5" fill="#8797ea" opacity="0.5"/>
<circle cx="124.4" cy="309.0" r="0.5" fill="#8797ea" opacity="0.5"/>
<circle cx="126.4" cy="297.3" r="0.5" fill="#8797ea" opacity="0.5"/>
<circle cx="124.8" cy="307.5" r="0.5" fill="#8797ea" opacity="0.5"/>
<circle cx="125.9" cy="311.0" r="0.5" fill="#8797ea" opacity="0.5"/>
<circle cx="126.9" cy="303.0" r="0.5" fill="#8797ea" opacity="0.5"/>
<circle cx="127.4" cy="311.3" r="0.5" fill="#8797ea" opacity="0.5"/>
<circle cx="128.2" cy="308.8" r="0.5" fill="#8797ea" opacity="0.5"/>
<circle cx="126.8" cy="297.3" r="0.5" fill="#8797ea" opacity="0.5"/>
<circle cx="124.9" cy="310.7" r="0.5" fill="#8797ea" opacity="0.5"/>
<circle cx="133.0" cy="302.4" r="0.5" fill="#8797ea" opacity="0.5"/>
<circle cx="135.7" cy="299.7" r="0.5" fill="#8797ea" opacity="0.5"/>
<circle cx="127.5" cy="305.6" r="0.5" fill="#8797ea" opacity="0.5"/>
<circle cx="131.9" cy="297.5" r="0.5" fill="#8797ea" opacity="0.5"/>
<circle cx="130.2" cy="293.7" r="0.5" fill="#8797ea" opacity="0.5"/>
<circle cx="132.0" cy="298.7" r="0.5" fill="#8797ea" opacity="0.5"/>
<circle cx="123.6" cy="318.2" r="0.5" fill="#8797ea" opacity="0.5"/>
<circle cx="131.0" cy="301.3" r="0.5" fill="#8797ea" opacity="0.5"/>
<circle cx="123.8" cy="309.9" r="0.5" fill="#8797ea" opacity="0.5"/>
<circle cx="134.0" cy="291.9" r="0.5" fill="#8797ea" opacity="0.5"/>
<circle cx="112.4" cy="325.4" r="0.5" fill="#8797ea" opacity="0.5"/>
<circle cx="124.1" cy="311.3" r="0.5" fill="#8797ea" opacity="0.5"/>
<circle cx="125.6" cy="304.6" r="0.5" fill="#8797ea" opacity="0.5"/>
<circle cx="128.6" cy="310.8" r="0.5" fill="#8797ea" opacity="0.5"/>
<circle cx="128.3" cy="316.3" r="0.5" fill="#8797ea" opacity="0.5"/>
<circle cx="124.5" cy="305.3" r="0.5" fill="#8797ea" opacity="0.5"/>
<circle cx="134.4" cy="299.0" r="0.5" fill="#8797ea" opacity="0.5"/>
<circle cx="127.0" cy="311.6" r="0.5" fill="#8797ea" opacity="0.5"/>
<circle cx="119.3" cy="314.3" r="0.5" fill="#8797ea" opacity="0.5"/>
<circle cx="133.8" cy="295.4" r="0.5" fill="#8797ea" opacity="0.5"/>
<circle cx="125.3" cy="313.0" r="0.5" fill="#8797ea" opacity="0.5"/>
<circle cx="133.5" cy="297.2" r="0.5" fill="#8797ea" opacity="0.5"/>
<circle cx="120.9" cy="315.0" r="0.5" fill="#8797ea" opacity="0.5"/>
<circle cx="133.3" cy="301.8" r="0.5" fill="#8797ea" opacity="0.5"/>
<circle cx="137.0" cy="290.5" r="0.5" fill="#8797ea" opacity="0.5"/>
<circle cx="127.4" cy="306.6" r="0.5" fill="#8797ea" opacity="0.5"/>
<circle cx="132.4" cy="293.8" r="0.5" fill="#8797ea" opacity="0.5"/>
<circle cx="128.3" cy="290.2" r="0.5" fill="#8797ea" opacity="0.5"/>
<circle cx="131.3" cy="296.9" r="0.5" fill="#8797ea" opacity="0.5"/>
<circle cx="133.3" cy="301.4" r="0.5" fill="#8797ea" opacity="0.5"/>
<circle cx="124.3" cy="311.2" r="0.5" fill="#8797ea" opacity="0.5"/>
<circle cx="132.1" cy="302.7" r="0.5" fill="#8797ea" opacity="0.5"/>
<circle cx="123.1" cy="308.1" r="0.5" fill="#8797ea" opacity="0.5"/>
<circle cx="127.7" cy="320.5" r="0.5" fill="#8797ea" opacity="0.5"/>
<circle cx="128.2" cy="304.3" r="0.5" fill="#8797ea" opacity="0.5"/>
<circle cx="125.5" cy="315.0" r="0.5" fill="#8797ea" opacity="0.5"/>
<circle cx="130.9" cy="309.3" r="0.5" fill="#8797ea" opacity="0.5"/>
<circle cx="133.3" cy="297.7" r="0.5" fill="#8797ea" opacity="0.5"/>
<circle cx="129.9" cy="296.7" r="0.5" fill="#8797ea" opacity="0.5"/>
<circle cx="126.7" cy="304.7" r="0.5" fill="#8797ea" opacity="0.5"/>
<circle cx="124.2" cy="312.0" r="0.5" fill="#8797ea" opacity="0.5"/>
<circle cx="132.6" cy="306.7" r="0.5" fill="#8797ea" opacity="0.5"/>
<circle cx="113.4" cy="324.9" r="0.5" fill="#8797ea" opacity="0.5"/>
<circle cx="124.5" cy="308.8" r="0.5" fill="#8797ea" opacity="0.5"/>
<circle cx="132.4" cy="301.2" r="0.5" fill="#8797ea" opacity="0.5"/>
<circle cx="128.5" cy="302.4" r="0.5" fill="#8797ea" opacity="0.5"/>
<circle cx="132.6" cy="300.7" r="0.5" fill="#8797ea" opacity="0.5"/>
<circle cx="121.0" cy="315.4" r="0.5" fill="#8797ea" opacity="0.5"/>
<circle cx="120.7" cy="310.7" r="0.5" fill="#8797ea" opacity="0.5"/>
<circle cx="130.4" cy="302.5" r="0.5" fill="#8797ea" opacity="0.5"/>
<circle cx="127.9" cy="301.2" r="0.5" fill="#8797ea" opacity="0.5"/>
<circle cx="126.4" cy="303.3" r="0.5" fill="#8797ea" opacity="0.5"/>
<circle cx="133.0" cy="301.9" r="0.5" fill="#8797ea" opacity="0.5"/>
<circle cx="140.4" cy="293.6" r="0.5" fill="#8797ea" opacity="0.5"/>
<circle cx="125.0" cy="308.1" r="0.5" fill="#8797ea" opacity="0.5"/>
<circle cx="126.3" cy="310.2" r="0.5" fill="#8797ea" opacity="0.5"/>
<g filter="url(#bl)" transform="rotate(-70.0 139.1 282.9)">
<ellipse cx="139.1" cy="282.9" rx="7.50" ry="5.50" fill="#6d84ec" opacity="0.8"/>
<ellipse cx="139.1" cy="282.9" rx="5.85" ry="4.29" fill="#3d5de4" opacity="0.85"/>
<ellipse cx="139.1" cy="282.9" rx="4.12" ry="3.03" fill="#30a2c8" opacity="0.95"/>
<ellipse cx="139.1" cy="282.9" rx="2.70" ry="1.98" fill="#52bf6a" opacity="1"/>
</g>
<g filter="url(#bl)" transform="rotate(-60.0 121.2 312.9)">
<ellipse cx="124.7" cy="312.9" rx="11.50" ry="6.20" fill="#9aa8f0" opacity="0.8"/>
<ellipse cx="123.2" cy="312.9" rx="9.89" ry="5.33" fill="#5c78ea" opacity="0.9"/>
<ellipse cx="122.0" cy="312.9" rx="8.05" ry="4.34" fill="#2f50e0" opacity="0.95"/>
<ellipse cx="120.9" cy="312.9" rx="6.44" ry="3.47" fill="#2a98d2" opacity="1"/>
<ellipse cx="120.3" cy="312.9" rx="5.29" ry="2.85" fill="#4cbd46" opacity="1"/>
<ellipse cx="119.9" cy="312.9" rx="2.88" ry="1.55" fill="#a0b634" opacity="1"/>
</g>
</g>
<line x1="133.20" y1="270.40" x2="133.20" y2="332.80" stroke="#9a9a9a" stroke-width="0.8" />
<line x1="107.60" y1="302.70" x2="169.80" y2="302.70" stroke="#9a9a9a" stroke-width="0.8" />
<rect x="107.6" y="270.4" width="62.2" height="62.4" fill="none" stroke="#858585" stroke-width="1"/>
<line x1="106.00" y1="275.90" x2="107.60" y2="275.90" stroke="#666" stroke-width="0.6" />
<text x="100.2" y="277.5" font-size="3.6" fill="#888">10<tspan dy="-1.4" font-size="2.6">5</tspan></text>
<line x1="114.80" y1="332.80" x2="114.80" y2="334.40" stroke="#666" stroke-width="0.6" />
<text x="112.0" y="339.2" font-size="3.6" fill="#888">10<tspan dy="-1.4" font-size="2.6">1</tspan></text>
<line x1="106.00" y1="288.20" x2="107.60" y2="288.20" stroke="#666" stroke-width="0.6" />
<text x="100.2" y="289.8" font-size="3.6" fill="#888">10<tspan dy="-1.4" font-size="2.6">4</tspan></text>
<line x1="127.00" y1="332.80" x2="127.00" y2="334.40" stroke="#666" stroke-width="0.6" />
<text x="124.2" y="339.2" font-size="3.6" fill="#888">10<tspan dy="-1.4" font-size="2.6">2</tspan></text>
<line x1="106.00" y1="300.50" x2="107.60" y2="300.50" stroke="#666" stroke-width="0.6" />
<text x="100.2" y="302.1" font-size="3.6" fill="#888">10<tspan dy="-1.4" font-size="2.6">3</tspan></text>
<line x1="139.20" y1="332.80" x2="139.20" y2="334.40" stroke="#666" stroke-width="0.6" />
<text x="136.4" y="339.2" font-size="3.6" fill="#888">10<tspan dy="-1.4" font-size="2.6">3</tspan></text>
<line x1="106.00" y1="312.80" x2="107.60" y2="312.80" stroke="#666" stroke-width="0.6" />
<text x="100.2" y="314.4" font-size="3.6" fill="#888">10<tspan dy="-1.4" font-size="2.6">2</tspan></text>
<line x1="151.40" y1="332.80" x2="151.40" y2="334.40" stroke="#666" stroke-width="0.6" />
<text x="148.6" y="339.2" font-size="3.6" fill="#888">10<tspan dy="-1.4" font-size="2.6">4</tspan></text>
<line x1="106.00" y1="325.10" x2="107.60" y2="325.10" stroke="#666" stroke-width="0.6" />
<text x="100.2" y="326.7" font-size="3.6" fill="#888">10<tspan dy="-1.4" font-size="2.6">1</tspan></text>
<line x1="163.60" y1="332.80" x2="163.60" y2="334.40" stroke="#666" stroke-width="0.6" />
<text x="160.8" y="339.2" font-size="3.6" fill="#888">10<tspan dy="-1.4" font-size="2.6">5</tspan></text>
<text x="108.60" y="275.00" font-size="5.7" font-weight="bold" text-anchor="start" fill="#111" stroke="#111" stroke-width="0.12" >6.59%</text>
<text x="168.30" y="275.00" font-size="5.7" font-weight="bold" text-anchor="end" fill="#111" stroke="#111" stroke-width="0.12" >40.2%</text>
<text x="108.60" y="331.60" font-size="5.7" font-weight="bold" text-anchor="start" fill="#111" stroke="#111" stroke-width="0.12" >44.0%</text>
<text x="168.30" y="331.60" font-size="5.7" font-weight="bold" text-anchor="end" fill="#111" stroke="#111" stroke-width="0.12" >9.28%</text>
<g clip-path="url(#cp12)">
<ellipse cx="196.3" cy="310.4" rx="6.50" ry="14.00" fill="#b9c3f5" opacity="0.7" filter="url(#bl2)" transform="rotate(15.0 196.3 310.4)"/>
<ellipse cx="214.8" cy="287.4" rx="9.00" ry="16.00" fill="#b9c3f5" opacity="0.75" filter="url(#bl2)" transform="rotate(5.0 214.8 287.4)"/>
<ellipse cx="213.3" cy="317.4" rx="6.00" ry="7.00" fill="#b9c3f5" opacity="0.35" filter="url(#bl2)" transform="rotate(0.0 213.3 317.4)"/>
<ellipse cx="200.8" cy="291.4" rx="3.50" ry="11.00" fill="#b9c3f5" opacity="0.5" filter="url(#bl2)" transform="rotate(12.0 200.8 291.4)"/>
<circle cx="204.5" cy="297.9" r="0.5" fill="#8797ea" opacity="0.5"/>
<circle cx="197.4" cy="280.4" r="0.5" fill="#8797ea" opacity="0.5"/>
<circle cx="196.8" cy="294.8" r="0.5" fill="#8797ea" opacity="0.5"/>
<circle cx="200.3" cy="293.8" r="0.5" fill="#8797ea" opacity="0.5"/>
<circle cx="206.5" cy="285.8" r="0.5" fill="#8797ea" opacity="0.5"/>
<circle cx="195.6" cy="306.4" r="0.5" fill="#8797ea" opacity="0.5"/>
<circle cx="202.9" cy="285.5" r="0.5" fill="#8797ea" opacity="0.5"/>
<circle cx="198.3" cy="278.4" r="0.5" fill="#8797ea" opacity="0.5"/>
<circle cx="194.7" cy="290.7" r="0.5" fill="#8797ea" opacity="0.5"/>
<circle cx="199.3" cy="299.2" r="0.5" fill="#8797ea" opacity="0.5"/>
<circle cx="201.6" cy="285.9" r="0.5" fill="#8797ea" opacity="0.5"/>
<circle cx="196.0" cy="305.9" r="0.5" fill="#8797ea" opacity="0.5"/>
<circle cx="196.2" cy="291.9" r="0.5" fill="#8797ea" opacity="0.5"/>
<circle cx="199.9" cy="296.2" r="0.5" fill="#8797ea" opacity="0.5"/>
<circle cx="199.0" cy="295.1" r="0.5" fill="#8797ea" opacity="0.5"/>
<circle cx="203.0" cy="290.6" r="0.5" fill="#8797ea" opacity="0.5"/>
<circle cx="200.0" cy="289.7" r="0.5" fill="#8797ea" opacity="0.5"/>
<circle cx="198.8" cy="289.3" r="0.5" fill="#8797ea" opacity="0.5"/>
<circle cx="199.7" cy="292.9" r="0.5" fill="#8797ea" opacity="0.5"/>
<circle cx="202.0" cy="302.3" r="0.5" fill="#8797ea" opacity="0.5"/>
<circle cx="198.8" cy="295.9" r="0.5" fill="#8797ea" opacity="0.5"/>
<circle cx="200.3" cy="297.5" r="0.5" fill="#8797ea" opacity="0.5"/>
<circle cx="200.4" cy="293.5" r="0.5" fill="#8797ea" opacity="0.5"/>
<circle cx="200.9" cy="285.0" r="0.5" fill="#8797ea" opacity="0.5"/>
<circle cx="200.9" cy="302.0" r="0.5" fill="#8797ea" opacity="0.5"/>
<circle cx="201.7" cy="295.1" r="0.5" fill="#8797ea" opacity="0.5"/>
<circle cx="202.2" cy="288.0" r="0.5" fill="#8797ea" opacity="0.5"/>
<circle cx="195.4" cy="295.7" r="0.5" fill="#8797ea" opacity="0.5"/>
<circle cx="202.2" cy="287.2" r="0.5" fill="#8797ea" opacity="0.5"/>
<circle cx="196.4" cy="300.9" r="0.5" fill="#8797ea" opacity="0.5"/>
<circle cx="193.6" cy="304.3" r="0.5" fill="#8797ea" opacity="0.5"/>
<circle cx="198.6" cy="310.3" r="0.5" fill="#8797ea" opacity="0.5"/>
<circle cx="199.1" cy="290.9" r="0.5" fill="#8797ea" opacity="0.5"/>
<circle cx="199.3" cy="292.4" r="0.5" fill="#8797ea" opacity="0.5"/>
<circle cx="201.5" cy="285.4" r="0.5" fill="#8797ea" opacity="0.5"/>
<circle cx="204.7" cy="285.8" r="0.5" fill="#8797ea" opacity="0.5"/>
<circle cx="198.7" cy="295.5" r="0.5" fill="#8797ea" opacity="0.5"/>
<circle cx="200.2" cy="287.7" r="0.5" fill="#8797ea" opacity="0.5"/>
<circle cx="202.3" cy="288.7" r="0.5" fill="#8797ea" opacity="0.5"/>
<circle cx="197.9" cy="290.0" r="0.5" fill="#8797ea" opacity="0.5"/>
<circle cx="197.6" cy="304.7" r="0.5" fill="#8797ea" opacity="0.5"/>
<circle cx="196.6" cy="298.5" r="0.5" fill="#8797ea" opacity="0.5"/>
<circle cx="199.4" cy="288.2" r="0.5" fill="#8797ea" opacity="0.5"/>
<circle cx="199.6" cy="293.4" r="0.5" fill="#8797ea" opacity="0.5"/>
<circle cx="200.1" cy="305.5" r="0.5" fill="#8797ea" opacity="0.5"/>
<circle cx="197.1" cy="301.5" r="0.5" fill="#8797ea" opacity="0.5"/>
<circle cx="201.9" cy="298.3" r="0.5" fill="#8797ea" opacity="0.5"/>
<circle cx="197.5" cy="298.1" r="0.5" fill="#8797ea" opacity="0.5"/>
<circle cx="200.0" cy="294.1" r="0.5" fill="#8797ea" opacity="0.5"/>
<circle cx="199.1" cy="296.5" r="0.5" fill="#8797ea" opacity="0.5"/>
<circle cx="197.9" cy="323.9" r="0.5" fill="#8797ea" opacity="0.55"/>
<circle cx="192.1" cy="320.6" r="0.5" fill="#8797ea" opacity="0.55"/>
<circle cx="206.3" cy="302.7" r="0.5" fill="#8797ea" opacity="0.55"/>
<circle cx="207.7" cy="298.5" r="0.5" fill="#8797ea" opacity="0.55"/>
<circle cx="197.0" cy="317.4" r="0.5" fill="#8797ea" opacity="0.55"/>
<circle cx="202.5" cy="315.5" r="0.5" fill="#8797ea" opacity="0.55"/>
<circle cx="196.6" cy="301.3" r="0.5" fill="#8797ea" opacity="0.55"/>
<circle cx="187.8" cy="316.6" r="0.5" fill="#8797ea" opacity="0.55"/>
<circle cx="197.5" cy="302.5" r="0.5" fill="#8797ea" opacity="0.55"/>
<circle cx="201.3" cy="303.1" r="0.5" fill="#8797ea" opacity="0.55"/>
<circle cx="195.7" cy="304.9" r="0.5" fill="#8797ea" opacity="0.55"/>
<circle cx="199.4" cy="328.2" r="0.5" fill="#8797ea" opacity="0.55"/>
<circle cx="200.7" cy="293.7" r="0.5" fill="#8797ea" opacity="0.55"/>
<circle cx="197.4" cy="311.6" r="0.5" fill="#8797ea" opacity="0.55"/>
<circle cx="196.1" cy="316.9" r="0.5" fill="#8797ea" opacity="0.55"/>
<circle cx="191.8" cy="319.6" r="0.5" fill="#8797ea" opacity="0.55"/>
<circle cx="199.6" cy="313.8" r="0.5" fill="#8797ea" opacity="0.55"/>
<circle cx="195.9" cy="304.7" r="0.5" fill="#8797ea" opacity="0.55"/>
<circle cx="203.2" cy="299.9" r="0.5" fill="#8797ea" opacity="0.55"/>
<circle cx="198.0" cy="302.3" r="0.5" fill="#8797ea" opacity="0.55"/>
<circle cx="187.7" cy="314.7" r="0.5" fill="#8797ea" opacity="0.55"/>
<circle cx="196.1" cy="310.7" r="0.5" fill="#8797ea" opacity="0.55"/>
<circle cx="205.3" cy="296.0" r="0.5" fill="#8797ea" opacity="0.55"/>
<circle cx="195.0" cy="313.3" r="0.5" fill="#8797ea" opacity="0.55"/>
<circle cx="203.8" cy="300.2" r="0.5" fill="#8797ea" opacity="0.55"/>
<circle cx="199.0" cy="313.8" r="0.5" fill="#8797ea" opacity="0.55"/>
<circle cx="199.1" cy="324.4" r="0.5" fill="#8797ea" opacity="0.55"/>
<circle cx="197.7" cy="305.9" r="0.5" fill="#8797ea" opacity="0.55"/>
<circle cx="197.7" cy="300.0" r="0.5" fill="#8797ea" opacity="0.55"/>
<circle cx="202.3" cy="290.6" r="0.5" fill="#8797ea" opacity="0.55"/>
<circle cx="194.5" cy="314.8" r="0.5" fill="#8797ea" opacity="0.55"/>
<circle cx="202.2" cy="308.2" r="0.5" fill="#8797ea" opacity="0.55"/>
<circle cx="205.1" cy="305.6" r="0.5" fill="#8797ea" opacity="0.55"/>
<circle cx="201.8" cy="290.5" r="0.5" fill="#8797ea" opacity="0.55"/>
<circle cx="195.2" cy="301.0" r="0.5" fill="#8797ea" opacity="0.55"/>
<circle cx="201.6" cy="318.0" r="0.5" fill="#8797ea" opacity="0.55"/>
<circle cx="189.5" cy="314.3" r="0.5" fill="#8797ea" opacity="0.55"/>
<circle cx="199.3" cy="308.7" r="0.5" fill="#8797ea" opacity="0.55"/>
<circle cx="197.4" cy="307.3" r="0.5" fill="#8797ea" opacity="0.55"/>
<circle cx="199.4" cy="291.4" r="0.5" fill="#8797ea" opacity="0.55"/>
<circle cx="191.8" cy="323.5" r="0.5" fill="#8797ea" opacity="0.55"/>
<circle cx="203.9" cy="309.6" r="0.5" fill="#8797ea" opacity="0.55"/>
<circle cx="193.5" cy="307.2" r="0.5" fill="#8797ea" opacity="0.55"/>
<circle cx="199.4" cy="315.3" r="0.5" fill="#8797ea" opacity="0.55"/>
<circle cx="192.4" cy="313.3" r="0.5" fill="#8797ea" opacity="0.55"/>
<circle cx="193.7" cy="315.4" r="0.5" fill="#8797ea" opacity="0.55"/>
<circle cx="199.1" cy="294.7" r="0.5" fill="#8797ea" opacity="0.55"/>
<circle cx="194.2" cy="318.3" r="0.5" fill="#8797ea" opacity="0.55"/>
<circle cx="191.5" cy="307.7" r="0.5" fill="#8797ea" opacity="0.55"/>
<circle cx="201.6" cy="307.8" r="0.5" fill="#8797ea" opacity="0.55"/>
<circle cx="186.8" cy="330.3" r="0.5" fill="#8797ea" opacity="0.55"/>
<circle cx="196.9" cy="322.1" r="0.5" fill="#8797ea" opacity="0.55"/>
<circle cx="186.7" cy="325.8" r="0.5" fill="#8797ea" opacity="0.55"/>
<circle cx="190.2" cy="302.7" r="0.5" fill="#8797ea" opacity="0.55"/>
<circle cx="195.5" cy="325.1" r="0.5" fill="#8797ea" opacity="0.55"/>
<circle cx="194.1" cy="302.3" r="0.5" fill="#8797ea" opacity="0.55"/>
<circle cx="203.3" cy="291.0" r="0.5" fill="#8797ea" opacity="0.55"/>
<circle cx="197.5" cy="317.0" r="0.5" fill="#8797ea" opacity="0.55"/>
<circle cx="192.5" cy="315.2" r="0.5" fill="#8797ea" opacity="0.55"/>
<circle cx="198.9" cy="314.7" r="0.5" fill="#8797ea" opacity="0.55"/>
<circle cx="193.9" cy="326.6" r="0.5" fill="#8797ea" opacity="0.55"/>
<circle cx="193.6" cy="311.4" r="0.5" fill="#8797ea" opacity="0.55"/>
<circle cx="190.6" cy="320.2" r="0.5" fill="#8797ea" opacity="0.55"/>
<circle cx="192.9" cy="314.7" r="0.5" fill="#8797ea" opacity="0.55"/>
<circle cx="196.7" cy="311.3" r="0.5" fill="#8797ea" opacity="0.55"/>
<circle cx="204.5" cy="312.0" r="0.5" fill="#8797ea" opacity="0.55"/>
<circle cx="200.3" cy="320.8" r="0.5" fill="#8797ea" opacity="0.55"/>
<circle cx="202.9" cy="310.6" r="0.5" fill="#8797ea" opacity="0.55"/>
<circle cx="198.2" cy="319.4" r="0.5" fill="#8797ea" opacity="0.55"/>
<circle cx="192.6" cy="312.3" r="0.5" fill="#8797ea" opacity="0.55"/>
<circle cx="195.8" cy="309.9" r="0.5" fill="#8797ea" opacity="0.55"/>
<circle cx="204.6" cy="304.9" r="0.5" fill="#8797ea" opacity="0.55"/>
<circle cx="194.0" cy="290.3" r="0.5" fill="#8797ea" opacity="0.55"/>
<circle cx="196.2" cy="303.2" r="0.5" fill="#8797ea" opacity="0.55"/>
<circle cx="194.6" cy="316.2" r="0.5" fill="#8797ea" opacity="0.55"/>
<circle cx="203.4" cy="316.0" r="0.5" fill="#8797ea" opacity="0.55"/>
<circle cx="200.7" cy="303.6" r="0.5" fill="#8797ea" opacity="0.55"/>
<circle cx="194.7" cy="325.0" r="0.5" fill="#8797ea" opacity="0.55"/>
<circle cx="208.6" cy="292.5" r="0.5" fill="#8797ea" opacity="0.55"/>
<circle cx="195.4" cy="327.7" r="0.5" fill="#8797ea" opacity="0.55"/>
<circle cx="204.8" cy="296.4" r="0.5" fill="#8797ea" opacity="0.55"/>
<circle cx="193.0" cy="315.9" r="0.5" fill="#8797ea" opacity="0.55"/>
<circle cx="200.8" cy="302.8" r="0.5" fill="#8797ea" opacity="0.55"/>
<circle cx="189.2" cy="318.9" r="0.5" fill="#8797ea" opacity="0.55"/>
<circle cx="185.7" cy="323.0" r="0.5" fill="#8797ea" opacity="0.55"/>
<circle cx="195.5" cy="313.5" r="0.5" fill="#8797ea" opacity="0.55"/>
<circle cx="192.0" cy="302.5" r="0.5" fill="#8797ea" opacity="0.55"/>
<circle cx="204.1" cy="296.5" r="0.5" fill="#8797ea" opacity="0.55"/>
<circle cx="210.2" cy="299.1" r="0.5" fill="#8797ea" opacity="0.55"/>
<circle cx="190.5" cy="309.1" r="0.5" fill="#8797ea" opacity="0.55"/>
<circle cx="196.2" cy="318.5" r="0.5" fill="#8797ea" opacity="0.55"/>
<circle cx="195.2" cy="307.8" r="0.5" fill="#8797ea" opacity="0.55"/>
<circle cx="197.0" cy="304.3" r="0.5" fill="#8797ea" opacity="0.55"/>
<circle cx="181.5" cy="316.5" r="0.5" fill="#8797ea" opacity="0.55"/>
<circle cx="197.0" cy="312.4" r="0.5" fill="#8797ea" opacity="0.55"/>
<circle cx="192.6" cy="312.0" r="0.5" fill="#8797ea" opacity="0.55"/>
<circle cx="196.5" cy="309.6" r="0.5" fill="#8797ea" opacity="0.55"/>
<circle cx="206.8" cy="294.6" r="0.5" fill="#8797ea" opacity="0.55"/>
<circle cx="200.8" cy="300.0" r="0.5" fill="#8797ea" opacity="0.55"/>
<circle cx="190.2" cy="325.1" r="0.5" fill="#8797ea" opacity="0.55"/>
<circle cx="191.6" cy="307.9" r="0.5" fill="#8797ea" opacity="0.55"/>
<circle cx="190.6" cy="319.1" r="0.5" fill="#8797ea" opacity="0.55"/>
<circle cx="197.1" cy="292.0" r="0.5" fill="#8797ea" opacity="0.55"/>
<circle cx="199.8" cy="307.6" r="0.5" fill="#8797ea" opacity="0.55"/>
<circle cx="191.5" cy="320.9" r="0.5" fill="#8797ea" opacity="0.55"/>
<circle cx="193.4" cy="305.4" r="0.5" fill="#8797ea" opacity="0.55"/>
<circle cx="195.7" cy="314.8" r="0.5" fill="#8797ea" opacity="0.55"/>
<circle cx="190.7" cy="320.1" r="0.5" fill="#8797ea" opacity="0.55"/>
<circle cx="207.9" cy="309.5" r="0.5" fill="#8797ea" opacity="0.55"/>
<circle cx="211.5" cy="291.8" r="0.5" fill="#8797ea" opacity="0.55"/>
<circle cx="203.8" cy="308.9" r="0.5" fill="#8797ea" opacity="0.55"/>
<circle cx="198.0" cy="307.2" r="0.5" fill="#8797ea" opacity="0.55"/>
<circle cx="197.4" cy="296.6" r="0.5" fill="#8797ea" opacity="0.55"/>
<circle cx="190.4" cy="322.9" r="0.5" fill="#8797ea" opacity="0.55"/>
<circle cx="202.6" cy="308.5" r="0.5" fill="#8797ea" opacity="0.55"/>
<circle cx="196.1" cy="302.6" r="0.5" fill="#8797ea" opacity="0.55"/>
<circle cx="185.2" cy="326.9" r="0.5" fill="#8797ea" opacity="0.55"/>
<circle cx="199.0" cy="312.5" r="0.5" fill="#8797ea" opacity="0.55"/>
<circle cx="197.2" cy="299.4" r="0.5" fill="#8797ea" opacity="0.55"/>
<circle cx="199.9" cy="320.1" r="0.5" fill="#8797ea" opacity="0.55"/>
<circle cx="188.8" cy="319.0" r="0.5" fill="#8797ea" opacity="0.55"/>
<circle cx="189.2" cy="315.3" r="0.5" fill="#8797ea" opacity="0.55"/>
<circle cx="193.2" cy="304.9" r="0.5" fill="#8797ea" opacity="0.55"/>
<circle cx="197.2" cy="315.5" r="0.5" fill="#8797ea" opacity="0.55"/>
<circle cx="203.6" cy="303.4" r="0.5" fill="#8797ea" opacity="0.55"/>
<circle cx="199.3" cy="326.2" r="0.5" fill="#8797ea" opacity="0.55"/>
<circle cx="194.8" cy="315.1" r="0.5" fill="#8797ea" opacity="0.55"/>
<circle cx="193.2" cy="307.8" r="0.5" fill="#8797ea" opacity="0.55"/>
<circle cx="190.0" cy="309.4" r="0.5" fill="#8797ea" opacity="0.55"/>
<circle cx="193.0" cy="324.2" r="0.5" fill="#8797ea" opacity="0.55"/>
<circle cx="198.1" cy="320.0" r="0.5" fill="#8797ea" opacity="0.55"/>
<circle cx="195.3" cy="307.6" r="0.5" fill="#8797ea" opacity="0.55"/>
<circle cx="194.0" cy="312.2" r="0.5" fill="#8797ea" opacity="0.55"/>
<circle cx="185.0" cy="315.4" r="0.5" fill="#8797ea" opacity="0.55"/>
<circle cx="190.7" cy="303.0" r="0.5" fill="#8797ea" opacity="0.55"/>
<circle cx="198.0" cy="305.3" r="0.5" fill="#8797ea" opacity="0.55"/>
<circle cx="204.2" cy="311.8" r="0.5" fill="#8797ea" opacity="0.55"/>
<circle cx="199.8" cy="324.5" r="0.5" fill="#8797ea" opacity="0.55"/>
<circle cx="192.8" cy="313.7" r="0.5" fill="#8797ea" opacity="0.55"/>
<circle cx="203.3" cy="308.9" r="0.5" fill="#8797ea" opacity="0.55"/>
<circle cx="198.4" cy="304.9" r="0.5" fill="#8797ea" opacity="0.55"/>
<circle cx="197.7" cy="306.9" r="0.5" fill="#8797ea" opacity="0.55"/>
<circle cx="193.6" cy="320.6" r="0.5" fill="#8797ea" opacity="0.55"/>
<circle cx="202.3" cy="313.7" r="0.5" fill="#8797ea" opacity="0.55"/>
<circle cx="194.6" cy="319.3" r="0.5" fill="#8797ea" opacity="0.55"/>
<circle cx="198.3" cy="299.3" r="0.5" fill="#8797ea" opacity="0.55"/>
<circle cx="204.3" cy="302.5" r="0.5" fill="#8797ea" opacity="0.55"/>
<circle cx="203.6" cy="302.0" r="0.5" fill="#8797ea" opacity="0.55"/>
<circle cx="208.0" cy="302.5" r="0.5" fill="#8797ea" opacity="0.55"/>
<circle cx="195.5" cy="326.7" r="0.5" fill="#8797ea" opacity="0.55"/>
<circle cx="187.3" cy="324.0" r="0.5" fill="#8797ea" opacity="0.55"/>
<circle cx="198.0" cy="291.4" r="0.5" fill="#8797ea" opacity="0.55"/>
<circle cx="197.4" cy="318.5" r="0.5" fill="#8797ea" opacity="0.55"/>
<circle cx="203.3" cy="284.6" r="0.5" fill="#8797ea" opacity="0.55"/>
<circle cx="197.0" cy="307.2" r="0.5" fill="#8797ea" opacity="0.55"/>
<circle cx="195.5" cy="306.9" r="0.5" fill="#8797ea" opacity="0.55"/>
<circle cx="189.9" cy="302.1" r="0.5" fill="#8797ea" opacity="0.55"/>
<circle cx="199.7" cy="328.6" r="0.5" fill="#8797ea" opacity="0.55"/>
<circle cx="196.9" cy="302.7" r="0.5" fill="#8797ea" opacity="0.55"/>
<circle cx="194.8" cy="321.7" r="0.5" fill="#8797ea" opacity="0.55"/>
<circle cx="203.3" cy="299.6" r="0.5" fill="#8797ea" opacity="0.55"/>
<circle cx="196.6" cy="312.0" r="0.5" fill="#8797ea" opacity="0.55"/>
<circle cx="199.2" cy="324.5" r="0.5" fill="#8797ea" opacity="0.55"/>
<circle cx="194.9" cy="323.4" r="0.5" fill="#8797ea" opacity="0.55"/>
<circle cx="189.7" cy="325.4" r="0.5" fill="#8797ea" opacity="0.55"/>
<circle cx="193.1" cy="313.8" r="0.5" fill="#8797ea" opacity="0.55"/>
<circle cx="203.4" cy="302.5" r="0.5" fill="#8797ea" opacity="0.55"/>
<circle cx="198.6" cy="291.7" r="0.5" fill="#8797ea" opacity="0.55"/>
<circle cx="197.2" cy="310.1" r="0.5" fill="#8797ea" opacity="0.55"/>
<circle cx="193.2" cy="315.0" r="0.5" fill="#8797ea" opacity="0.55"/>
<circle cx="186.7" cy="307.2" r="0.5" fill="#8797ea" opacity="0.55"/>
<circle cx="197.5" cy="307.8" r="0.5" fill="#8797ea" opacity="0.55"/>
<circle cx="194.5" cy="329.2" r="0.5" fill="#8797ea" opacity="0.55"/>
<circle cx="197.2" cy="300.3" r="0.5" fill="#8797ea" opacity="0.55"/>
<circle cx="193.2" cy="310.5" r="0.5" fill="#8797ea" opacity="0.55"/>
<circle cx="201.7" cy="302.5" r="0.5" fill="#8797ea" opacity="0.55"/>
<circle cx="204.1" cy="301.5" r="0.5" fill="#8797ea" opacity="0.55"/>
<circle cx="198.8" cy="315.9" r="0.5" fill="#8797ea" opacity="0.55"/>
<circle cx="195.6" cy="308.4" r="0.5" fill="#8797ea" opacity="0.55"/>
<circle cx="195.8" cy="319.8" r="0.5" fill="#8797ea" opacity="0.55"/>
<circle cx="189.3" cy="311.3" r="0.5" fill="#8797ea" opacity="0.55"/>
<circle cx="190.9" cy="315.7" r="0.5" fill="#8797ea" opacity="0.55"/>
<circle cx="202.4" cy="312.9" r="0.5" fill="#8797ea" opacity="0.55"/>
<circle cx="195.2" cy="312.1" r="0.5" fill="#8797ea" opacity="0.55"/>
<circle cx="180.3" cy="314.0" r="0.5" fill="#8797ea" opacity="0.55"/>
<circle cx="198.4" cy="312.9" r="0.5" fill="#8797ea" opacity="0.55"/>
<circle cx="196.8" cy="302.5" r="0.5" fill="#8797ea" opacity="0.55"/>
<circle cx="191.7" cy="322.4" r="0.5" fill="#8797ea" opacity="0.55"/>
<circle cx="191.6" cy="323.8" r="0.5" fill="#8797ea" opacity="0.55"/>
<circle cx="185.9" cy="302.1" r="0.5" fill="#8797ea" opacity="0.55"/>
<circle cx="197.6" cy="310.7" r="0.5" fill="#8797ea" opacity="0.55"/>
<circle cx="190.8" cy="301.3" r="0.5" fill="#8797ea" opacity="0.55"/>
<circle cx="206.1" cy="299.1" r="0.5" fill="#8797ea" opacity="0.55"/>
<circle cx="195.2" cy="297.9" r="0.5" fill="#8797ea" opacity="0.55"/>
<circle cx="191.8" cy="316.1" r="0.5" fill="#8797ea" opacity="0.55"/>
<circle cx="205.4" cy="290.8" r="0.5" fill="#8797ea" opacity="0.55"/>
<circle cx="204.8" cy="306.5" r="0.5" fill="#8797ea" opacity="0.55"/>
<circle cx="188.4" cy="326.4" r="0.5" fill="#8797ea" opacity="0.55"/>
<circle cx="199.8" cy="297.8" r="0.5" fill="#8797ea" opacity="0.55"/>
<circle cx="195.6" cy="302.2" r="0.5" fill="#8797ea" opacity="0.55"/>
<circle cx="208.5" cy="315.2" r="0.5" fill="#8797ea" opacity="0.5"/>
<circle cx="217.5" cy="319.8" r="0.5" fill="#8797ea" opacity="0.5"/>
<circle cx="208.5" cy="318.2" r="0.5" fill="#8797ea" opacity="0.5"/>
<circle cx="213.5" cy="322.5" r="0.5" fill="#8797ea" opacity="0.5"/>
<circle cx="211.7" cy="320.5" r="0.5" fill="#8797ea" opacity="0.5"/>
<circle cx="223.4" cy="318.0" r="0.5" fill="#8797ea" opacity="0.5"/>
<circle cx="208.1" cy="319.6" r="0.5" fill="#8797ea" opacity="0.5"/>
<circle cx="209.4" cy="314.9" r="0.5" fill="#8797ea" opacity="0.5"/>
<circle cx="214.2" cy="319.7" r="0.5" fill="#8797ea" opacity="0.5"/>
<circle cx="211.9" cy="323.1" r="0.5" fill="#8797ea" opacity="0.5"/>
<circle cx="212.4" cy="308.6" r="0.5" fill="#8797ea" opacity="0.5"/>
<circle cx="217.5" cy="315.0" r="0.5" fill="#8797ea" opacity="0.5"/>
<circle cx="219.1" cy="313.0" r="0.5" fill="#8797ea" opacity="0.5"/>
<circle cx="216.0" cy="319.5" r="0.5" fill="#8797ea" opacity="0.5"/>
<circle cx="200.4" cy="307.4" r="0.5" fill="#8797ea" opacity="0.5"/>
<circle cx="207.9" cy="326.9" r="0.5" fill="#8797ea" opacity="0.5"/>
<circle cx="204.2" cy="323.5" r="0.5" fill="#8797ea" opacity="0.5"/>
<circle cx="218.5" cy="320.7" r="0.5" fill="#8797ea" opacity="0.5"/>
<circle cx="216.5" cy="314.1" r="0.5" fill="#8797ea" opacity="0.5"/>
<circle cx="213.2" cy="318.9" r="0.5" fill="#8797ea" opacity="0.5"/>
<circle cx="215.3" cy="322.2" r="0.5" fill="#8797ea" opacity="0.5"/>
<circle cx="212.3" cy="312.7" r="0.5" fill="#8797ea" opacity="0.5"/>
<circle cx="210.6" cy="320.2" r="0.5" fill="#8797ea" opacity="0.5"/>
<circle cx="205.3" cy="309.0" r="0.5" fill="#8797ea" opacity="0.5"/>
<circle cx="211.3" cy="313.7" r="0.5" fill="#8797ea" opacity="0.5"/>
<circle cx="212.0" cy="299.5" r="0.5" fill="#8797ea" opacity="0.5"/>
<circle cx="211.7" cy="315.7" r="0.5" fill="#8797ea" opacity="0.5"/>
<circle cx="217.0" cy="304.1" r="0.5" fill="#8797ea" opacity="0.5"/>
<circle cx="211.8" cy="320.6" r="0.5" fill="#8797ea" opacity="0.5"/>
<circle cx="215.6" cy="325.4" r="0.5" fill="#8797ea" opacity="0.5"/>
<circle cx="218.4" cy="310.3" r="0.5" fill="#8797ea" opacity="0.5"/>
<circle cx="216.4" cy="315.1" r="0.5" fill="#8797ea" opacity="0.5"/>
<circle cx="209.4" cy="327.7" r="0.5" fill="#8797ea" opacity="0.5"/>
<circle cx="210.3" cy="311.7" r="0.5" fill="#8797ea" opacity="0.5"/>
<circle cx="211.3" cy="311.7" r="0.5" fill="#8797ea" opacity="0.5"/>
<circle cx="218.1" cy="320.0" r="0.5" fill="#8797ea" opacity="0.5"/>
<circle cx="220.0" cy="320.2" r="0.5" fill="#8797ea" opacity="0.5"/>
<circle cx="210.3" cy="324.4" r="0.5" fill="#8797ea" opacity="0.5"/>
<circle cx="210.2" cy="314.3" r="0.5" fill="#8797ea" opacity="0.5"/>
<circle cx="212.5" cy="317.7" r="0.5" fill="#8797ea" opacity="0.5"/>
<circle cx="219.0" cy="313.3" r="0.5" fill="#8797ea" opacity="0.5"/>
<circle cx="215.0" cy="317.2" r="0.5" fill="#8797ea" opacity="0.5"/>
<circle cx="207.2" cy="310.0" r="0.5" fill="#8797ea" opacity="0.5"/>
<circle cx="212.2" cy="320.1" r="0.5" fill="#8797ea" opacity="0.5"/>
<circle cx="214.8" cy="320.6" r="0.5" fill="#8797ea" opacity="0.5"/>
<circle cx="213.5" cy="314.4" r="0.5" fill="#8797ea" opacity="0.5"/>
<circle cx="215.4" cy="310.6" r="0.5" fill="#8797ea" opacity="0.5"/>
<circle cx="206.8" cy="315.2" r="0.5" fill="#8797ea" opacity="0.5"/>
<circle cx="206.4" cy="313.9" r="0.5" fill="#8797ea" opacity="0.5"/>
<circle cx="209.7" cy="313.7" r="0.5" fill="#8797ea" opacity="0.5"/>
<circle cx="213.1" cy="312.0" r="0.5" fill="#8797ea" opacity="0.5"/>
<circle cx="211.3" cy="305.9" r="0.5" fill="#8797ea" opacity="0.5"/>
<circle cx="214.0" cy="311.5" r="0.5" fill="#8797ea" opacity="0.5"/>
<circle cx="215.2" cy="298.3" r="0.5" fill="#8797ea" opacity="0.5"/>
<circle cx="209.4" cy="319.0" r="0.5" fill="#8797ea" opacity="0.5"/>
<circle cx="201.5" cy="315.0" r="0.5" fill="#8797ea" opacity="0.5"/>
<circle cx="213.8" cy="318.1" r="0.5" fill="#8797ea" opacity="0.5"/>
<circle cx="206.1" cy="318.9" r="0.5" fill="#8797ea" opacity="0.5"/>
<circle cx="214.0" cy="310.8" r="0.5" fill="#8797ea" opacity="0.5"/>
<circle cx="216.9" cy="317.1" r="0.5" fill="#8797ea" opacity="0.5"/>
<circle cx="213.4" cy="314.4" r="0.5" fill="#8797ea" opacity="0.5"/>
<circle cx="215.9" cy="318.1" r="0.5" fill="#8797ea" opacity="0.5"/>
<circle cx="218.8" cy="320.5" r="0.5" fill="#8797ea" opacity="0.5"/>
<circle cx="210.3" cy="315.9" r="0.5" fill="#8797ea" opacity="0.5"/>
<circle cx="217.7" cy="314.9" r="0.5" fill="#8797ea" opacity="0.5"/>
<circle cx="215.1" cy="320.9" r="0.5" fill="#8797ea" opacity="0.5"/>
<circle cx="212.4" cy="301.7" r="0.5" fill="#8797ea" opacity="0.5"/>
<circle cx="213.9" cy="318.8" r="0.5" fill="#8797ea" opacity="0.5"/>
<circle cx="214.0" cy="312.3" r="0.5" fill="#8797ea" opacity="0.5"/>
<circle cx="219.1" cy="316.5" r="0.5" fill="#8797ea" opacity="0.5"/>
<circle cx="210.7" cy="280.1" r="0.5" fill="#8797ea" opacity="0.55"/>
<circle cx="216.4" cy="275.7" r="0.5" fill="#8797ea" opacity="0.55"/>
<circle cx="208.5" cy="311.6" r="0.5" fill="#8797ea" opacity="0.55"/>
<circle cx="221.9" cy="300.6" r="0.5" fill="#8797ea" opacity="0.55"/>
<circle cx="222.2" cy="295.3" r="0.5" fill="#8797ea" opacity="0.55"/>
<circle cx="204.5" cy="302.3" r="0.5" fill="#8797ea" opacity="0.55"/>
<circle cx="221.5" cy="294.1" r="0.5" fill="#8797ea" opacity="0.55"/>
<circle cx="202.9" cy="302.8" r="0.5" fill="#8797ea" opacity="0.55"/>
<circle cx="222.2" cy="282.7" r="0.5" fill="#8797ea" opacity="0.55"/>
<circle cx="215.0" cy="297.4" r="0.5" fill="#8797ea" opacity="0.55"/>
<circle cx="213.8" cy="301.2" r="0.5" fill="#8797ea" opacity="0.55"/>
<circle cx="214.8" cy="296.4" r="0.5" fill="#8797ea" opacity="0.55"/>
<circle cx="214.8" cy="271.2" r="0.5" fill="#8797ea" opacity="0.55"/>
<circle cx="208.5" cy="325.2" r="0.5" fill="#8797ea" opacity="0.55"/>
<circle cx="215.9" cy="303.6" r="0.5" fill="#8797ea" opacity="0.55"/>
<circle cx="220.9" cy="308.3" r="0.5" fill="#8797ea" opacity="0.55"/>
<circle cx="217.5" cy="281.5" r="0.5" fill="#8797ea" opacity="0.55"/>
<circle cx="213.2" cy="298.9" r="0.5" fill="#8797ea" opacity="0.55"/>
<circle cx="201.7" cy="290.7" r="0.5" fill="#8797ea" opacity="0.55"/>
<circle cx="219.1" cy="303.9" r="0.5" fill="#8797ea" opacity="0.55"/>
<circle cx="208.9" cy="280.8" r="0.5" fill="#8797ea" opacity="0.55"/>
<circle cx="203.4" cy="276.5" r="0.5" fill="#8797ea" opacity="0.55"/>
<circle cx="217.4" cy="312.5" r="0.5" fill="#8797ea" opacity="0.55"/>
<circle cx="207.6" cy="304.5" r="0.5" fill="#8797ea" opacity="0.55"/>
<circle cx="216.8" cy="282.6" r="0.5" fill="#8797ea" opacity="0.55"/>
<circle cx="213.9" cy="291.0" r="0.5" fill="#8797ea" opacity="0.55"/>
<circle cx="226.7" cy="309.3" r="0.5" fill="#8797ea" opacity="0.55"/>
<circle cx="227.5" cy="290.0" r="0.5" fill="#8797ea" opacity="0.55"/>
<circle cx="220.0" cy="304.3" r="0.5" fill="#8797ea" opacity="0.55"/>
<circle cx="217.3" cy="292.6" r="0.5" fill="#8797ea" opacity="0.55"/>
<circle cx="213.2" cy="283.6" r="0.5" fill="#8797ea" opacity="0.55"/>
<circle cx="207.1" cy="311.1" r="0.5" fill="#8797ea" opacity="0.55"/>
<circle cx="215.8" cy="288.0" r="0.5" fill="#8797ea" opacity="0.55"/>
<circle cx="215.3" cy="309.6" r="0.5" fill="#8797ea" opacity="0.55"/>
<circle cx="213.7" cy="285.3" r="0.5" fill="#8797ea" opacity="0.55"/>
<circle cx="209.9" cy="288.1" r="0.5" fill="#8797ea" opacity="0.55"/>
<circle cx="211.7" cy="290.8" r="0.5" fill="#8797ea" opacity="0.55"/>
<circle cx="232.5" cy="293.0" r="0.5" fill="#8797ea" opacity="0.55"/>
<circle cx="209.3" cy="310.9" r="0.5" fill="#8797ea" opacity="0.55"/>
<circle cx="219.3" cy="297.9" r="0.5" fill="#8797ea" opacity="0.55"/>
<circle cx="218.5" cy="298.0" r="0.5" fill="#8797ea" opacity="0.55"/>
<circle cx="218.2" cy="304.9" r="0.5" fill="#8797ea" opacity="0.55"/>
<circle cx="220.2" cy="304.1" r="0.5" fill="#8797ea" opacity="0.55"/>
<circle cx="211.4" cy="288.4" r="0.5" fill="#8797ea" opacity="0.55"/>
<circle cx="210.0" cy="299.6" r="0.5" fill="#8797ea" opacity="0.55"/>
<circle cx="219.2" cy="283.0" r="0.5" fill="#8797ea" opacity="0.55"/>
<circle cx="217.7" cy="319.1" r="0.5" fill="#8797ea" opacity="0.55"/>
<circle cx="221.5" cy="275.4" r="0.5" fill="#8797ea" opacity="0.55"/>
<circle cx="213.8" cy="295.8" r="0.5" fill="#8797ea" opacity="0.55"/>
<circle cx="214.1" cy="292.9" r="0.5" fill="#8797ea" opacity="0.55"/>
<circle cx="221.2" cy="292.2" r="0.5" fill="#8797ea" opacity="0.55"/>
<circle cx="207.9" cy="296.8" r="0.5" fill="#8797ea" opacity="0.55"/>
<circle cx="213.7" cy="289.7" r="0.5" fill="#8797ea" opacity="0.55"/>
<circle cx="211.0" cy="272.2" r="0.5" fill="#8797ea" opacity="0.55"/>
<circle cx="207.0" cy="284.3" r="0.5" fill="#8797ea" opacity="0.55"/>
<circle cx="221.0" cy="274.8" r="0.5" fill="#8797ea" opacity="0.55"/>
<circle cx="210.1" cy="294.6" r="0.5" fill="#8797ea" opacity="0.55"/>
<circle cx="200.2" cy="304.1" r="0.5" fill="#8797ea" opacity="0.55"/>
<circle cx="209.8" cy="296.1" r="0.5" fill="#8797ea" opacity="0.55"/>
<circle cx="211.5" cy="292.0" r="0.5" fill="#8797ea" opacity="0.55"/>
<circle cx="214.9" cy="288.4" r="0.5" fill="#8797ea" opacity="0.55"/>
<circle cx="203.6" cy="271.2" r="0.5" fill="#8797ea" opacity="0.55"/>
<circle cx="214.1" cy="304.9" r="0.5" fill="#8797ea" opacity="0.55"/>
<circle cx="211.1" cy="294.6" r="0.5" fill="#8797ea" opacity="0.55"/>
<circle cx="215.2" cy="294.1" r="0.5" fill="#8797ea" opacity="0.55"/>
<circle cx="215.9" cy="286.3" r="0.5" fill="#8797ea" opacity="0.55"/>
<circle cx="212.5" cy="278.4" r="0.5" fill="#8797ea" opacity="0.55"/>
<circle cx="209.7" cy="276.4" r="0.5" fill="#8797ea" opacity="0.55"/>
<circle cx="207.9" cy="317.7" r="0.5" fill="#8797ea" opacity="0.55"/>
<circle cx="224.2" cy="288.5" r="0.5" fill="#8797ea" opacity="0.55"/>
<circle cx="218.6" cy="277.0" r="0.5" fill="#8797ea" opacity="0.55"/>
<circle cx="215.1" cy="305.2" r="0.5" fill="#8797ea" opacity="0.55"/>
<circle cx="214.1" cy="276.7" r="0.5" fill="#8797ea" opacity="0.55"/>
<circle cx="212.9" cy="276.7" r="0.5" fill="#8797ea" opacity="0.55"/>
<circle cx="206.1" cy="285.7" r="0.5" fill="#8797ea" opacity="0.55"/>
<circle cx="212.0" cy="278.9" r="0.5" fill="#8797ea" opacity="0.55"/>
<circle cx="209.1" cy="277.5" r="0.5" fill="#8797ea" opacity="0.55"/>
<circle cx="215.7" cy="304.7" r="0.5" fill="#8797ea" opacity="0.55"/>
<circle cx="213.1" cy="314.5" r="0.5" fill="#8797ea" opacity="0.55"/>
<circle cx="204.8" cy="291.6" r="0.5" fill="#8797ea" opacity="0.55"/>
<circle cx="207.5" cy="286.5" r="0.5" fill="#8797ea" opacity="0.55"/>
<circle cx="214.9" cy="294.9" r="0.5" fill="#8797ea" opacity="0.55"/>
<circle cx="220.9" cy="281.9" r="0.5" fill="#8797ea" opacity="0.55"/>
<circle cx="207.0" cy="286.2" r="0.5" fill="#8797ea" opacity="0.55"/>
<circle cx="216.0" cy="280.2" r="0.5" fill="#8797ea" opacity="0.55"/>
<circle cx="219.5" cy="308.1" r="0.5" fill="#8797ea" opacity="0.55"/>
<circle cx="206.0" cy="292.6" r="0.5" fill="#8797ea" opacity="0.55"/>
<circle cx="215.5" cy="285.8" r="0.5" fill="#8797ea" opacity="0.55"/>
<circle cx="206.0" cy="303.8" r="0.5" fill="#8797ea" opacity="0.55"/>
<circle cx="215.6" cy="282.8" r="0.5" fill="#8797ea" opacity="0.55"/>
<circle cx="216.9" cy="295.9" r="0.5" fill="#8797ea" opacity="0.55"/>
<circle cx="218.8" cy="295.2" r="0.5" fill="#8797ea" opacity="0.55"/>
<circle cx="216.7" cy="274.6" r="0.5" fill="#8797ea" opacity="0.55"/>
<circle cx="211.8" cy="289.9" r="0.5" fill="#8797ea" opacity="0.55"/>
<circle cx="198.1" cy="313.3" r="0.5" fill="#8797ea" opacity="0.55"/>
<circle cx="212.1" cy="276.1" r="0.5" fill="#8797ea" opacity="0.55"/>
<circle cx="203.7" cy="291.3" r="0.5" fill="#8797ea" opacity="0.55"/>
<circle cx="214.5" cy="281.6" r="0.5" fill="#8797ea" opacity="0.55"/>
<circle cx="211.9" cy="278.0" r="0.5" fill="#8797ea" opacity="0.55"/>
<circle cx="209.9" cy="287.3" r="0.5" fill="#8797ea" opacity="0.55"/>
<circle cx="210.5" cy="296.3" r="0.5" fill="#8797ea" opacity="0.55"/>
<circle cx="213.5" cy="289.9" r="0.5" fill="#8797ea" opacity="0.55"/>
<circle cx="216.7" cy="303.3" r="0.5" fill="#8797ea" opacity="0.55"/>
<circle cx="217.8" cy="291.1" r="0.5" fill="#8797ea" opacity="0.55"/>
<circle cx="213.3" cy="279.0" r="0.5" fill="#8797ea" opacity="0.55"/>
<circle cx="212.3" cy="296.4" r="0.5" fill="#8797ea" opacity="0.55"/>
<circle cx="215.6" cy="283.9" r="0.5" fill="#8797ea" opacity="0.55"/>
<circle cx="216.2" cy="300.4" r="0.5" fill="#8797ea" opacity="0.55"/>
<circle cx="216.5" cy="272.3" r="0.5" fill="#8797ea" opacity="0.55"/>
<circle cx="213.1" cy="291.0" r="0.5" fill="#8797ea" opacity="0.55"/>
<circle cx="208.9" cy="292.5" r="0.5" fill="#8797ea" opacity="0.55"/>
<circle cx="213.1" cy="278.6" r="0.5" fill="#8797ea" opacity="0.55"/>
<circle cx="207.0" cy="297.9" r="0.5" fill="#8797ea" opacity="0.55"/>
<circle cx="216.4" cy="278.0" r="0.5" fill="#8797ea" opacity="0.55"/>
<circle cx="208.4" cy="298.8" r="0.5" fill="#8797ea" opacity="0.55"/>
<circle cx="217.8" cy="284.8" r="0.5" fill="#8797ea" opacity="0.55"/>
<circle cx="223.6" cy="285.0" r="0.5" fill="#8797ea" opacity="0.55"/>
<circle cx="208.1" cy="301.2" r="0.5" fill="#8797ea" opacity="0.55"/>
<circle cx="213.2" cy="292.4" r="0.5" fill="#8797ea" opacity="0.55"/>
<circle cx="214.5" cy="276.7" r="0.5" fill="#8797ea" opacity="0.55"/>
<circle cx="207.4" cy="286.1" r="0.5" fill="#8797ea" opacity="0.55"/>
<circle cx="222.5" cy="276.7" r="0.5" fill="#8797ea" opacity="0.55"/>
<circle cx="222.2" cy="291.0" r="0.5" fill="#8797ea" opacity="0.55"/>
<circle cx="207.8" cy="291.5" r="0.5" fill="#8797ea" opacity="0.55"/>
<circle cx="217.6" cy="277.9" r="0.5" fill="#8797ea" opacity="0.55"/>
<circle cx="201.9" cy="292.6" r="0.5" fill="#8797ea" opacity="0.55"/>
<circle cx="207.8" cy="293.5" r="0.5" fill="#8797ea" opacity="0.55"/>
<circle cx="203.1" cy="286.7" r="0.5" fill="#8797ea" opacity="0.55"/>
<circle cx="212.9" cy="290.4" r="0.5" fill="#8797ea" opacity="0.55"/>
<circle cx="211.0" cy="274.6" r="0.5" fill="#8797ea" opacity="0.55"/>
<circle cx="217.4" cy="294.1" r="0.5" fill="#8797ea" opacity="0.55"/>
<circle cx="224.1" cy="298.7" r="0.5" fill="#8797ea" opacity="0.55"/>
<circle cx="216.4" cy="291.5" r="0.5" fill="#8797ea" opacity="0.55"/>
<circle cx="214.5" cy="272.9" r="0.5" fill="#8797ea" opacity="0.55"/>
<circle cx="222.8" cy="294.5" r="0.5" fill="#8797ea" opacity="0.55"/>
<circle cx="212.6" cy="275.0" r="0.5" fill="#8797ea" opacity="0.55"/>
<circle cx="223.0" cy="294.6" r="0.5" fill="#8797ea" opacity="0.55"/>
<circle cx="207.4" cy="296.2" r="0.5" fill="#8797ea" opacity="0.55"/>
<circle cx="225.4" cy="288.1" r="0.5" fill="#8797ea" opacity="0.55"/>
<circle cx="216.6" cy="283.6" r="0.5" fill="#8797ea" opacity="0.55"/>
<circle cx="210.6" cy="300.9" r="0.5" fill="#8797ea" opacity="0.55"/>
<circle cx="232.2" cy="289.8" r="0.5" fill="#8797ea" opacity="0.55"/>
<circle cx="213.6" cy="297.6" r="0.5" fill="#8797ea" opacity="0.55"/>
<circle cx="212.5" cy="296.9" r="0.5" fill="#8797ea" opacity="0.55"/>
<circle cx="219.1" cy="276.6" r="0.5" fill="#8797ea" opacity="0.55"/>
<circle cx="208.1" cy="287.5" r="0.5" fill="#8797ea" opacity="0.55"/>
<circle cx="219.2" cy="291.6" r="0.5" fill="#8797ea" opacity="0.55"/>
<circle cx="221.5" cy="272.4" r="0.5" fill="#8797ea" opacity="0.55"/>
<circle cx="217.2" cy="281.1" r="0.5" fill="#8797ea" opacity="0.55"/>
<circle cx="214.9" cy="292.1" r="0.5" fill="#8797ea" opacity="0.55"/>
<g filter="url(#bl)" transform="rotate(-84.0 214.3 288.4)">
<ellipse cx="214.3" cy="288.4" rx="15.50" ry="8.00" fill="#7d90ec" opacity="0.65"/>
<ellipse cx="214.3" cy="288.4" rx="13.17" ry="6.80" fill="#5570e6" opacity="0.7"/>
<ellipse cx="214.3" cy="288.4" rx="10.54" ry="5.44" fill="#3a58e0" opacity="0.6"/>
</g>
<g filter="url(#bl)" transform="rotate(-80.0 215.3 283.4)">
<ellipse cx="215.3" cy="283.4" rx="5.00" ry="4.40" fill="#2c58dc" opacity="0.9"/>
<ellipse cx="215.3" cy="283.4" rx="4.00" ry="3.52" fill="#2a98d2" opacity="1"/>
<ellipse cx="215.3" cy="283.4" rx="3.20" ry="2.82" fill="#52be48" opacity="1"/>
<ellipse cx="215.3" cy="283.4" rx="1.60" ry="1.41" fill="#98b83a" opacity="1"/>
</g>
<g filter="url(#bl)" transform="rotate(-80.0 215.9 295.2)">
<ellipse cx="215.9" cy="295.2" rx="5.40" ry="4.80" fill="#2c58dc" opacity="0.9"/>
<ellipse cx="215.9" cy="295.2" rx="4.32" ry="3.84" fill="#2a98d2" opacity="1"/>
<ellipse cx="215.9" cy="295.2" rx="3.46" ry="3.07" fill="#52be48" opacity="1"/>
<ellipse cx="215.9" cy="295.2" rx="1.73" ry="1.54" fill="#98b83a" opacity="1"/>
</g>
</g>
<line x1="204.90" y1="270.40" x2="204.90" y2="332.80" stroke="#9a9a9a" stroke-width="0.8" />
<line x1="179.30" y1="302.70" x2="241.50" y2="302.70" stroke="#9a9a9a" stroke-width="0.8" />
<rect x="179.3" y="270.4" width="62.2" height="62.4" fill="none" stroke="#858585" stroke-width="1"/>
<line x1="177.70" y1="275.90" x2="179.30" y2="275.90" stroke="#666" stroke-width="0.6" />
<text x="171.9" y="277.5" font-size="3.6" fill="#888">10<tspan dy="-1.4" font-size="2.6">5</tspan></text>
<line x1="186.50" y1="332.80" x2="186.50" y2="334.40" stroke="#666" stroke-width="0.6" />
<text x="183.7" y="339.2" font-size="3.6" fill="#888">10<tspan dy="-1.4" font-size="2.6">1</tspan></text>
<line x1="177.70" y1="288.20" x2="179.30" y2="288.20" stroke="#666" stroke-width="0.6" />
<text x="171.9" y="289.8" font-size="3.6" fill="#888">10<tspan dy="-1.4" font-size="2.6">4</tspan></text>
<line x1="198.70" y1="332.80" x2="198.70" y2="334.40" stroke="#666" stroke-width="0.6" />
<text x="195.9" y="339.2" font-size="3.6" fill="#888">10<tspan dy="-1.4" font-size="2.6">2</tspan></text>
<line x1="177.70" y1="300.50" x2="179.30" y2="300.50" stroke="#666" stroke-width="0.6" />
<text x="171.9" y="302.1" font-size="3.6" fill="#888">10<tspan dy="-1.4" font-size="2.6">3</tspan></text>
<line x1="210.90" y1="332.80" x2="210.90" y2="334.40" stroke="#666" stroke-width="0.6" />
<text x="208.1" y="339.2" font-size="3.6" fill="#888">10<tspan dy="-1.4" font-size="2.6">3</tspan></text>
<line x1="177.70" y1="312.80" x2="179.30" y2="312.80" stroke="#666" stroke-width="0.6" />
<text x="171.9" y="314.4" font-size="3.6" fill="#888">10<tspan dy="-1.4" font-size="2.6">2</tspan></text>
<line x1="223.10" y1="332.80" x2="223.10" y2="334.40" stroke="#666" stroke-width="0.6" />
<text x="220.3" y="339.2" font-size="3.6" fill="#888">10<tspan dy="-1.4" font-size="2.6">4</tspan></text>
<line x1="177.70" y1="325.10" x2="179.30" y2="325.10" stroke="#666" stroke-width="0.6" />
<text x="171.9" y="326.7" font-size="3.6" fill="#888">10<tspan dy="-1.4" font-size="2.6">1</tspan></text>
<line x1="235.30" y1="332.80" x2="235.30" y2="334.40" stroke="#666" stroke-width="0.6" />
<text x="232.5" y="339.2" font-size="3.6" fill="#888">10<tspan dy="-1.4" font-size="2.6">5</tspan></text>
<text x="180.30" y="275.00" font-size="5.7" font-weight="bold" text-anchor="start" fill="#111" stroke="#111" stroke-width="0.12" >2.12%</text>
<text x="240.00" y="275.00" font-size="5.7" font-weight="bold" text-anchor="end" fill="#111" stroke="#111" stroke-width="0.12" >88.7%</text>
<text x="180.30" y="331.60" font-size="5.7" font-weight="bold" text-anchor="start" fill="#111" stroke="#111" stroke-width="0.12" >5.91%</text>
<text x="240.00" y="331.60" font-size="5.7" font-weight="bold" text-anchor="end" fill="#111" stroke="#111" stroke-width="0.12" >3.32%</text>
</g>
</svg>
</body></html>
